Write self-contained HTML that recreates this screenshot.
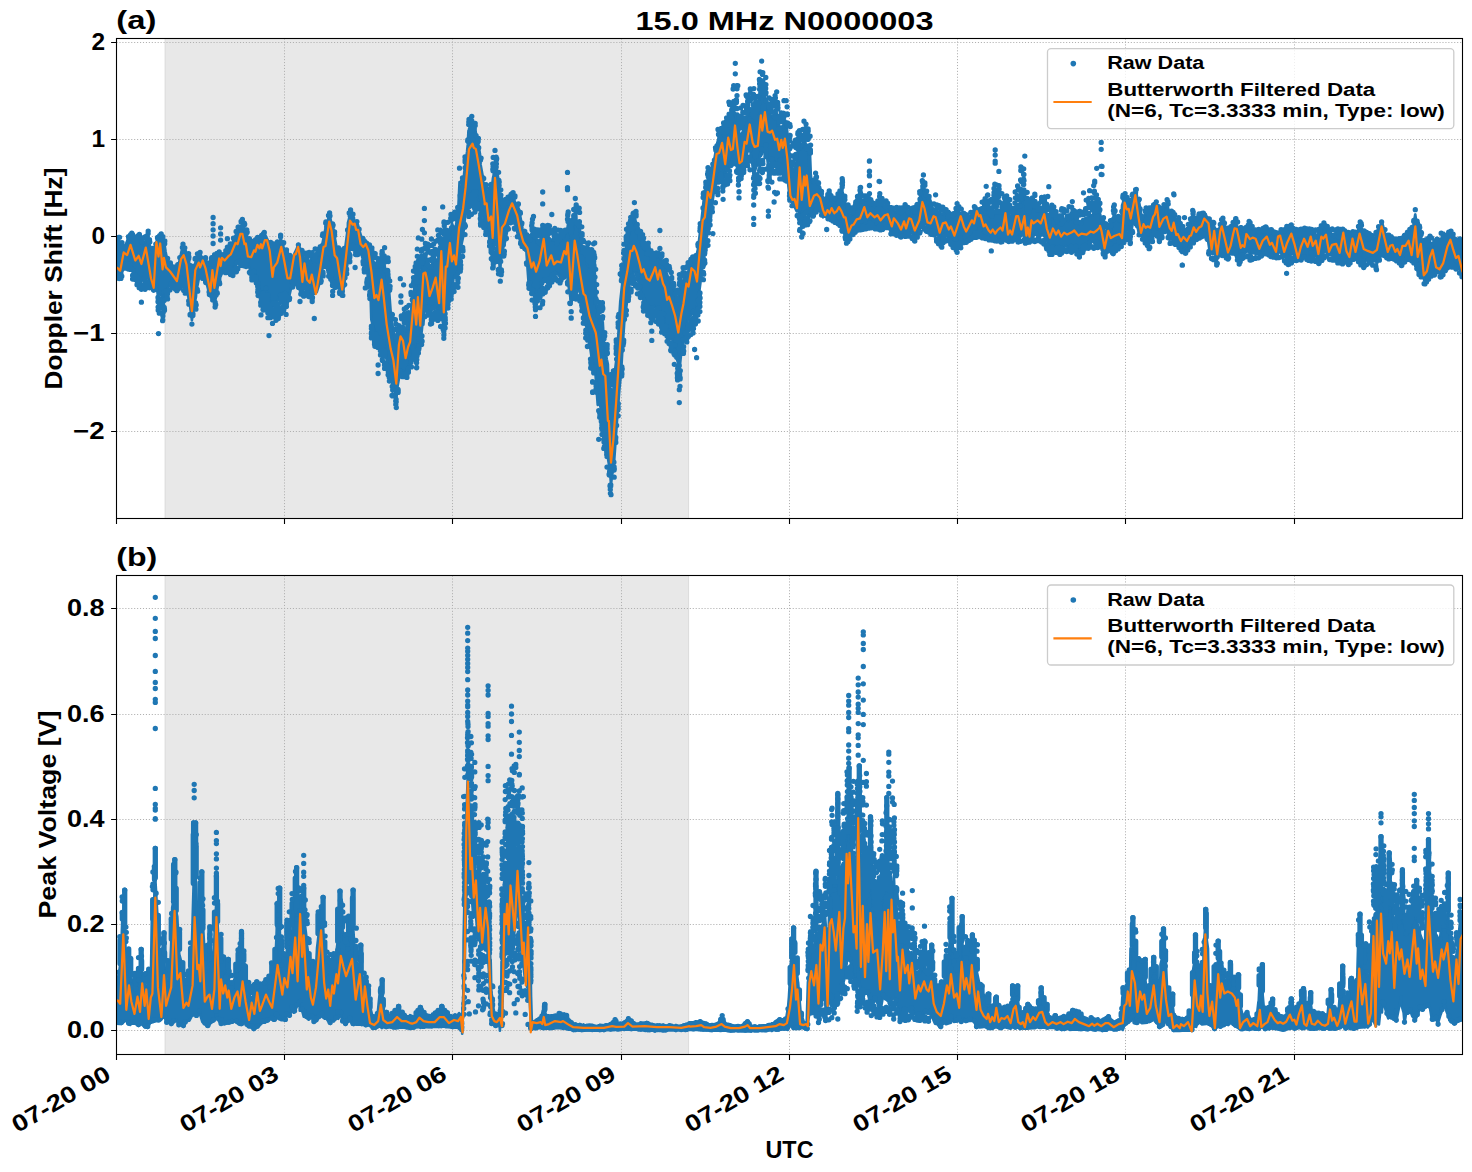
<!DOCTYPE html>
<html><head><meta charset="utf-8"><title>chart</title><style>html,body{margin:0;padding:0;background:#fff}svg{display:block}</style></head><body>
<svg width="1472" height="1172" viewBox="0 0 1472 1172" font-family="Liberation Sans, sans-serif" font-weight="bold" fill="#000">
<rect width="1472" height="1172" fill="#fff"/>
<defs>
<clipPath id="c1"><rect x="116.5" y="38.5" width="1346.0" height="480.0"/></clipPath>
<clipPath id="c2"><rect x="116.5" y="575.5" width="1346.0" height="479.0"/></clipPath>
</defs>
<rect x="164.8" y="38.5" width="524.2" height="480.0" fill="#e8e8e8"/>
<path d="M165.20000000000002 38.5V518.5M688.6 38.5V518.5" stroke="#dcdcdc" stroke-width="1" fill="none"/>
<path d="M284.5 38.5V518.5M452.5 38.5V518.5M621.5 38.5V518.5M789.5 38.5V518.5M957.5 38.5V518.5M1125.5 38.5V518.5M1294.5 38.5V518.5M116.5 42.5H1462.5M116.5 139.5H1462.5M116.5 236.5H1462.5M116.5 333.5H1462.5M116.5 431.5H1462.5" stroke="#b0b0b0" stroke-width="1" stroke-dasharray="1.1 1.84" fill="none"/>
<g clip-path="url(#c1)"><path d="M113.5 246.1 115.5 246.3 116.8 245.3 118.3 246.4 119.6 245.9 121.0 248.9 123.1 247.6 123.7 247.3 125.5 245.2 127.7 239.4 127.8 241.0 130.4 236.4 131.8 236.3 133.2 242.7 135.1 241.9 135.9 242.7 136.9 242.9 139.4 240.1 139.7 242.2 142.0 243.9 143.4 243.5 144.7 242.7 146.5 238.6 148.2 239.1 148.9 242.3 151.0 248.7 151.5 250.8 153.6 260.2 153.7 256.8 156.6 241.0 157.8 239.6 159.4 241.7 161.2 238.6 161.3 238.6 163.1 246.6 164.6 244.6 165.6 251.5 167.3 260.3 168.5 264.1 170.7 266.1 172.8 268.1 172.8 270.3 175.1 270.4 176.9 268.8 178.3 266.0 179.0 263.1 181.3 252.2 183.0 245.8 183.7 247.4 185.8 251.0 187.8 256.9 187.9 260.6 189.9 269.3 191.9 278.2 192.3 278.5 194.4 265.4 196.3 260.0 197.4 255.8 199.1 254.9 200.1 254.6 201.5 256.4 204.1 259.2 205.6 259.5 206.1 260.8 209.1 265.2 209.7 265.6 212.0 260.9 213.9 263.2 216.1 259.8 217.8 255.3 218.8 256.1 221.4 253.6 224.4 253.4 226.0 251.7 226.7 251.5 229.5 249.8 232.1 245.0 232.9 241.4 234.2 237.9 236.7 233.5 238.3 228.5 239.6 226.8 242.4 225.5 242.4 222.7 244.8 232.6 246.5 233.2 247.3 236.4 249.2 242.3 250.6 245.5 251.2 245.2 254.0 245.2 256.3 240.5 257.4 239.2 258.3 242.9 260.8 237.6 263.4 235.0 264.3 233.4 266.0 236.5 268.3 241.3 269.7 242.3 270.6 247.7 273.0 253.6 275.2 250.2 275.7 252.0 278.2 244.0 280.4 240.6 280.6 237.9 282.8 244.8 284.7 250.3 286.1 252.5 286.5 254.9 289.2 260.2 291.6 261.2 292.1 259.0 294.6 253.0 296.9 248.4 298.4 244.1 298.9 245.4 300.0 247.9 301.3 252.9 304.3 258.1 306.1 258.2 307.0 259.3 309.5 262.1 312.3 256.8 314.3 257.7 314.4 258.1 316.8 259.2 319.7 252.9 320.4 250.6 322.2 244.4 324.6 232.8 326.5 223.0 326.7 225.3 329.2 215.0 329.6 214.5 332.1 226.6 333.6 231.0 333.9 232.5 336.7 247.9 337.7 249.7 339.5 255.0 342.3 261.1 343.8 259.9 345.0 249.4 347.8 227.8 347.9 222.9 350.2 214.4 350.6 211.8 352.7 217.0 355.0 222.0 356.9 224.0 357.1 221.7 359.7 231.3 362.2 239.6 363.2 239.8 364.2 239.5 366.6 241.7 369.0 245.9 371.2 251.6 372.4 255.5 373.5 262.3 375.9 264.4 378.4 267.4 379.5 266.6 381.0 263.5 383.3 262.4 384.6 265.1 385.2 268.9 387.2 278.4 388.7 284.3 389.3 292.5 391.8 327.2 391.8 321.2 394.6 337.3 397.3 347.1 397.9 337.0 400.1 325.7 402.9 326.3 404.0 326.3 405.0 331.6 407.8 325.7 410.1 316.0 410.4 317.9 412.3 298.3 414.1 291.7 414.2 285.0 415.9 287.4 418.3 276.6 418.6 279.8 420.7 280.4 422.4 258.3 422.7 256.5 425.2 253.6 427.4 263.4 427.5 261.6 429.3 265.2 431.3 265.9 433.8 258.2 434.6 256.6 435.8 260.1 437.9 260.1 440.5 245.9 440.7 244.0 442.7 243.2 442.9 252.0 445.1 249.1 446.8 243.2 447.4 242.7 449.3 236.0 451.5 226.5 451.9 223.1 453.8 228.2 455.9 225.7 457.0 219.3 457.4 216.4 457.8 218.9 459.5 182.1 460.2 198.8 460.7 194.6 463.1 184.4 464.3 171.9 465.1 166.3 467.0 151.9 467.7 144.9 468.4 131.0 470.4 127.8 471.8 123.6 472.3 129.2 474.1 126.7 475.2 127.8 476.1 134.4 477.2 136.7 478.7 146.3 480.0 154.0 480.7 164.9 482.7 175.9 483.4 183.1 486.0 189.0 487.5 193.3 488.4 198.0 490.2 200.0 490.5 201.6 492.9 178.4 493.5 175.8 495.0 160.6 496.2 165.6 498.4 179.1 498.6 184.9 500.4 202.8 500.7 205.7 502.5 210.5 503.3 208.6 505.6 209.5 508.0 200.3 508.1 201.4 510.2 197.7 512.8 197.5 513.1 194.7 514.7 201.3 516.8 205.5 519.2 209.6 519.8 213.4 522.6 229.1 523.3 231.5 524.8 234.0 527.6 238.9 528.4 239.6 529.8 238.5 532.5 231.4 532.7 233.1 533.5 238.2 535.4 239.3 537.7 240.2 539.8 242.2 541.6 233.3 542.7 229.5 544.5 233.4 546.3 238.7 547.8 235.8 549.1 238.2 552.1 240.3 554.6 237.8 556.6 242.4 558.0 238.1 559.4 238.5 562.4 238.7 564.1 237.0 565.0 233.3 565.1 232.4 567.4 228.5 568.2 222.6 569.7 234.4 570.2 234.8 571.9 235.7 573.3 227.4 573.9 221.0 575.3 211.3 576.3 214.8 576.6 222.0 578.9 224.4 579.4 222.8 580.9 240.5 582.4 250.0 582.8 250.9 585.4 257.3 587.6 266.0 588.5 263.7 590.0 269.3 592.2 269.7 594.7 270.9 595.0 275.8 596.7 304.2 596.7 304.2 597.9 314.1 599.7 320.7 601.8 321.0 602.8 322.2 602.8 322.2 603.8 339.4 603.8 339.4 604.0 342.8 606.9 359.7 607.9 364.2 608.9 392.7 609.7 400.7 611.9 400.4 612.6 397.7 613.9 383.3 615.1 369.3 616.6 357.7 618.1 338.8 619.4 314.7 620.2 302.0 620.2 302.0 622.3 282.9 624.2 250.4 624.5 255.6 627.4 240.2 630.0 230.6 630.4 228.5 632.4 227.1 634.4 215.0 635.3 219.4 637.4 230.6 638.5 234.6 640.1 239.3 642.0 247.0 642.6 245.6 644.0 248.9 646.9 252.2 648.7 254.1 648.9 255.0 651.7 256.9 653.8 257.5 654.2 257.6 657.0 257.7 659.2 255.4 659.9 254.4 661.4 260.9 663.6 262.0 666.0 267.3 666.4 272.5 669.0 279.6 671.9 284.2 672.2 284.2 674.8 292.5 676.7 299.0 677.3 301.3 679.2 291.4 680.3 284.5 681.1 286.2 683.0 281.5 684.8 274.0 685.4 271.7 687.7 273.7 690.4 262.6 690.5 262.6 693.2 259.6 695.4 259.3 695.6 259.3 698.0 248.8 700.7 226.3 700.7 227.1 703.0 206.5 703.8 198.7 705.4 192.9 707.5 180.8 707.8 179.2 709.4 181.6 711.5 176.9 711.9 175.2 714.4 158.8 716.0 149.3 716.9 144.4 718.0 140.0 719.8 136.7 721.4 131.8 722.1 132.7 723.1 133.8 724.3 138.7 725.5 136.5 727.0 130.1 728.9 119.2 729.8 123.4 731.0 125.7 731.6 126.9 733.7 109.6 734.2 111.8 736.1 113.8 737.8 113.6 738.1 122.1 739.1 132.7 740.9 135.1 742.6 132.1 742.8 131.3 743.9 116.9 744.9 117.5 747.9 115.7 748.7 107.6 750.2 108.6 752.1 113.3 754.1 115.2 754.8 115.5 756.2 116.4 758.3 111.4 758.9 101.6 759.6 93.8 760.8 91.3 761.7 89.8 763.7 94.1 764.4 94.2 766.0 99.7 767.1 102.0 768.9 113.5 769.2 112.5 771.8 116.6 773.3 117.1 774.0 115.0 774.6 113.4 776.1 116.6 776.7 113.0 778.4 127.5 778.7 124.3 780.4 127.7 782.8 125.8 782.9 128.9 784.2 118.6 784.8 119.7 786.2 122.1 786.6 124.8 788.3 141.2 789.6 154.2 790.4 161.9 791.0 164.4 791.7 166.7 793.5 171.1 793.8 171.4 794.3 169.4 796.6 161.7 797.2 154.5 797.6 153.0 798.8 143.8 799.2 141.0 800.6 143.6 800.6 149.5 803.5 141.1 804.0 138.9 804.7 139.6 806.5 147.1 807.7 144.8 807.8 144.8 809.5 170.4 809.8 169.0 810.1 155.5 810.8 173.8 811.4 179.7 812.2 182.5 812.9 183.2 813.5 182.4 815.6 178.1 815.9 178.9 816.0 178.9 819.0 185.0 819.7 186.7 820.0 186.9 821.4 192.3 824.1 201.3 824.1 201.3 826.7 199.5 828.8 197.3 829.2 196.8 831.2 200.0 833.4 202.0 834.3 201.3 835.5 199.9 837.4 197.0 839.4 194.1 839.5 194.6 842.4 188.8 842.5 191.9 844.8 200.3 845.5 203.6 847.4 209.2 850.0 215.9 851.6 214.0 852.9 211.1 855.2 206.9 857.4 204.7 859.5 200.1 860.0 196.9 861.2 199.5 861.7 199.9 864.5 199.4 867.4 200.9 868.4 200.8 869.6 202.2 871.8 205.0 874.2 206.6 874.5 206.9 876.7 204.3 879.2 202.0 879.6 201.7 881.3 202.9 883.2 206.0 885.3 205.2 886.7 203.9 887.1 205.0 889.6 209.5 891.5 211.0 892.8 211.4 893.4 211.6 895.9 212.4 896.9 209.8 898.1 210.2 900.8 211.2 903.2 209.2 905.1 209.2 906.1 212.1 908.0 211.4 910.5 209.3 911.2 209.9 913.2 212.9 915.1 210.6 917.3 208.5 918.0 206.2 920.0 197.8 920.4 192.5 922.8 184.7 923.4 182.8 925.8 194.8 927.5 198.6 928.5 204.3 930.7 205.9 931.6 206.8 932.7 208.2 935.1 209.7 938.0 211.5 940.1 213.0 943.0 214.2 943.8 210.7 945.0 213.1 947.9 215.7 949.7 216.2 951.9 217.9 952.0 217.8 954.8 215.6 957.1 209.4 957.5 211.3 960.4 213.5 962.2 212.4 963.2 214.1 965.9 218.1 968.3 218.6 968.5 218.6 970.6 217.4 972.9 211.6 974.4 209.2 974.9 209.8 977.5 208.5 980.1 211.9 980.5 212.1 982.2 212.2 983.6 212.0 984.1 211.8 986.2 206.8 987.1 210.4 989.8 216.5 990.7 216.3 992.3 214.7 994.7 210.6 994.8 210.6 997.6 210.6 999.9 210.0 1000.9 209.4 1002.2 210.1 1004.4 204.7 1006.5 208.2 1007.0 209.6 1008.3 214.5 1010.9 216.1 1013.1 214.5 1013.2 215.0 1015.7 206.4 1017.6 204.3 1019.3 203.3 1019.8 204.7 1021.3 197.8 1021.8 200.3 1023.7 192.8 1024.8 191.3 1025.8 201.7 1027.4 211.5 1028.6 211.4 1030.9 209.4 1031.5 206.4 1033.2 207.7 1035.7 208.1 1037.8 208.8 1039.6 210.3 1039.7 210.5 1042.0 208.9 1044.4 207.0 1047.0 215.0 1047.8 215.1 1049.3 220.4 1052.0 216.3 1053.9 216.4 1054.6 218.2 1056.7 223.2 1058.0 219.8 1059.1 219.6 1061.5 222.5 1063.6 219.3 1064.1 218.7 1065.9 219.0 1068.3 221.0 1071.2 218.6 1072.3 217.4 1074.1 218.0 1076.3 220.7 1076.4 220.5 1078.8 221.0 1080.7 222.1 1082.5 219.2 1082.6 220.1 1085.0 218.3 1087.8 217.8 1089.6 214.4 1089.8 215.1 1092.5 215.6 1094.7 208.8 1095.4 210.6 1097.6 210.7 1098.8 210.4 1100.0 213.6 1100.2 214.3 1103.0 227.8 1103.1 227.1 1105.3 233.3 1106.1 232.2 1107.9 228.4 1110.2 230.5 1110.6 231.6 1112.3 219.5 1113.1 218.4 1114.3 212.9 1115.9 216.7 1117.4 218.4 1118.8 222.1 1121.0 222.5 1121.8 210.1 1122.0 205.5 1124.3 198.7 1125.1 195.5 1126.3 198.6 1128.4 205.8 1128.7 202.9 1130.4 202.0 1132.8 196.4 1132.9 196.6 1135.6 190.9 1136.3 191.1 1137.5 199.5 1139.4 203.6 1140.1 207.5 1142.0 219.4 1142.8 219.5 1145.0 214.1 1146.1 212.3 1147.4 214.6 1149.4 214.0 1151.2 211.3 1152.1 212.7 1153.9 209.2 1156.3 201.6 1156.9 206.1 1159.7 212.7 1160.4 213.0 1162.2 210.4 1163.5 208.3 1164.3 208.2 1167.1 203.7 1167.2 204.6 1170.2 215.7 1170.6 214.7 1172.2 215.0 1173.7 213.7 1174.9 218.1 1177.7 220.2 1177.8 220.2 1180.3 225.1 1181.9 227.4 1182.9 228.3 1185.3 231.5 1186.0 232.0 1188.2 227.7 1190.1 222.3 1191.1 220.6 1192.7 214.8 1193.4 216.4 1196.2 222.4 1196.2 220.8 1198.3 216.9 1198.5 216.8 1200.5 216.1 1202.7 214.4 1203.4 213.2 1204.6 213.4 1207.5 217.8 1208.5 217.9 1210.5 227.3 1212.4 226.4 1213.7 224.7 1214.9 228.1 1217.2 232.9 1217.7 232.9 1219.2 228.5 1221.3 222.9 1222.9 220.0 1223.4 222.1 1226.1 229.1 1227.0 231.8 1227.9 232.7 1229.9 231.6 1231.1 230.3 1232.3 227.2 1234.1 224.4 1235.7 219.8 1236.6 224.7 1239.2 230.7 1240.3 230.6 1242.0 231.5 1244.0 233.7 1245.4 229.5 1246.2 228.5 1248.6 228.3 1250.0 225.4 1250.7 226.8 1253.2 231.2 1255.3 231.9 1255.6 231.2 1258.0 235.0 1260.7 235.0 1263.5 229.9 1265.8 228.5 1266.5 229.8 1268.9 231.4 1271.3 232.4 1274.1 235.1 1276.0 235.9 1276.9 236.0 1279.3 231.7 1281.6 233.9 1283.7 232.9 1284.2 232.6 1285.7 231.4 1288.4 228.5 1290.4 226.7 1291.3 226.3 1293.1 228.7 1295.5 233.5 1298.4 236.6 1298.5 237.1 1301.2 232.9 1304.2 231.7 1304.6 230.1 1306.1 234.3 1308.5 232.6 1311.0 230.6 1313.2 234.0 1314.7 232.3 1315.6 234.9 1317.8 235.0 1320.3 229.5 1322.1 228.7 1323.9 225.7 1324.4 229.2 1326.7 228.8 1328.9 233.1 1331.1 232.5 1331.2 233.9 1333.9 234.2 1336.5 232.9 1338.9 235.9 1339.2 234.3 1341.5 233.0 1343.8 231.0 1345.8 234.3 1347.6 236.2 1349.4 236.9 1349.7 239.4 1352.3 233.6 1355.1 238.2 1355.5 236.1 1357.9 230.8 1360.2 224.5 1360.3 225.3 1363.3 231.7 1365.7 234.8 1365.7 234.8 1368.5 237.7 1370.8 236.7 1373.4 238.7 1373.9 237.5 1376.4 237.2 1378.6 229.7 1380.6 227.7 1381.6 221.3 1383.1 226.0 1385.6 235.8 1386.1 234.9 1387.8 237.7 1389.6 239.0 1391.9 239.6 1394.2 241.4 1394.3 240.6 1396.5 241.0 1399.3 242.2 1401.8 242.0 1402.4 239.1 1404.5 237.3 1407.4 234.8 1408.6 233.0 1410.1 234.4 1412.5 231.6 1412.6 229.9 1415.2 214.5 1415.3 214.4 1417.7 231.8 1418.7 232.3 1420.3 233.4 1422.8 244.2 1422.9 244.6 1425.2 249.1 1427.7 245.3 1430.0 241.2 1430.3 244.2 1433.2 242.5 1435.1 246.3 1435.9 247.8 1438.7 246.3 1441.2 242.1 1441.5 242.0 1444.2 240.6 1446.3 238.6 1446.8 238.5 1449.0 236.2 1451.0 232.6 1451.1 236.3 1453.8 240.4 1456.5 246.3 1456.6 246.3 1459.1 245.0 1461.0 248.1 1462.6 245.0 1463.8 245.5 L1463.8 279.1 1462.6 278.2 1461.0 271.1 1459.1 269.4 1456.6 266.9 1454.4 264.2 1453.8 263.5 1451.1 261.2 1449.0 260.0 1447.3 263.6 1446.8 264.1 1444.2 267.4 1441.5 272.4 1441.2 275.4 1438.7 272.3 1435.9 273.8 1435.1 272.4 1433.2 270.0 1430.3 269.1 1430.0 272.3 1427.7 277.6 1425.2 280.7 1424.9 282.7 1422.9 275.8 1420.3 265.1 1419.8 269.5 1417.7 266.6 1415.7 256.4 1415.2 255.1 1412.5 257.2 1410.1 257.0 1408.6 255.0 1407.4 255.3 1404.5 258.9 1401.8 259.2 1401.4 262.3 1399.3 259.7 1396.5 258.2 1396.3 259.1 1394.2 257.0 1391.9 256.7 1389.6 255.4 1388.2 257.9 1387.8 256.8 1385.6 253.8 1383.1 249.8 1382.0 247.8 1380.6 249.4 1378.6 258.6 1376.5 265.4 1376.4 261.3 1373.4 261.1 1370.8 260.3 1369.8 260.8 1368.5 261.3 1365.7 259.7 1363.7 263.3 1363.3 262.0 1360.3 255.4 1357.9 254.7 1355.5 257.3 1355.1 257.3 1352.3 253.7 1349.7 261.4 1348.4 263.4 1347.6 261.8 1345.8 259.9 1343.8 254.9 1341.5 258.7 1339.2 261.4 1338.9 260.9 1336.5 257.7 1333.9 255.9 1331.2 255.4 1328.9 254.9 1327.0 254.4 1326.7 251.0 1324.4 251.7 1322.1 254.2 1320.3 258.1 1318.8 261.2 1317.8 260.3 1315.6 254.3 1313.2 257.1 1311.0 254.0 1308.5 256.3 1306.6 256.4 1306.1 256.0 1304.2 255.2 1301.2 256.1 1298.5 260.9 1296.4 259.9 1295.5 258.7 1293.1 253.4 1290.4 255.0 1288.4 256.6 1288.2 258.7 1285.7 256.7 1283.7 256.5 1282.1 255.3 1281.6 254.2 1279.3 251.1 1276.9 254.9 1274.1 256.3 1274.0 256.1 1271.3 254.0 1268.9 250.7 1266.5 250.6 1263.8 251.4 1263.5 250.1 1260.7 254.6 1258.0 253.6 1255.6 254.8 1255.3 253.6 1253.2 252.9 1250.7 253.9 1250.0 254.9 1248.6 250.8 1246.2 252.1 1244.0 254.0 1243.3 255.9 1242.0 256.2 1239.2 258.6 1239.2 258.6 1236.6 250.1 1234.1 248.0 1233.1 248.0 1232.3 249.6 1229.9 252.1 1228.0 258.3 1227.9 255.3 1226.1 252.7 1223.4 248.2 1221.3 247.3 1220.8 248.5 1219.2 253.8 1217.2 258.5 1216.7 262.1 1214.9 253.1 1212.4 254.2 1210.5 252.0 1209.6 251.4 1207.5 237.3 1206.5 232.0 1204.6 232.4 1202.7 232.0 1202.4 234.0 1200.5 233.7 1198.5 237.1 1196.2 238.6 1196.2 238.5 1193.4 239.5 1191.1 244.1 1190.1 245.9 1188.2 248.2 1185.5 250.8 1185.3 248.1 1182.9 249.4 1181.9 249.7 1180.3 248.3 1177.7 244.8 1175.8 243.0 1174.9 240.3 1172.2 238.4 1170.2 239.5 1169.6 240.0 1167.2 231.3 1164.5 229.9 1164.3 230.2 1162.2 233.7 1159.7 237.5 1159.4 237.9 1156.9 231.1 1154.3 231.8 1153.9 232.3 1152.1 236.3 1149.4 240.2 1149.1 243.7 1147.4 241.5 1145.0 239.2 1143.0 237.1 1142.8 236.4 1140.1 232.9 1138.9 233.3 1137.5 227.2 1135.6 219.6 1134.8 218.0 1132.9 223.2 1130.4 235.6 1130.2 236.6 1128.4 229.0 1126.6 231.0 1126.3 229.3 1124.3 232.4 1123.5 237.7 1121.8 244.2 1118.8 243.1 1118.4 245.9 1115.9 247.5 1113.3 250.3 1113.1 250.0 1110.6 245.2 1110.2 247.1 1107.9 248.4 1105.3 254.7 1105.1 255.1 1103.0 250.8 1100.2 243.2 1100.0 244.3 1097.6 244.1 1096.7 244.3 1095.4 243.3 1092.5 241.0 1089.8 243.7 1087.8 244.4 1086.6 245.6 1085.0 246.8 1082.6 247.8 1080.7 248.9 1079.4 251.3 1078.8 251.0 1076.3 247.8 1074.1 248.2 1071.2 247.9 1070.2 247.9 1068.3 248.1 1065.9 245.9 1063.6 247.8 1061.5 249.8 1060.0 249.7 1059.1 248.9 1056.7 249.3 1054.6 245.9 1052.0 248.7 1049.8 250.3 1049.3 248.9 1047.0 240.1 1045.8 240.2 1044.4 236.0 1042.0 234.2 1039.6 237.4 1037.8 234.9 1037.6 236.3 1035.7 234.1 1033.2 235.9 1030.9 238.1 1028.6 241.1 1025.8 240.3 1025.4 239.8 1023.7 235.1 1021.8 235.0 1019.8 237.7 1017.6 232.6 1015.7 235.8 1013.2 238.4 1013.1 239.2 1010.9 238.3 1008.3 239.3 1006.5 233.5 1004.4 233.5 1002.2 237.5 1000.9 239.6 999.9 237.0 997.6 238.0 994.7 236.8 992.7 238.8 992.3 236.7 989.8 238.8 987.1 237.0 984.1 235.8 982.6 234.9 982.2 234.3 980.1 230.9 978.5 230.9 977.5 230.6 974.9 234.3 972.9 234.5 972.4 235.9 970.6 236.5 968.5 238.5 965.9 239.9 964.2 240.5 963.2 239.9 960.4 239.0 957.5 245.3 957.1 246.3 954.8 245.3 951.9 239.6 949.7 237.5 947.9 237.8 947.9 235.3 945.0 236.5 943.0 239.9 941.8 242.5 940.1 240.0 938.0 235.5 935.6 235.0 935.1 231.7 932.7 232.3 930.7 229.0 929.5 230.9 928.5 230.6 925.8 223.0 922.8 223.3 921.4 224.9 920.0 228.4 918.0 233.1 915.1 238.9 914.8 239.2 913.2 233.6 910.5 232.8 909.1 232.4 908.0 231.2 906.1 232.9 903.2 234.4 901.0 236.1 900.8 236.0 898.1 233.4 895.9 232.5 893.4 232.1 891.5 232.8 890.8 232.5 889.6 229.3 887.7 225.5 887.1 225.4 885.3 225.1 883.2 226.7 881.3 225.7 880.6 228.4 879.2 227.7 876.7 226.4 874.2 226.7 871.8 225.6 870.4 225.2 869.6 224.0 867.4 225.4 864.5 223.6 861.7 224.6 860.0 227.8 859.5 226.6 858.2 228.1 857.4 228.9 855.2 229.4 852.9 233.2 851.6 234.8 850.0 236.5 847.4 237.4 846.5 238.5 844.8 233.6 844.5 234.6 842.5 229.6 839.5 219.0 839.4 222.1 837.4 220.9 835.5 218.5 833.4 220.1 831.2 218.3 831.2 217.5 828.8 216.8 826.7 217.0 824.1 216.4 823.1 217.3 821.4 212.4 819.0 205.5 819.0 204.4 816.0 207.2 813.5 211.4 812.9 213.5 811.4 213.5 809.5 217.0 807.8 215.9 806.5 212.9 803.5 215.9 801.7 224.8 800.6 219.3 799.6 213.9 798.8 210.7 796.6 210.6 796.6 211.3 794.3 206.1 791.7 202.0 789.6 194.4 789.4 196.4 786.6 168.9 786.4 168.2 784.8 163.0 782.9 165.4 782.3 165.3 780.4 161.1 778.4 165.9 776.1 163.0 774.1 161.7 774.0 161.6 771.8 160.4 768.9 161.3 768.0 165.1 766.0 147.6 766.0 146.3 763.7 150.3 760.9 156.2 760.8 150.3 758.9 162.0 756.2 166.9 754.1 174.3 753.7 176.9 752.1 162.2 750.2 150.8 749.7 148.4 747.9 151.0 744.9 159.8 744.6 160.8 742.8 167.5 740.9 173.3 738.4 174.3 738.1 170.1 736.1 160.8 734.2 155.8 732.3 158.6 731.6 160.0 729.8 165.1 729.3 167.1 727.0 170.8 724.3 176.2 723.1 180.1 722.1 171.8 721.1 170.0 719.8 173.8 716.9 179.6 715.0 188.3 714.4 188.6 711.5 209.0 709.9 214.6 709.4 215.4 707.5 226.8 706.8 236.4 705.4 244.2 703.0 256.8 702.7 258.2 700.7 280.0 700.7 280.9 698.0 301.5 695.4 313.4 694.6 316.2 693.2 312.7 690.4 316.4 687.7 319.2 687.5 322.6 684.8 334.1 683.4 343.4 683.0 341.0 681.1 354.4 679.3 371.7 679.2 367.0 676.7 358.5 674.8 346.5 674.2 350.1 671.9 337.3 670.1 332.9 669.0 329.5 666.4 328.0 664.0 321.8 663.6 315.1 661.4 314.7 659.2 309.3 657.9 310.7 657.0 310.0 654.2 306.2 651.7 308.9 649.7 310.4 648.9 308.7 646.9 306.1 644.0 296.8 643.6 300.3 642.0 296.7 640.1 288.0 639.5 288.3 637.4 276.5 635.3 270.5 633.4 273.5 632.4 277.0 630.0 277.3 629.3 286.9 627.4 299.4 624.5 320.6 624.2 323.8 622.3 351.4 621.2 371.5 619.4 389.9 617.1 419.4 616.6 426.8 614.0 463.6 613.9 463.5 611.9 477.3 611.0 484.4 609.7 469.2 607.9 458.4 606.9 447.2 604.0 425.1 603.8 424.2 601.8 412.0 599.7 404.4 597.9 404.3 597.7 405.0 597.7 405.0 595.0 368.0 592.2 359.7 591.6 357.9 590.0 346.3 589.6 343.3 587.6 330.9 585.4 323.9 584.5 324.5 584.5 324.5 582.8 309.4 580.9 292.4 580.4 294.9 578.9 287.1 576.6 281.1 576.3 284.8 575.3 280.3 573.9 283.8 571.9 300.1 571.2 304.6 571.2 304.6 569.7 292.8 569.2 291.0 567.4 276.5 566.1 272.9 565.1 273.7 565.0 271.9 562.4 273.2 560.0 278.1 559.4 276.2 556.6 272.9 554.9 275.7 554.6 274.9 552.1 276.3 549.1 280.3 547.8 284.0 546.3 281.7 544.5 281.2 541.6 284.9 540.6 292.2 539.8 292.5 537.7 296.4 535.5 298.5 535.4 297.5 532.7 291.4 529.8 283.9 528.4 280.8 527.6 270.0 526.4 251.9 524.8 249.9 522.6 246.2 519.8 239.8 518.2 236.1 516.8 230.1 514.7 222.4 512.8 218.7 512.1 217.9 510.2 220.8 508.1 223.4 508.0 226.4 505.6 239.4 503.9 246.4 503.3 246.2 500.7 262.9 500.3 272.0 498.6 257.7 496.2 240.4 495.8 241.5 493.5 248.1 492.7 256.8 490.5 242.0 489.7 240.8 488.4 234.8 486.0 227.9 483.5 221.5 483.4 215.3 480.7 210.9 478.7 202.3 476.1 193.2 475.4 193.2 474.1 193.2 472.3 193.2 470.4 193.4 467.7 200.2 467.2 203.2 465.1 216.9 463.1 236.0 463.1 236.9 460.7 248.6 459.1 269.7 457.8 274.4 455.9 277.7 453.8 276.3 452.9 283.5 451.5 286.8 449.3 289.3 447.8 298.6 447.4 298.0 445.1 315.1 443.8 328.1 442.9 322.9 440.5 303.3 438.7 314.0 437.9 313.8 435.8 303.3 433.8 308.7 431.3 309.9 430.5 316.0 429.3 313.9 427.4 308.1 425.4 301.5 425.2 301.0 423.4 324.6 422.7 322.2 420.7 341.0 420.3 343.1 418.6 340.1 416.6 352.0 415.9 352.6 414.1 346.0 412.3 348.0 411.1 356.1 410.4 359.8 407.8 368.6 406.0 374.0 405.0 371.8 402.9 370.8 400.9 369.8 400.1 372.1 397.3 387.9 396.3 400.3 394.6 391.0 391.8 382.2 389.7 374.7 389.3 371.9 387.2 362.5 385.6 354.8 385.2 347.8 383.3 343.3 381.0 336.6 378.4 339.2 377.5 339.2 375.9 335.5 373.5 327.7 371.4 320.1 371.2 317.9 370.4 288.0 369.0 282.9 366.6 269.4 364.2 264.2 362.2 257.2 361.2 253.1 359.7 250.8 356.9 248.1 355.0 246.7 353.0 246.4 352.7 246.8 350.2 247.6 347.9 260.4 347.8 261.9 345.0 279.1 342.8 294.1 342.3 292.6 339.5 286.9 337.7 283.7 336.7 281.4 333.9 280.9 332.6 279.4 332.1 275.3 329.2 262.6 326.7 259.5 326.5 259.1 324.6 265.2 322.2 268.4 319.7 279.2 319.4 283.8 316.8 292.1 314.4 293.6 312.3 292.1 312.2 295.9 309.5 292.8 307.0 291.0 306.1 288.4 304.3 288.6 301.3 291.8 300.0 290.3 298.9 280.5 298.4 276.4 296.9 276.4 294.6 278.6 292.1 283.1 291.6 285.9 289.2 296.4 287.5 304.0 286.5 297.6 284.7 294.8 282.8 296.5 280.6 296.4 280.4 296.6 278.2 299.8 275.7 304.1 273.0 304.8 272.5 308.6 270.6 302.9 268.3 296.2 266.0 289.5 263.4 294.3 260.8 291.2 260.2 294.0 258.3 284.9 256.3 276.4 256.1 275.8 254.0 272.6 251.2 270.7 250.6 272.2 249.2 267.4 247.3 261.9 246.5 262.7 244.8 262.1 242.4 256.1 241.1 261.2 239.6 262.6 236.7 263.7 234.2 264.1 232.9 269.1 232.1 268.3 229.5 269.6 226.7 270.0 224.4 269.8 223.3 269.2 221.4 274.5 219.2 280.1 218.8 280.6 216.1 296.5 215.1 301.6 213.9 296.0 212.0 295.3 211.0 296.8 209.1 293.4 206.1 281.2 205.6 278.8 204.1 276.1 201.5 273.8 200.1 275.1 199.1 277.4 196.3 291.4 196.0 296.8 194.4 304.3 192.3 317.1 191.9 320.3 189.9 305.0 187.9 295.0 187.8 293.7 185.8 285.2 183.7 278.6 182.4 277.7 181.3 276.7 179.0 284.0 176.9 288.6 176.9 288.8 175.1 287.5 172.8 285.3 171.4 283.9 170.7 285.2 168.5 286.3 167.3 291.9 165.6 292.6 163.1 302.7 162.6 304.3 161.3 295.2 159.4 293.8 157.8 295.9 156.6 280.8 156.4 281.2 153.6 291.4 151.5 288.4 151.0 287.4 148.9 280.4 146.5 274.8 144.7 278.5 142.0 280.0 141.4 282.3 139.7 280.3 136.9 278.0 135.1 276.2 133.2 275.3 133.2 271.6 130.5 266.0 130.4 265.8 127.8 265.4 125.5 265.0 125.0 264.5 123.1 269.3 121.0 276.1 120.9 276.5 118.3 277.2 116.8 276.8 115.5 273.7 113.5 276.7Z" fill="#1f77b4" stroke="#1f77b4" stroke-width="2.6" stroke-linejoin="round"/><path d="M113.5 247.5h0M118.3 247.8h0M121.0 250.2h0M125.5 246.6h0M130.4 237.8h0M133.2 244.0h0M136.9 244.3h0M153.6 261.5h0M163.1 248.0h0M168.5 265.5h0M170.7 267.4h0M172.8 271.7h0M176.9 270.1h0M179.0 264.4h0M187.9 262.0h0M189.9 270.7h0M192.3 279.9h0M194.4 266.8h0M199.1 256.2h0M212.0 262.3h0M213.9 264.5h0M216.1 261.2h0M218.8 257.4h0M221.4 255.0h0M224.4 254.7h0M229.5 251.1h0M234.2 239.2h0M242.4 226.8h0M244.8 233.9h0M249.2 243.7h0M251.2 246.5h0M256.3 241.8h0M258.3 244.2h0M260.8 238.9h0M263.4 236.3h0M270.6 249.1h0M275.7 253.4h0M280.4 241.9h0M284.7 251.6h0M286.5 256.2h0M307.0 260.6h0M309.5 263.4h0M314.4 259.4h0M316.8 260.6h0M322.2 245.7h0M324.6 234.2h0M326.7 226.6h0M329.2 216.3h0M332.1 227.9h0M339.5 256.3h0M345.0 250.8h0M350.2 215.7h0M352.7 218.3h0M362.2 241.0h0M364.2 240.9h0M366.6 243.1h0M373.5 263.7h0M375.9 265.8h0M381.0 264.9h0M385.2 270.2h0M400.1 327.1h0M407.8 327.1h0M412.3 299.7h0M414.1 293.1h0M415.9 288.8h0M420.7 281.8h0M425.2 254.9h0M427.4 264.7h0M429.3 266.5h0M431.3 267.2h0M433.8 259.5h0M440.5 247.3h0M449.3 237.3h0M451.5 227.9h0M457.8 220.3h0M463.1 185.7h0M465.1 167.7h0M470.4 129.2h0M472.3 130.5h0M474.1 128.0h0M476.1 135.7h0M478.7 147.7h0M483.4 184.5h0M488.4 199.4h0M496.2 166.9h0M508.1 202.8h0M516.8 206.8h0M524.8 235.4h0M527.6 240.2h0M529.8 239.9h0M532.7 234.4h0M537.7 241.6h0M539.8 243.5h0M544.5 234.8h0M546.3 240.0h0M549.1 239.6h0M554.6 239.1h0M556.6 243.7h0M559.4 239.9h0M567.4 229.8h0M571.9 237.0h0M576.6 223.4h0M578.9 225.8h0M580.9 241.9h0M582.8 252.3h0M590.0 270.6h0M595.0 277.1h0M597.9 315.5h0M599.7 322.1h0M604.0 344.1h0M609.7 402.0h0M613.9 384.6h0M616.6 359.1h0M619.4 316.0h0M627.4 241.6h0M632.4 228.4h0M637.4 231.9h0M646.9 253.6h0M651.7 258.3h0M654.2 259.0h0M661.4 262.3h0M663.6 263.3h0M671.9 285.5h0M674.8 293.8h0M676.7 300.3h0M679.2 292.8h0M683.0 282.9h0M687.7 275.1h0M690.4 263.9h0M695.4 260.7h0M703.0 207.9h0M705.4 194.2h0M709.4 182.9h0M714.4 160.2h0M716.9 145.8h0M719.8 138.0h0M724.3 140.0h0M727.0 131.4h0M729.8 124.7h0M731.6 128.3h0M738.1 123.4h0M744.9 118.9h0M750.2 109.9h0M752.1 114.6h0M754.1 116.6h0M756.2 117.7h0M758.9 103.0h0M760.8 92.6h0M763.7 95.5h0M766.0 101.0h0M774.0 116.4h0M776.1 118.0h0M778.4 128.8h0M780.4 129.0h0M789.6 155.5h0M806.5 148.5h0M816.0 180.2h0M821.4 193.6h0M824.1 202.7h0M826.7 200.9h0M839.5 196.0h0M852.9 212.5h0M855.2 208.3h0M857.4 206.0h0M861.7 201.3h0M869.6 203.5h0M881.3 204.2h0M885.3 206.6h0M887.1 206.3h0M891.5 212.4h0M898.1 211.6h0M900.8 212.6h0M903.2 210.6h0M908.0 212.8h0M915.1 212.0h0M920.0 199.2h0M922.8 186.1h0M930.7 207.3h0M935.1 211.0h0M938.0 212.8h0M947.9 217.0h0M957.5 212.6h0M960.4 214.8h0M965.9 219.5h0M972.9 213.0h0M974.9 211.2h0M977.5 209.8h0M980.1 213.3h0M984.1 213.2h0M992.3 216.1h0M994.7 212.0h0M997.6 211.9h0M999.9 211.3h0M1002.2 211.5h0M1006.5 209.6h0M1013.2 216.4h0M1015.7 207.8h0M1017.6 205.6h0M1019.8 206.0h0M1023.7 194.2h0M1025.8 203.0h0M1028.6 212.8h0M1037.8 210.2h0M1042.0 210.3h0M1049.3 221.8h0M1061.5 223.8h0M1063.6 220.6h0M1076.3 222.1h0M1078.8 222.3h0M1080.7 223.4h0M1095.4 211.9h0M1103.0 229.1h0M1110.6 233.0h0M1113.1 219.7h0M1115.9 218.0h0M1121.8 211.5h0M1124.3 200.1h0M1135.6 192.3h0M1137.5 200.9h0M1140.1 208.8h0M1149.4 215.4h0M1152.1 214.0h0M1156.9 207.4h0M1162.2 211.7h0M1182.9 229.7h0M1188.2 229.0h0M1193.4 217.8h0M1196.2 223.8h0M1198.5 218.1h0M1202.7 215.7h0M1204.6 214.8h0M1212.4 227.8h0M1221.3 224.3h0M1226.1 230.5h0M1229.9 232.9h0M1232.3 228.5h0M1234.1 225.8h0M1239.2 232.0h0M1244.0 235.0h0M1246.2 229.8h0M1248.6 229.7h0M1253.2 232.6h0M1258.0 236.4h0M1260.7 236.4h0M1263.5 231.2h0M1266.5 231.1h0M1268.9 232.8h0M1276.9 237.3h0M1279.3 233.1h0M1281.6 235.3h0M1290.4 228.0h0M1293.1 230.1h0M1295.5 234.9h0M1301.2 234.3h0M1304.2 233.0h0M1306.1 235.7h0M1308.5 233.9h0M1311.0 232.0h0M1315.6 236.2h0M1317.8 236.3h0M1320.3 230.8h0M1328.9 234.4h0M1333.9 235.6h0M1338.9 237.2h0M1343.8 232.3h0M1347.6 237.5h0M1349.7 240.8h0M1357.9 232.2h0M1368.5 239.0h0M1370.8 238.0h0M1376.4 238.6h0M1378.6 231.1h0M1389.6 240.3h0M1391.9 241.0h0M1394.2 242.8h0M1396.5 242.3h0M1399.3 243.6h0M1401.8 243.3h0M1410.1 235.7h0M1412.5 233.0h0M1422.9 246.0h0M1425.2 250.4h0M1430.3 245.5h0M1435.9 249.2h0M1438.7 247.7h0M1441.5 243.4h0M1444.2 241.9h0M1451.1 237.6h0M1453.8 241.7h0M1456.6 247.7h0M1459.1 246.3h0M1463.8 246.9h0M115.5 272.4h0M118.3 275.8h0M121.0 274.7h0M123.1 267.9h0M125.5 263.7h0M127.8 264.0h0M130.4 264.5h0M133.2 270.3h0M135.1 274.9h0M136.9 276.6h0M139.7 279.0h0M144.7 277.2h0M146.5 273.4h0M153.6 290.0h0M156.6 279.4h0M159.4 292.4h0M163.1 301.3h0M165.6 291.2h0M170.7 283.8h0M172.8 283.9h0M175.1 286.1h0M176.9 287.3h0M179.0 282.6h0M185.8 283.9h0M192.3 315.7h0M196.3 290.1h0M201.5 272.4h0M204.1 274.7h0M206.1 279.9h0M209.1 292.0h0M216.1 295.1h0M218.8 279.3h0M229.5 268.3h0M236.7 262.3h0M239.6 261.2h0M244.8 260.8h0M247.3 260.6h0M254.0 271.3h0M258.3 283.6h0M263.4 293.0h0M266.0 288.1h0M268.3 294.9h0M273.0 303.4h0M275.7 302.7h0M280.4 295.2h0M282.8 295.2h0M284.7 293.4h0M286.5 296.3h0M292.1 281.8h0M294.6 277.2h0M296.9 275.0h0M301.3 290.5h0M304.3 287.2h0M307.0 289.6h0M312.3 290.7h0M314.4 292.2h0M322.2 267.0h0M324.6 263.8h0M326.7 258.2h0M332.1 273.9h0M342.3 291.3h0M345.0 277.7h0M350.2 246.3h0M352.7 245.4h0M356.9 246.8h0M364.2 262.9h0M366.6 268.0h0M375.9 334.2h0M378.4 337.8h0M383.3 342.0h0M391.8 380.8h0M400.1 370.8h0M412.3 346.6h0M415.9 351.2h0M418.6 338.7h0M420.7 339.6h0M427.4 306.8h0M429.3 312.6h0M431.3 308.6h0M433.8 307.4h0M437.9 312.4h0M440.5 302.0h0M445.1 313.7h0M447.4 296.7h0M455.9 276.3h0M457.8 273.1h0M460.7 247.3h0M474.1 191.8h0M476.1 191.9h0M480.7 209.5h0M483.4 214.0h0M488.4 233.5h0M490.5 240.7h0M496.2 239.0h0M498.6 256.3h0M500.7 261.6h0M503.3 244.8h0M505.6 238.0h0M508.1 222.0h0M510.2 219.5h0M512.8 217.3h0M516.8 228.7h0M522.6 244.9h0M524.8 248.6h0M529.8 282.6h0M532.7 290.0h0M535.4 296.1h0M537.7 295.0h0M539.8 291.1h0M541.6 283.6h0M544.5 279.8h0M546.3 280.4h0M549.1 278.9h0M552.1 275.0h0M554.6 273.5h0M562.4 271.8h0M565.0 270.5h0M567.4 275.2h0M569.7 291.4h0M571.9 298.8h0M573.9 282.4h0M578.9 285.8h0M580.9 291.0h0M585.4 322.5h0M590.0 345.0h0M595.0 366.7h0M604.0 423.7h0M606.9 445.9h0M609.7 467.8h0M613.9 462.2h0M616.6 425.4h0M622.3 350.0h0M624.5 319.3h0M632.4 275.6h0M635.3 269.2h0M637.4 275.1h0M640.1 286.6h0M642.0 295.3h0M646.9 304.7h0M648.9 307.3h0M651.7 307.6h0M657.0 308.6h0M659.2 307.9h0M661.4 313.4h0M663.6 313.8h0M666.4 326.6h0M671.9 335.9h0M674.8 345.2h0M676.7 357.2h0M679.2 365.7h0M683.0 339.7h0M684.8 332.8h0M693.2 311.3h0M695.4 312.0h0M698.0 300.2h0M700.7 278.7h0M703.0 255.4h0M705.4 242.9h0M707.5 225.5h0M714.4 187.3h0M727.0 169.4h0M738.1 168.7h0M740.9 171.9h0M742.8 166.1h0M744.9 158.5h0M750.2 149.5h0M752.1 160.9h0M758.9 160.7h0M760.8 149.0h0M766.0 145.0h0M771.8 159.1h0M778.4 164.5h0M780.4 159.7h0M786.6 167.5h0M789.6 193.1h0M791.7 200.6h0M798.8 209.3h0M800.6 217.9h0M803.5 214.6h0M806.5 211.6h0M816.0 205.8h0M819.0 203.1h0M821.4 211.1h0M826.7 215.6h0M831.2 216.1h0M839.5 217.7h0M847.4 236.1h0M850.0 235.2h0M869.6 222.7h0M871.8 224.2h0M879.2 226.3h0M881.3 224.4h0M885.3 223.8h0M895.9 231.1h0M906.1 231.5h0M908.0 229.8h0M920.0 227.1h0M925.8 221.7h0M932.7 230.9h0M943.0 238.6h0M945.0 235.1h0M947.9 233.9h0M954.8 244.0h0M957.5 244.0h0M960.4 237.7h0M974.9 232.9h0M980.1 229.5h0M994.7 235.4h0M999.9 235.6h0M1002.2 236.1h0M1004.4 232.2h0M1006.5 232.1h0M1008.3 237.9h0M1015.7 234.4h0M1017.6 231.2h0M1021.8 233.6h0M1023.7 233.7h0M1025.8 239.0h0M1028.6 239.8h0M1030.9 236.8h0M1035.7 232.8h0M1044.4 234.6h0M1049.3 247.6h0M1052.0 247.3h0M1056.7 247.9h0M1059.1 247.5h0M1061.5 248.5h0M1071.2 246.5h0M1076.3 246.5h0M1082.6 246.4h0M1085.0 245.4h0M1089.8 242.3h0M1092.5 239.6h0M1095.4 242.0h0M1097.6 242.7h0M1103.0 249.5h0M1105.3 253.3h0M1110.6 243.8h0M1113.1 248.6h0M1115.9 246.2h0M1118.8 241.7h0M1126.3 227.9h0M1128.4 227.6h0M1130.4 234.3h0M1135.6 218.2h0M1137.5 225.8h0M1140.1 231.6h0M1142.8 235.0h0M1145.0 237.9h0M1147.4 240.1h0M1149.4 238.8h0M1152.1 235.0h0M1153.9 231.0h0M1159.7 236.2h0M1162.2 232.3h0M1164.3 228.9h0M1172.2 237.0h0M1174.9 238.9h0M1177.7 243.4h0M1180.3 247.0h0M1191.1 242.8h0M1193.4 238.1h0M1196.2 237.2h0M1200.5 232.4h0M1207.5 235.9h0M1217.2 257.1h0M1219.2 252.5h0M1221.3 245.9h0M1226.1 251.3h0M1227.9 253.9h0M1239.2 257.3h0M1242.0 254.8h0M1248.6 249.4h0M1253.2 251.5h0M1258.0 252.2h0M1266.5 249.2h0M1268.9 249.3h0M1271.3 252.7h0M1276.9 253.5h0M1279.3 249.7h0M1283.7 255.1h0M1285.7 255.4h0M1293.1 252.0h0M1295.5 257.3h0M1298.5 259.6h0M1311.0 252.7h0M1313.2 255.7h0M1315.6 253.0h0M1317.8 258.9h0M1320.3 256.7h0M1322.1 252.8h0M1324.4 250.4h0M1328.9 253.5h0M1333.9 254.6h0M1336.5 256.4h0M1343.8 253.5h0M1347.6 260.5h0M1349.7 260.0h0M1355.1 255.9h0M1360.3 254.1h0M1363.3 260.6h0M1368.5 260.0h0M1370.8 258.9h0M1373.4 259.8h0M1378.6 257.3h0M1380.6 248.1h0M1383.1 248.4h0M1385.6 252.5h0M1389.6 254.1h0M1391.9 255.3h0M1394.2 255.7h0M1396.5 256.9h0M1401.8 257.8h0M1407.4 253.9h0M1412.5 255.9h0M1415.2 253.7h0M1420.3 263.8h0M1430.3 267.8h0M1441.5 271.1h0M1444.2 266.0h0M1446.8 262.7h0M1449.0 258.6h0M1451.1 259.8h0M116.8 242.3h0M116.4 240.1h0M116.6 238.3h0M116.8 278.2h0M118.4 241.8h0M118.5 243.5h0M118.2 243.3h0M118.7 243.4h0M118.6 237.3h0M119.2 278.6h0M122.0 245.6h0M121.9 245.2h0M122.0 242.7h0M121.8 276.2h0M124.9 267.1h0M124.9 268.2h0M128.7 237.4h0M128.5 236.6h0M128.3 269.0h0M128.1 268.0h0M130.6 234.6h0M130.5 234.9h0M130.9 268.6h0M130.5 269.4h0M130.8 268.2h0M132.6 235.5h0M132.5 234.3h0M132.9 275.0h0M132.6 275.5h0M133.2 279.1h0M132.6 279.0h0M134.7 237.2h0M134.8 239.7h0M135.1 279.6h0M134.6 278.7h0M134.8 278.8h0M138.1 239.5h0M137.4 239.4h0M137.8 236.5h0M137.8 236.0h0M137.0 284.7h0M137.5 282.6h0M137.4 280.0h0M140.3 238.2h0M140.4 237.9h0M139.9 239.0h0M139.0 282.4h0M139.4 283.8h0M139.5 284.8h0M139.2 287.7h0M141.8 242.0h0M142.0 239.4h0M142.0 240.8h0M141.9 237.7h0M141.1 285.1h0M141.6 286.7h0M141.2 286.4h0M145.1 237.7h0M145.2 237.8h0M145.4 236.6h0M145.3 281.4h0M145.3 281.4h0M144.9 285.4h0M144.9 280.5h0M145.1 281.0h0M145.1 289.3h0M147.3 236.4h0M148.1 233.5h0M147.2 282.0h0M147.6 283.0h0M147.7 284.7h0M147.9 286.0h0M149.5 239.7h0M149.8 241.9h0M149.3 242.2h0M149.1 239.8h0M149.9 287.4h0M149.6 287.8h0M152.7 253.3h0M152.6 253.7h0M152.3 252.4h0M152.7 248.4h0M152.6 253.7h0M155.8 244.1h0M154.9 287.3h0M155.5 289.1h0M155.4 289.5h0M155.0 289.0h0M157.7 238.3h0M157.5 238.0h0M157.6 237.3h0M158.1 307.1h0M158.5 300.1h0M158.2 298.6h0M158.5 306.7h0M158.2 310.2h0M158.0 297.4h0M158.0 301.7h0M159.6 235.7h0M160.0 235.3h0M159.7 300.5h0M159.3 313.2h0M159.4 303.9h0M159.9 299.4h0M159.8 299.5h0M159.9 307.9h0M159.4 306.4h0M159.6 312.9h0M163.2 240.5h0M162.8 242.4h0M162.9 241.1h0M162.9 236.6h0M162.7 306.7h0M163.0 307.9h0M163.1 312.7h0M162.7 305.2h0M162.9 315.9h0M162.5 307.7h0M162.6 306.8h0M162.8 319.9h0M164.7 243.7h0M164.5 242.8h0M164.8 241.0h0M164.4 308.6h0M164.5 310.0h0M164.4 310.6h0M164.2 307.3h0M164.1 300.4h0M164.6 299.8h0M167.2 258.8h0M167.6 258.5h0M167.5 293.4h0M167.6 298.9h0M167.2 296.0h0M166.9 297.7h0M170.4 262.9h0M170.1 289.7h0M169.9 290.1h0M173.0 266.8h0M173.0 267.2h0M172.4 287.3h0M172.8 287.1h0M175.6 266.9h0M175.5 289.2h0M177.7 265.0h0M177.8 264.7h0M177.9 289.2h0M177.8 288.2h0M179.8 257.6h0M180.1 285.2h0M180.2 284.7h0M180.2 287.8h0M182.4 247.4h0M182.5 280.0h0M182.4 279.4h0M182.4 280.4h0M182.8 285.3h0M184.8 247.8h0M185.1 286.1h0M185.3 285.8h0M185.2 289.9h0M185.5 286.9h0M185.2 293.2h0M188.9 256.9h0M188.5 255.1h0M188.3 258.7h0M188.7 258.8h0M188.6 253.6h0M189.1 302.4h0M188.7 301.0h0M189.2 301.6h0M188.9 304.2h0M190.3 269.2h0M190.6 265.6h0M190.5 270.5h0M190.9 270.6h0M190.6 269.5h0M190.1 314.9h0M190.1 314.4h0M193.9 266.3h0M193.5 270.0h0M193.7 268.6h0M193.8 268.3h0M193.0 314.0h0M192.9 315.5h0M195.1 259.1h0M195.3 258.8h0M195.2 258.3h0M195.9 304.9h0M196.2 305.0h0M195.6 302.8h0M196.1 305.1h0M195.8 304.1h0M195.9 309.2h0M197.4 253.8h0M197.3 289.4h0M197.7 291.2h0M197.6 291.0h0M199.7 253.2h0M200.9 276.6h0M200.6 277.1h0M202.7 278.4h0M203.0 278.2h0M205.4 258.8h0M205.5 257.7h0M205.6 282.0h0M205.8 282.6h0M209.4 263.6h0M209.2 263.2h0M208.9 263.2h0M209.4 294.6h0M211.7 257.6h0M211.4 258.4h0M212.7 299.9h0M212.3 296.9h0M212.1 296.8h0M214.6 254.6h0M215.1 257.7h0M214.5 258.9h0M215.7 304.7h0M215.2 302.4h0M215.3 304.0h0M217.0 254.9h0M216.9 253.4h0M217.3 293.3h0M217.1 292.7h0M219.2 252.0h0M219.4 282.2h0M219.1 283.2h0M219.7 283.7h0M223.0 271.9h0M225.8 250.7h0M226.0 271.5h0M225.3 272.3h0M225.7 272.7h0M227.4 247.1h0M228.2 272.3h0M228.4 272.1h0M230.3 243.8h0M230.9 273.7h0M230.8 274.5h0M230.5 274.6h0M233.5 238.2h0M233.3 272.6h0M233.4 269.8h0M233.3 271.9h0M236.1 231.4h0M235.8 267.5h0M236.4 271.8h0M236.4 268.3h0M236.5 268.6h0M238.1 227.2h0M238.2 227.1h0M237.8 269.0h0M237.3 269.0h0M237.4 269.1h0M241.2 222.2h0M241.2 221.8h0M241.1 221.4h0M241.4 264.6h0M241.1 263.9h0M240.9 264.7h0M240.7 265.4h0M241.5 265.2h0M244.7 224.2h0M244.3 225.1h0M244.3 223.2h0M243.9 265.0h0M243.9 264.3h0M243.9 265.8h0M246.6 231.3h0M247.2 232.1h0M247.1 232.4h0M246.8 229.8h0M246.1 266.5h0M245.9 265.4h0M249.4 238.9h0M249.4 238.7h0M249.1 239.8h0M249.4 272.3h0M249.9 273.0h0M251.9 242.6h0M252.4 242.7h0M251.8 275.2h0M252.0 276.1h0M251.8 277.6h0M251.9 279.9h0M254.2 240.9h0M254.5 240.7h0M254.8 277.2h0M254.7 278.4h0M254.2 276.8h0M255.5 239.8h0M255.6 239.6h0M256.2 282.9h0M256.0 280.5h0M256.3 277.4h0M256.2 277.2h0M257.6 237.5h0M257.9 287.0h0M257.8 286.8h0M258.1 295.6h0M258.1 291.3h0M257.9 289.8h0M257.7 292.1h0M257.7 286.3h0M261.6 235.3h0M261.2 301.9h0M261.0 296.5h0M261.3 297.3h0M261.4 301.1h0M260.8 305.2h0M261.3 298.6h0M260.7 302.4h0M260.8 302.2h0M261.0 314.9h0M263.4 233.6h0M263.5 308.5h0M263.5 305.6h0M263.4 299.4h0M263.5 299.8h0M263.5 310.1h0M263.6 301.7h0M263.0 309.6h0M263.2 300.0h0M263.2 296.1h0M265.8 296.3h0M266.3 296.7h0M266.2 305.3h0M265.6 297.0h0M265.9 296.1h0M266.2 305.3h0M265.6 309.2h0M265.6 296.2h0M266.0 300.4h0M266.2 303.8h0M267.6 306.0h0M267.5 303.1h0M267.9 306.1h0M267.9 309.6h0M267.9 299.7h0M267.6 303.6h0M267.9 317.7h0M268.0 308.7h0M267.8 312.8h0M270.7 242.3h0M270.7 243.9h0M270.3 309.0h0M270.7 308.3h0M270.2 314.4h0M270.3 306.2h0M270.6 317.2h0M270.5 312.9h0M270.4 317.7h0M270.3 306.8h0M274.0 246.1h0M273.4 248.6h0M274.0 246.8h0M273.8 244.0h0M274.1 315.3h0M274.5 317.0h0M274.1 312.2h0M274.4 311.2h0M274.3 311.8h0M274.1 310.6h0M273.9 314.8h0M276.6 246.6h0M276.6 244.8h0M276.8 246.2h0M276.1 308.5h0M276.0 305.7h0M276.2 311.5h0M276.1 308.1h0M276.2 316.4h0M276.1 310.7h0M275.6 316.1h0M276.0 320.3h0M277.4 241.9h0M277.7 242.7h0M278.7 303.6h0M278.2 308.0h0M278.6 307.9h0M278.0 306.9h0M278.5 316.9h0M278.5 312.2h0M278.1 305.8h0M278.3 318.6h0M280.6 236.7h0M281.1 299.7h0M280.9 312.5h0M281.3 297.6h0M280.9 313.5h0M281.0 310.3h0M281.5 301.2h0M281.2 302.2h0M280.9 298.3h0M283.7 242.7h0M283.3 243.3h0M283.4 303.0h0M283.4 310.6h0M283.8 305.8h0M283.9 303.9h0M283.8 309.6h0M283.9 300.0h0M283.2 306.9h0M286.4 251.9h0M286.1 251.9h0M286.5 249.8h0M286.4 306.4h0M286.3 306.6h0M285.8 305.7h0M286.3 305.3h0M286.1 305.2h0M286.1 314.4h0M289.9 255.4h0M289.9 258.3h0M290.3 258.5h0M289.4 299.5h0M289.4 297.8h0M289.6 298.1h0M292.6 286.0h0M293.1 285.1h0M292.7 287.0h0M295.4 280.2h0M295.3 280.9h0M295.5 283.8h0M295.6 281.5h0M298.8 280.6h0M299.2 280.7h0M298.9 280.0h0M298.6 287.4h0M298.6 285.4h0M301.9 252.4h0M302.1 252.0h0M302.0 250.5h0M300.8 294.1h0M301.1 294.2h0M300.9 293.9h0M303.7 253.5h0M304.1 252.8h0M303.5 292.6h0M303.4 293.7h0M303.7 293.9h0M303.7 296.2h0M306.6 257.9h0M306.8 255.2h0M306.4 253.7h0M306.6 253.1h0M306.9 292.4h0M307.2 292.4h0M306.9 294.6h0M309.4 255.9h0M309.6 255.7h0M309.1 252.4h0M309.1 253.0h0M308.7 296.4h0M308.7 296.5h0M311.9 254.5h0M312.2 252.6h0M312.1 254.2h0M311.8 297.3h0M312.2 299.9h0M312.5 297.5h0M315.0 256.5h0M315.2 256.0h0M315.2 248.9h0M315.5 256.3h0M315.5 255.9h0M317.9 251.2h0M317.4 253.6h0M317.6 249.4h0M317.8 253.3h0M320.4 248.9h0M320.3 246.7h0M320.5 248.5h0M321.0 280.6h0M321.2 280.9h0M320.8 282.3h0M323.1 235.7h0M322.5 235.5h0M322.8 233.9h0M323.0 274.8h0M323.0 272.2h0M323.1 273.6h0M323.2 275.9h0M325.9 222.0h0M325.7 222.9h0M325.7 262.6h0M325.8 262.4h0M325.5 266.4h0M325.9 266.6h0M328.5 215.4h0M328.9 268.2h0M328.8 270.2h0M328.9 271.8h0M328.5 269.5h0M328.3 263.3h0M328.5 263.7h0M328.7 276.2h0M329.9 216.0h0M330.0 215.8h0M330.6 272.7h0M330.8 279.2h0M330.7 278.8h0M331.1 277.9h0M330.6 272.3h0M330.9 269.8h0M331.0 271.1h0M332.8 226.1h0M332.6 224.0h0M333.1 225.1h0M332.7 291.4h0M332.8 281.9h0M332.5 285.5h0M333.0 284.3h0M332.5 282.2h0M333.1 284.5h0M334.6 234.7h0M334.4 235.7h0M334.6 232.0h0M334.7 284.3h0M334.7 285.9h0M335.2 286.2h0M335.0 287.4h0M338.4 248.6h0M338.5 248.0h0M337.9 286.1h0M337.8 286.9h0M337.7 285.8h0M340.0 252.7h0M340.4 253.2h0M340.4 249.9h0M340.6 253.1h0M339.7 291.8h0M339.5 292.3h0M339.7 293.4h0M342.0 254.7h0M342.6 255.5h0M341.9 255.2h0M342.3 259.4h0M342.1 295.2h0M344.6 251.3h0M344.6 251.7h0M344.3 248.3h0M344.7 284.6h0M344.1 285.1h0M347.7 230.2h0M347.6 229.9h0M346.6 270.1h0M346.6 269.2h0M346.3 270.4h0M346.7 273.7h0M349.2 212.9h0M349.5 212.8h0M349.8 257.2h0M349.8 261.1h0M350.0 255.3h0M349.4 254.1h0M349.8 261.8h0M353.0 214.2h0M353.0 214.2h0M352.5 247.9h0M352.8 248.4h0M352.4 248.4h0M352.6 248.5h0M355.7 249.5h0M355.7 252.4h0M356.0 249.2h0M355.5 249.1h0M355.6 254.6h0M356.9 221.6h0M357.8 252.1h0M357.5 250.0h0M357.8 254.6h0M359.1 229.2h0M359.7 253.3h0M359.9 253.2h0M362.9 238.4h0M363.1 261.5h0M363.1 261.9h0M363.3 264.0h0M364.2 269.5h0M364.4 271.9h0M364.6 267.9h0M364.9 267.9h0M367.4 278.8h0M366.9 283.4h0M367.1 280.5h0M367.4 279.5h0M366.8 282.3h0M367.2 287.0h0M369.5 245.8h0M369.5 245.0h0M369.6 294.9h0M369.9 292.0h0M369.6 294.7h0M369.6 295.6h0M369.9 298.5h0M371.8 252.6h0M371.7 250.4h0M371.9 247.8h0M371.9 250.2h0M371.5 336.8h0M371.4 326.2h0M372.0 329.8h0M371.5 332.3h0M371.4 337.9h0M371.7 326.4h0M371.3 333.5h0M371.4 328.6h0M375.0 255.6h0M375.1 253.6h0M375.0 256.6h0M375.2 253.7h0M375.0 257.4h0M374.5 341.7h0M374.6 339.3h0M374.7 339.4h0M374.9 346.3h0M374.8 340.2h0M374.5 344.3h0M374.4 337.9h0M378.5 263.4h0M378.5 259.8h0M378.1 263.7h0M378.0 258.7h0M378.3 261.2h0M377.4 341.9h0M378.0 342.2h0M377.8 345.0h0M378.0 342.7h0M377.9 344.0h0M377.5 342.1h0M377.9 347.4h0M377.6 344.3h0M380.1 260.0h0M379.9 263.5h0M380.1 260.6h0M379.8 260.0h0M379.6 262.2h0M380.1 343.3h0M380.4 341.8h0M380.8 349.0h0M380.5 354.9h0M380.4 341.4h0M380.4 350.7h0M380.3 344.6h0M380.8 341.5h0M380.5 343.2h0M382.1 256.2h0M382.3 252.4h0M382.3 258.5h0M381.9 254.0h0M382.1 251.5h0M382.6 351.3h0M382.4 360.4h0M382.2 350.7h0M382.6 346.3h0M382.2 342.9h0M382.3 348.6h0M382.3 359.7h0M382.6 345.2h0M382.3 354.4h0M384.4 260.1h0M384.2 256.0h0M384.5 262.3h0M384.1 261.3h0M384.1 260.3h0M384.0 258.6h0M384.5 365.1h0M384.3 351.2h0M384.6 350.9h0M384.6 363.0h0M384.2 351.8h0M384.8 355.3h0M384.4 356.1h0M384.6 353.9h0M384.6 368.4h0M388.0 277.3h0M388.3 261.5h0M387.6 274.4h0M388.1 260.8h0M387.6 270.4h0M388.0 274.5h0M388.0 276.3h0M387.8 271.5h0M388.3 278.1h0M387.9 257.8h0M388.3 371.8h0M388.2 367.9h0M387.9 366.3h0M388.1 366.7h0M388.4 370.4h0M388.1 374.8h0M389.7 287.8h0M389.6 290.3h0M389.7 286.9h0M389.6 287.7h0M389.5 287.7h0M389.9 288.7h0M389.7 280.9h0M390.1 286.3h0M389.9 379.3h0M390.0 375.2h0M389.2 377.3h0M389.4 381.0h0M389.5 377.4h0M392.2 314.5h0M392.4 314.6h0M392.1 317.6h0M391.7 317.4h0M392.2 318.5h0M392.0 319.1h0M392.5 395.5h0M392.2 386.5h0M392.0 395.4h0M392.7 390.0h0M392.4 395.9h0M395.7 336.8h0M395.6 329.5h0M395.9 323.9h0M395.4 335.8h0M395.4 319.6h0M395.5 329.1h0M395.9 337.3h0M396.0 323.8h0M396.1 399.4h0M396.2 401.8h0M395.7 401.1h0M395.8 404.5h0M398.9 325.6h0M398.3 332.1h0M398.7 332.1h0M398.8 328.4h0M398.3 331.5h0M398.1 389.7h0M398.1 392.4h0M398.0 389.4h0M398.2 392.0h0M398.2 390.2h0M401.3 315.9h0M401.6 318.8h0M401.6 317.3h0M402.0 373.8h0M401.4 373.5h0M401.9 373.6h0M402.0 376.5h0M402.0 375.8h0M404.6 315.9h0M404.5 313.6h0M404.3 322.7h0M403.9 317.0h0M404.2 319.0h0M404.1 319.9h0M404.3 308.9h0M404.0 376.7h0M403.8 373.9h0M403.8 374.8h0M403.7 375.3h0M406.4 317.0h0M406.5 307.4h0M406.4 322.9h0M405.9 321.1h0M405.9 316.2h0M406.2 318.8h0M406.6 317.1h0M406.7 376.7h0M406.8 375.8h0M406.9 377.4h0M408.9 305.3h0M408.9 318.6h0M409.0 316.8h0M408.7 317.0h0M408.4 312.7h0M409.1 316.3h0M409.1 318.5h0M408.4 368.3h0M408.4 372.2h0M408.4 370.6h0M411.0 292.3h0M411.6 295.0h0M411.0 292.9h0M411.7 294.8h0M411.2 294.7h0M411.4 285.6h0M411.7 358.5h0M411.2 360.0h0M411.0 362.3h0M411.3 358.9h0M411.3 360.7h0M411.4 366.9h0M413.2 284.4h0M413.5 282.8h0M413.9 279.3h0M413.8 281.1h0M413.5 277.6h0M413.5 271.0h0M414.5 359.0h0M414.1 354.9h0M414.5 357.5h0M414.1 350.6h0M413.8 355.5h0M413.9 356.3h0M414.0 354.6h0M414.3 351.5h0M416.4 272.2h0M416.8 264.8h0M416.8 282.1h0M416.1 267.7h0M416.8 274.8h0M416.6 277.1h0M416.1 263.0h0M416.5 281.7h0M416.4 358.4h0M416.5 359.9h0M416.6 362.8h0M417.0 355.9h0M416.9 355.1h0M416.8 359.6h0M416.7 367.4h0M418.5 275.5h0M418.8 260.2h0M419.1 271.6h0M418.5 261.0h0M418.5 274.8h0M418.7 266.0h0M419.0 258.3h0M418.8 267.6h0M419.2 264.2h0M418.4 353.0h0M418.7 349.4h0M418.3 348.8h0M418.8 345.6h0M419.0 348.2h0M421.3 259.1h0M421.7 258.4h0M421.4 256.5h0M421.8 239.2h0M422.0 249.5h0M421.8 262.9h0M421.5 262.2h0M421.6 250.8h0M421.3 251.2h0M421.6 340.4h0M422.0 335.9h0M421.6 344.6h0M422.0 341.2h0M422.1 341.2h0M425.6 247.7h0M425.4 243.4h0M425.1 247.6h0M425.1 247.9h0M425.0 248.9h0M425.3 309.6h0M425.3 309.8h0M425.5 309.3h0M425.3 307.7h0M424.8 316.7h0M427.8 244.1h0M428.2 252.2h0M427.8 249.1h0M428.0 260.2h0M427.9 260.3h0M427.7 248.6h0M428.1 314.0h0M428.1 313.8h0M428.0 315.2h0M431.3 253.4h0M431.5 260.6h0M431.1 252.0h0M431.2 260.5h0M431.7 258.8h0M431.3 252.8h0M431.6 245.4h0M431.4 239.0h0M431.8 320.6h0M431.3 319.6h0M431.4 320.8h0M431.4 316.0h0M431.6 323.5h0M433.5 252.2h0M433.7 251.9h0M433.1 252.6h0M433.6 244.1h0M433.3 251.1h0M433.6 255.8h0M433.5 251.2h0M433.9 314.5h0M433.9 315.9h0M433.9 313.4h0M433.7 319.3h0M435.7 251.0h0M435.6 252.6h0M435.3 251.9h0M435.5 249.7h0M435.9 250.3h0M435.9 241.2h0M435.2 249.5h0M436.1 312.3h0M435.8 312.5h0M435.7 311.8h0M435.6 313.5h0M437.9 249.9h0M438.1 252.8h0M438.0 252.2h0M438.1 240.2h0M437.8 253.3h0M438.2 254.5h0M437.8 229.9h0M438.4 250.3h0M438.4 235.5h0M438.2 316.1h0M437.7 319.6h0M437.5 318.8h0M437.8 320.4h0M440.9 240.8h0M440.4 238.3h0M440.9 243.1h0M440.3 238.4h0M440.6 243.2h0M440.9 232.5h0M440.4 230.2h0M440.7 315.5h0M440.6 315.1h0M440.6 313.4h0M440.6 313.2h0M440.5 315.0h0M440.9 318.7h0M441.0 312.8h0M440.6 326.5h0M444.1 250.5h0M444.1 245.8h0M444.2 244.2h0M443.8 241.9h0M443.9 231.1h0M444.0 221.9h0M444.0 231.5h0M443.8 246.6h0M443.8 250.0h0M444.3 225.7h0M443.8 234.1h0M443.9 222.6h0M443.8 331.6h0M443.8 331.3h0M443.9 335.0h0M443.2 329.4h0M445.4 241.5h0M445.7 241.3h0M445.7 243.5h0M445.3 238.5h0M445.4 229.6h0M445.7 240.9h0M445.2 231.7h0M445.7 239.3h0M445.2 317.6h0M445.1 321.1h0M445.2 318.7h0M445.5 323.3h0M445.3 320.1h0M444.9 319.5h0M445.1 327.9h0M447.5 236.3h0M447.5 231.7h0M447.8 222.3h0M447.6 233.5h0M447.7 230.7h0M448.3 300.6h0M447.7 302.1h0M448.0 308.1h0M447.9 308.1h0M447.7 299.7h0M448.0 304.6h0M448.4 301.2h0M451.2 217.2h0M450.7 218.3h0M451.1 220.6h0M451.0 214.5h0M451.3 215.1h0M451.3 293.1h0M451.2 299.1h0M451.4 290.0h0M451.6 293.0h0M451.1 295.9h0M451.2 293.4h0M454.7 212.2h0M454.4 214.4h0M453.9 217.4h0M454.1 216.8h0M454.6 216.5h0M454.5 218.7h0M454.4 286.1h0M454.0 284.6h0M454.4 287.3h0M454.0 287.0h0M454.1 291.6h0M457.7 207.5h0M458.3 212.2h0M457.8 211.2h0M457.6 211.8h0M457.9 211.7h0M457.8 214.6h0M458.0 277.9h0M457.8 279.7h0M458.3 278.2h0M458.1 277.8h0M457.9 282.5h0M458.0 287.3h0M460.4 197.0h0M460.5 196.2h0M460.7 196.9h0M460.2 195.4h0M460.7 189.6h0M460.6 268.0h0M460.6 268.9h0M460.3 271.2h0M460.5 261.5h0M460.0 266.8h0M460.8 265.1h0M462.4 181.9h0M462.2 182.1h0M462.5 177.9h0M462.6 181.0h0M463.0 251.0h0M462.9 249.7h0M462.7 249.8h0M462.7 249.7h0M462.7 247.4h0M462.6 256.5h0M465.1 161.9h0M465.0 157.0h0M465.1 160.2h0M465.5 161.8h0M464.8 227.0h0M464.7 227.2h0M465.4 226.0h0M464.6 226.0h0M464.7 224.3h0M465.0 234.6h0M467.7 140.9h0M467.8 139.9h0M468.0 140.1h0M466.9 212.7h0M466.7 207.4h0M467.1 205.9h0M466.9 210.1h0M466.7 206.5h0M467.0 208.4h0M468.8 122.0h0M469.2 122.8h0M469.0 123.5h0M468.7 124.6h0M469.0 119.3h0M469.1 199.3h0M468.6 203.3h0M468.6 212.0h0M469.0 200.0h0M468.9 204.3h0M469.0 206.8h0M469.1 198.9h0M468.7 202.9h0M468.8 216.4h0M471.7 121.7h0M471.8 121.0h0M472.0 122.2h0M471.1 205.5h0M471.5 201.3h0M471.4 195.4h0M471.6 199.7h0M471.6 201.2h0M471.6 205.7h0M471.5 198.5h0M471.7 199.1h0M471.4 214.4h0M475.2 125.5h0M475.2 123.3h0M475.2 125.4h0M474.5 207.9h0M475.1 201.5h0M474.9 200.0h0M475.3 208.6h0M474.7 204.3h0M474.7 195.1h0M475.1 194.9h0M475.0 203.2h0M474.9 212.1h0M478.2 141.4h0M478.4 138.3h0M478.2 140.0h0M478.0 206.8h0M477.6 208.2h0M478.2 208.9h0M477.7 205.3h0M478.0 206.0h0M477.8 203.8h0M478.0 206.8h0M480.5 159.6h0M481.1 158.1h0M480.5 160.1h0M480.3 218.6h0M480.7 214.1h0M480.5 223.7h0M480.7 220.5h0M480.7 215.7h0M480.6 225.2h0M483.7 178.4h0M483.2 177.9h0M483.2 178.1h0M484.5 225.7h0M483.8 227.6h0M484.4 225.4h0M484.0 224.3h0M486.1 186.6h0M486.0 184.6h0M485.7 185.4h0M486.2 230.9h0M486.1 231.5h0M485.7 234.4h0M486.0 232.0h0M489.2 196.3h0M489.3 193.9h0M489.4 196.6h0M489.3 190.8h0M489.6 242.3h0M489.6 246.0h0M489.7 241.3h0M490.9 190.6h0M491.6 186.4h0M491.1 184.5h0M491.6 184.7h0M490.9 188.6h0M491.4 250.3h0M491.4 252.4h0M491.1 252.1h0M491.1 249.9h0M491.3 258.7h0M493.1 168.8h0M493.5 166.8h0M493.1 166.7h0M493.3 168.3h0M492.8 163.8h0M493.0 170.7h0M492.8 169.4h0M493.2 157.4h0M493.1 256.6h0M492.8 260.7h0M492.9 256.5h0M493.2 258.0h0M492.8 254.3h0M493.3 264.2h0M493.2 267.1h0M496.4 163.8h0M496.2 164.0h0M496.2 157.2h0M496.4 160.0h0M496.7 158.7h0M496.4 252.5h0M496.6 256.9h0M496.3 259.7h0M496.6 248.9h0M496.7 251.7h0M496.5 252.8h0M497.0 250.1h0M496.5 261.5h0M499.2 181.9h0M498.7 180.7h0M499.1 185.5h0M498.8 184.2h0M498.7 185.1h0M498.6 172.3h0M498.9 180.5h0M498.7 184.5h0M498.8 270.2h0M498.3 270.1h0M498.3 269.6h0M498.9 269.2h0M498.5 273.8h0M500.9 195.1h0M500.9 199.0h0M500.8 201.7h0M501.2 201.2h0M500.8 201.1h0M500.8 189.8h0M501.1 273.6h0M501.2 274.7h0M501.4 269.9h0M501.6 271.8h0M500.9 270.9h0M503.6 204.2h0M503.6 205.3h0M503.5 206.3h0M504.4 251.3h0M504.3 251.2h0M504.2 254.2h0M503.8 256.0h0M505.7 202.3h0M505.6 202.5h0M506.0 202.4h0M505.6 199.3h0M506.0 238.7h0M506.4 238.5h0M508.4 197.7h0M508.0 197.1h0M508.1 228.4h0M508.4 229.1h0M511.2 195.0h0M511.0 194.5h0M510.6 222.1h0M510.6 222.8h0M512.8 193.2h0M512.7 192.9h0M512.6 222.2h0M512.6 221.0h0M514.6 197.2h0M514.9 196.9h0M515.0 195.9h0M514.7 229.0h0M514.4 228.2h0M518.4 203.9h0M518.1 204.6h0M518.1 236.6h0M517.4 236.7h0M520.3 212.3h0M520.4 213.2h0M520.7 242.5h0M520.6 243.4h0M521.7 223.9h0M521.6 224.1h0M521.9 223.1h0M522.1 246.4h0M524.6 231.5h0M524.8 231.3h0M526.6 234.6h0M526.9 234.8h0M526.5 263.0h0M526.9 263.5h0M526.7 264.2h0M528.7 237.2h0M529.0 236.5h0M529.0 237.1h0M528.7 285.0h0M528.9 283.2h0M529.2 285.3h0M529.0 288.3h0M532.3 228.1h0M532.1 229.0h0M532.1 229.9h0M531.7 225.7h0M532.1 223.0h0M531.7 293.6h0M532.1 300.1h0M532.1 292.5h0M531.8 292.5h0M532.1 293.7h0M535.6 235.5h0M535.0 229.4h0M535.5 236.9h0M535.0 233.9h0M535.6 235.7h0M535.3 307.0h0M535.4 304.6h0M535.0 303.6h0M535.1 301.4h0M538.0 235.8h0M538.1 235.5h0M537.8 230.0h0M537.9 232.2h0M538.2 232.3h0M537.3 299.8h0M536.8 299.1h0M537.4 301.0h0M537.1 298.8h0M537.3 298.5h0M541.1 230.6h0M540.8 231.5h0M540.8 230.6h0M540.7 229.8h0M539.8 295.6h0M540.1 296.4h0M539.7 297.4h0M539.8 294.2h0M540.4 295.1h0M539.9 295.7h0M540.0 307.7h0M542.8 229.0h0M542.9 227.4h0M542.4 289.6h0M542.7 293.3h0M542.7 293.9h0M542.9 289.2h0M542.7 301.4h0M542.8 288.5h0M542.2 291.2h0M542.5 304.0h0M545.1 226.1h0M545.0 229.9h0M545.1 228.4h0M545.1 289.4h0M545.1 292.0h0M545.7 289.7h0M545.2 289.5h0M545.2 292.3h0M547.9 232.1h0M547.7 226.1h0M547.5 230.9h0M547.8 234.5h0M547.8 287.8h0M547.3 286.6h0M547.8 286.7h0M549.7 232.4h0M549.1 227.8h0M549.8 230.3h0M549.3 232.9h0M549.4 226.0h0M549.5 285.8h0M549.2 283.7h0M549.3 282.1h0M552.1 232.9h0M552.1 232.5h0M552.1 230.9h0M552.2 281.0h0M551.9 282.1h0M551.9 280.7h0M554.4 236.2h0M554.8 231.5h0M554.5 236.3h0M554.7 230.4h0M554.8 228.3h0M554.8 277.7h0M555.4 278.0h0M555.1 279.4h0M558.3 230.1h0M557.8 235.6h0M557.8 235.9h0M557.8 236.5h0M557.8 280.5h0M557.8 280.9h0M560.8 236.1h0M561.2 231.9h0M560.5 237.2h0M561.0 235.3h0M560.8 230.3h0M560.5 281.0h0M561.2 279.8h0M560.7 280.3h0M562.5 234.9h0M562.9 234.3h0M562.9 233.0h0M562.5 277.1h0M562.7 277.8h0M562.5 277.1h0M565.1 231.0h0M564.9 231.8h0M565.2 230.1h0M564.4 275.3h0M564.2 275.5h0M564.2 277.1h0M567.7 215.2h0M568.0 221.5h0M567.5 219.2h0M568.2 219.7h0M567.9 213.8h0M567.8 282.9h0M568.1 281.7h0M567.9 282.5h0M567.6 284.1h0M567.5 282.4h0M567.8 291.8h0M570.6 226.1h0M571.3 224.5h0M571.2 221.3h0M570.8 231.9h0M570.7 227.0h0M570.8 229.9h0M571.0 221.3h0M570.6 223.8h0M570.2 303.3h0M570.0 303.6h0M569.8 303.1h0M573.9 219.6h0M573.9 215.4h0M574.0 215.7h0M573.7 215.8h0M573.8 217.8h0M573.7 209.5h0M573.7 294.7h0M573.2 291.7h0M573.5 292.2h0M573.6 289.2h0M573.7 289.9h0M576.0 207.1h0M575.8 211.0h0M576.2 205.0h0M576.2 209.1h0M576.4 211.8h0M575.7 286.3h0M575.9 287.9h0M576.2 287.4h0M576.0 289.9h0M575.6 291.7h0M575.7 294.9h0M576.0 299.0h0M579.6 212.4h0M579.0 222.3h0M579.4 221.7h0M578.9 223.8h0M579.4 224.6h0M578.8 224.6h0M579.4 224.7h0M579.2 208.1h0M580.0 296.5h0M579.6 297.5h0M580.2 296.7h0M579.9 301.0h0M581.9 241.8h0M581.7 235.1h0M582.1 239.6h0M581.9 241.8h0M582.1 235.1h0M582.1 233.7h0M581.5 235.1h0M581.8 226.8h0M582.1 305.9h0M582.1 307.0h0M581.7 305.1h0M581.8 310.8h0M583.4 251.1h0M583.9 241.6h0M583.6 247.6h0M583.5 249.6h0M583.6 249.3h0M583.1 240.1h0M583.1 249.3h0M583.3 323.2h0M583.4 317.7h0M583.4 318.2h0M586.2 251.5h0M586.0 248.3h0M586.3 252.1h0M585.5 252.4h0M585.5 250.4h0M586.2 248.4h0M585.8 248.9h0M586.2 330.2h0M586.4 330.8h0M585.8 330.2h0M585.7 337.9h0M585.7 333.2h0M587.9 255.2h0M587.8 249.6h0M587.8 256.7h0M588.1 248.8h0M588.2 260.6h0M588.1 256.6h0M587.8 244.0h0M588.6 255.9h0M587.5 338.9h0M587.6 339.2h0M587.7 340.2h0M587.4 346.5h0M587.8 339.7h0M591.5 265.6h0M591.3 261.2h0M591.4 262.6h0M591.6 249.6h0M591.9 250.1h0M591.8 265.9h0M591.5 253.0h0M591.9 257.7h0M591.4 263.4h0M590.7 368.0h0M590.5 359.1h0M591.1 363.2h0M591.2 366.1h0M591.1 364.1h0M590.8 362.4h0M593.5 262.4h0M593.6 263.5h0M593.7 261.3h0M593.7 252.5h0M593.4 263.9h0M594.2 255.0h0M593.4 260.7h0M594.0 265.5h0M593.4 263.5h0M593.4 268.9h0M593.8 371.7h0M593.5 370.0h0M594.2 369.9h0M593.8 372.9h0M593.7 372.8h0M593.9 370.8h0M596.0 298.8h0M596.1 302.4h0M596.2 300.7h0M596.4 300.6h0M596.4 292.1h0M596.3 299.8h0M595.9 302.4h0M596.6 389.4h0M596.1 386.2h0M596.4 388.8h0M596.4 388.3h0M596.0 384.0h0M596.0 389.4h0M596.4 392.3h0M599.9 310.3h0M599.8 310.3h0M599.3 308.8h0M599.4 308.9h0M599.7 307.0h0M599.4 302.5h0M599.9 311.6h0M599.3 311.1h0M600.2 414.9h0M600.1 412.3h0M599.8 412.0h0M599.6 412.5h0M600.0 415.9h0M599.7 417.3h0M599.9 415.1h0M600.1 416.1h0M602.6 317.1h0M602.7 316.6h0M602.0 310.6h0M602.5 309.1h0M602.0 307.3h0M602.4 318.6h0M602.3 306.0h0M601.8 428.6h0M601.9 425.2h0M601.7 428.1h0M601.9 420.2h0M602.0 429.6h0M602.0 434.4h0M601.4 421.8h0M601.3 420.9h0M601.3 421.3h0M604.8 332.6h0M604.2 334.2h0M604.0 338.7h0M604.7 335.9h0M604.3 336.4h0M604.5 434.9h0M604.6 437.3h0M604.4 446.7h0M604.0 441.9h0M604.1 430.1h0M604.7 431.0h0M604.5 431.9h0M604.5 428.2h0M604.2 428.5h0M607.1 345.9h0M607.4 353.2h0M607.1 353.5h0M607.1 348.7h0M607.0 353.7h0M607.2 352.2h0M607.2 344.6h0M607.0 347.6h0M606.9 449.0h0M607.3 450.2h0M607.0 456.4h0M607.2 451.9h0M607.0 451.9h0M606.7 451.8h0M606.7 454.5h0M607.4 449.3h0M607.0 467.1h0M608.9 385.1h0M608.7 381.9h0M608.7 376.6h0M608.4 389.1h0M608.2 387.1h0M608.5 390.6h0M609.0 387.3h0M608.3 377.9h0M609.4 473.7h0M609.6 471.5h0M609.1 474.5h0M609.7 472.7h0M609.6 468.3h0M609.3 475.1h0M609.6 472.2h0M610.1 381.9h0M610.2 390.1h0M610.3 393.0h0M610.4 393.0h0M610.7 384.8h0M610.5 396.0h0M610.2 391.7h0M610.2 396.6h0M610.6 377.3h0M610.5 394.6h0M610.4 374.6h0M610.3 489.4h0M610.0 486.1h0M610.7 486.1h0M610.8 484.8h0M610.2 485.1h0M610.4 493.3h0M614.0 370.7h0M613.3 382.5h0M614.0 375.5h0M613.7 377.9h0M613.4 371.0h0M613.9 377.8h0M613.4 379.5h0M613.3 377.0h0M613.9 469.5h0M614.1 469.8h0M614.3 469.0h0M614.1 466.9h0M614.1 470.0h0M614.2 477.2h0M616.2 346.2h0M616.1 348.5h0M616.6 350.7h0M616.4 349.2h0M616.3 346.9h0M616.2 353.7h0M616.4 351.3h0M616.3 341.9h0M616.2 340.0h0M615.2 439.4h0M615.4 440.8h0M615.8 442.4h0M615.6 439.7h0M615.8 437.4h0M618.1 322.6h0M618.2 317.0h0M618.8 314.5h0M618.5 317.1h0M618.2 324.2h0M618.5 323.8h0M618.2 327.2h0M618.2 415.8h0M618.2 408.6h0M617.7 406.5h0M617.9 410.1h0M618.3 403.7h0M618.1 407.0h0M621.4 280.5h0M622.0 269.1h0M621.7 272.4h0M621.4 280.7h0M621.6 275.4h0M622.0 276.6h0M621.5 279.9h0M621.7 265.5h0M621.9 374.0h0M621.9 367.0h0M621.6 372.1h0M621.7 376.1h0M621.8 373.2h0M621.7 370.2h0M622.2 369.0h0M624.1 253.4h0M624.0 251.8h0M624.0 250.3h0M624.0 252.8h0M623.9 258.6h0M623.8 253.1h0M623.6 253.0h0M623.9 244.2h0M623.4 342.5h0M623.7 340.2h0M623.4 343.4h0M623.6 341.8h0M623.6 342.4h0M623.1 345.2h0M626.2 239.1h0M626.8 236.0h0M626.4 239.5h0M626.4 240.6h0M626.1 237.0h0M626.5 229.2h0M625.7 309.8h0M626.4 310.4h0M626.2 314.9h0M625.9 311.1h0M625.7 310.0h0M626.2 310.5h0M628.7 229.4h0M628.1 232.7h0M628.5 229.2h0M628.5 227.7h0M628.5 223.8h0M628.2 296.7h0M628.4 299.1h0M628.6 294.5h0M628.3 300.4h0M628.7 296.6h0M630.5 220.6h0M630.8 225.4h0M630.5 221.3h0M630.9 220.4h0M630.7 217.3h0M631.0 289.5h0M631.1 291.9h0M631.4 282.7h0M631.2 290.5h0M631.1 289.2h0M633.4 213.1h0M632.9 215.6h0M633.0 215.1h0M633.1 213.6h0M633.2 215.5h0M632.7 278.2h0M632.4 278.5h0M632.9 283.4h0M632.7 278.5h0M636.1 215.9h0M636.0 211.4h0M636.1 214.5h0M635.5 212.3h0M636.0 214.6h0M635.2 283.9h0M635.6 286.1h0M635.4 284.6h0M635.6 279.1h0M637.2 224.3h0M637.6 228.8h0M637.0 226.0h0M637.2 224.8h0M637.8 288.1h0M637.7 286.3h0M637.5 285.5h0M637.6 286.5h0M637.7 285.7h0M637.4 293.8h0M640.4 235.4h0M640.7 233.7h0M640.2 237.9h0M640.6 231.5h0M640.5 293.4h0M640.4 294.3h0M640.3 292.8h0M640.4 297.5h0M642.9 241.9h0M643.7 242.4h0M643.6 238.1h0M643.1 244.6h0M643.2 307.0h0M643.8 306.6h0M643.9 303.4h0M643.8 302.6h0M643.7 304.9h0M643.5 311.0h0M645.1 247.9h0M645.7 247.6h0M645.2 245.0h0M644.9 246.3h0M645.4 305.4h0M645.0 309.2h0M645.2 304.9h0M645.2 306.6h0M645.7 310.4h0M648.0 245.7h0M648.3 248.9h0M648.1 246.9h0M648.5 248.8h0M648.3 243.1h0M647.6 311.7h0M647.8 313.5h0M648.0 309.7h0M647.7 315.3h0M648.0 314.2h0M651.2 252.8h0M651.3 252.0h0M650.9 250.6h0M650.5 254.1h0M650.5 311.9h0M650.8 312.1h0M650.8 312.2h0M650.5 315.6h0M651.0 317.8h0M650.8 322.7h0M652.9 253.5h0M652.9 254.9h0M652.6 310.4h0M652.2 316.5h0M652.7 311.4h0M652.8 319.6h0M652.3 317.2h0M652.7 311.7h0M656.3 253.0h0M655.8 253.2h0M656.0 254.5h0M656.6 314.4h0M656.7 311.6h0M656.1 321.6h0M656.0 316.1h0M656.1 310.5h0M656.1 314.3h0M656.6 321.6h0M658.4 253.3h0M658.2 255.0h0M658.7 254.8h0M658.1 314.2h0M658.2 317.4h0M658.3 313.0h0M657.9 313.8h0M658.4 319.7h0M658.6 324.1h0M661.5 256.5h0M662.0 253.8h0M661.9 255.7h0M661.8 327.7h0M661.5 317.9h0M661.6 318.8h0M661.5 326.4h0M661.4 325.2h0M661.8 321.3h0M661.6 332.2h0M664.8 261.8h0M664.0 261.9h0M664.0 261.4h0M664.5 328.4h0M664.4 328.4h0M664.3 327.6h0M664.2 325.9h0M664.7 333.7h0M664.2 325.6h0M664.0 326.6h0M666.4 264.1h0M666.3 260.4h0M666.4 265.5h0M666.5 265.5h0M667.4 333.6h0M667.3 333.8h0M667.0 335.9h0M667.4 333.7h0M667.3 332.0h0M667.2 332.8h0M667.1 341.3h0M669.4 267.9h0M669.3 268.3h0M669.6 268.7h0M668.9 269.9h0M669.2 266.5h0M668.9 336.3h0M669.0 343.5h0M668.5 338.5h0M668.6 335.0h0M669.2 333.8h0M668.9 336.5h0M671.7 277.5h0M671.0 279.0h0M671.2 278.6h0M671.7 278.8h0M671.3 272.5h0M671.3 343.1h0M671.0 343.2h0M671.2 346.3h0M671.1 345.8h0M670.7 350.2h0M671.0 345.1h0M671.0 350.8h0M673.6 283.3h0M673.9 285.4h0M673.4 286.5h0M673.6 286.1h0M674.5 351.2h0M674.0 353.7h0M674.5 352.1h0M674.1 351.0h0M674.7 352.0h0M674.7 355.1h0M674.3 364.3h0M677.2 299.1h0M677.1 298.0h0M677.5 299.6h0M677.6 299.0h0M677.5 290.2h0M677.4 377.7h0M677.9 374.0h0M677.5 375.0h0M677.7 368.3h0M677.7 372.0h0M677.2 373.3h0M677.6 379.9h0M679.4 274.6h0M679.8 282.8h0M679.7 278.7h0M679.6 282.6h0M679.5 284.6h0M679.5 283.9h0M679.9 371.6h0M679.6 374.5h0M679.7 376.5h0M679.6 376.5h0M680.3 370.6h0M680.1 378.9h0M680.2 377.9h0M680.0 386.3h0M683.0 274.7h0M683.3 274.1h0M683.0 275.5h0M683.0 272.4h0M683.0 274.3h0M683.1 267.7h0M683.4 353.4h0M683.2 350.2h0M683.1 350.0h0M683.7 351.1h0M683.6 346.7h0M683.4 352.5h0M683.4 350.2h0M686.6 267.0h0M686.1 267.6h0M686.7 333.0h0M687.1 338.1h0M686.9 332.0h0M686.5 332.5h0M686.8 341.9h0M686.7 337.8h0M687.0 335.5h0M688.2 265.0h0M688.2 263.5h0M688.1 262.6h0M688.4 336.5h0M688.3 325.1h0M688.8 329.6h0M688.6 328.6h0M688.4 328.0h0M688.6 328.0h0M688.1 327.2h0M690.8 259.7h0M691.1 259.1h0M691.2 329.0h0M691.4 319.9h0M691.3 325.2h0M691.1 326.0h0M690.8 325.3h0M691.0 322.5h0M690.9 334.6h0M690.8 320.9h0M692.7 256.9h0M693.3 322.7h0M693.1 332.9h0M693.1 327.8h0M693.7 325.1h0M693.3 318.5h0M693.5 328.6h0M693.2 325.8h0M693.2 327.0h0M695.4 256.3h0M695.5 257.4h0M695.8 255.7h0M695.7 320.2h0M695.4 324.1h0M695.5 319.3h0M695.8 320.0h0M695.4 317.7h0M695.9 316.9h0M695.4 316.6h0M698.1 245.9h0M698.3 243.4h0M697.9 244.3h0M698.2 244.8h0M697.9 313.1h0M697.9 308.8h0M698.2 311.7h0M697.9 310.6h0M697.9 314.9h0M697.9 313.7h0M698.2 321.0h0M700.1 228.5h0M700.6 231.0h0M699.9 230.8h0M700.2 227.1h0M700.2 223.7h0M700.1 298.0h0M699.9 306.4h0M700.0 292.9h0M699.8 302.8h0M699.9 311.6h0M699.9 302.3h0M699.7 303.0h0M699.4 301.7h0M699.5 294.6h0M703.5 192.9h0M703.1 197.4h0M703.3 193.8h0M703.6 193.8h0M703.4 279.7h0M702.9 266.8h0M703.3 262.3h0M703.4 272.3h0M703.7 264.8h0M703.2 257.3h0M703.7 274.2h0M703.1 265.4h0M705.8 192.0h0M706.0 184.4h0M705.7 187.4h0M705.8 182.1h0M706.0 183.7h0M704.9 262.9h0M705.2 250.1h0M705.2 247.8h0M704.8 252.8h0M704.6 260.2h0M704.8 250.4h0M704.6 254.1h0M708.0 171.8h0M707.6 173.9h0M708.3 176.7h0M707.7 174.4h0M708.0 167.7h0M708.2 232.9h0M708.1 228.7h0M708.3 232.7h0M708.3 228.4h0M708.2 226.4h0M707.9 240.7h0M708.0 245.3h0M709.8 171.5h0M710.4 172.7h0M710.2 175.3h0M709.8 177.5h0M709.8 216.8h0M709.9 215.5h0M709.7 220.4h0M709.9 219.9h0M710.1 224.9h0M712.8 164.1h0M712.2 169.4h0M712.8 168.5h0M712.0 208.9h0M712.4 211.8h0M712.1 207.6h0M715.7 149.3h0M715.9 150.2h0M715.5 147.6h0M715.5 191.4h0M715.8 189.8h0M715.1 189.6h0M715.8 191.0h0M715.4 189.0h0M715.4 202.7h0M719.1 133.5h0M718.5 134.4h0M719.2 134.5h0M718.8 130.7h0M717.5 181.8h0M717.5 188.9h0M718.2 182.2h0M717.5 191.9h0M717.5 188.2h0M717.9 194.7h0M721.3 128.5h0M721.6 131.8h0M721.4 131.5h0M720.2 178.0h0M720.8 174.3h0M720.8 177.7h0M720.3 178.3h0M720.3 181.5h0M723.6 130.4h0M723.6 123.0h0M723.4 127.2h0M722.9 130.7h0M722.6 181.7h0M722.8 186.8h0M722.8 191.0h0M722.7 182.5h0M723.3 180.7h0M722.8 187.7h0M725.2 125.4h0M725.0 127.0h0M725.0 132.1h0M725.3 132.5h0M725.3 132.3h0M724.9 127.9h0M724.8 184.9h0M724.8 182.2h0M725.0 182.4h0M724.8 182.7h0M724.3 182.2h0M727.0 119.9h0M726.6 117.8h0M726.7 120.6h0M726.9 120.8h0M727.0 124.6h0M727.0 121.9h0M727.2 177.7h0M727.6 180.1h0M727.3 184.1h0M727.5 183.9h0M727.3 175.7h0M729.4 116.6h0M729.1 114.2h0M729.2 114.3h0M729.8 115.3h0M729.5 104.5h0M729.4 176.9h0M729.1 175.8h0M729.9 175.1h0M729.9 180.7h0M729.5 171.0h0M731.7 120.0h0M731.4 119.6h0M731.6 117.6h0M731.4 112.9h0M731.7 109.9h0M731.6 105.3h0M731.4 103.8h0M731.2 163.7h0M730.9 165.6h0M733.0 102.3h0M733.8 105.3h0M733.4 108.8h0M733.1 89.0h0M733.8 101.5h0M733.2 106.6h0M733.3 102.4h0M733.2 161.8h0M733.1 163.8h0M733.1 161.3h0M733.6 161.3h0M737.0 95.6h0M736.8 108.4h0M737.0 88.8h0M736.8 108.7h0M736.4 102.5h0M736.5 101.5h0M736.4 99.8h0M736.8 85.7h0M737.3 172.6h0M736.7 172.0h0M737.0 164.5h0M736.6 171.1h0M738.9 121.4h0M738.8 119.0h0M738.7 127.0h0M739.3 128.3h0M738.9 127.6h0M739.1 117.1h0M738.7 124.8h0M739.2 116.1h0M738.6 178.1h0M738.9 179.6h0M738.6 180.6h0M740.5 121.4h0M740.8 120.4h0M740.5 122.3h0M740.6 127.5h0M740.8 127.4h0M741.1 120.4h0M740.7 119.7h0M741.0 126.8h0M740.8 107.9h0M740.8 175.2h0M741.3 175.7h0M741.1 178.5h0M742.9 118.7h0M742.8 120.5h0M742.9 122.7h0M742.9 113.1h0M742.8 112.3h0M742.6 118.1h0M743.0 105.4h0M743.7 172.5h0M743.8 170.5h0M743.6 167.9h0M745.8 105.7h0M746.5 108.4h0M746.4 110.3h0M746.5 111.7h0M746.1 113.2h0M746.1 94.9h0M746.5 96.0h0M745.3 161.5h0M745.5 163.0h0M745.6 162.0h0M748.1 101.8h0M747.6 101.5h0M747.5 97.0h0M747.9 104.9h0M747.7 97.5h0M748.1 108.4h0M747.8 157.8h0M748.0 157.2h0M748.0 159.4h0M747.6 165.6h0M750.2 100.8h0M749.9 99.0h0M750.1 99.0h0M750.4 92.8h0M750.3 98.2h0M750.7 99.8h0M750.3 88.9h0M750.3 156.8h0M750.1 157.3h0M750.1 160.6h0M749.9 161.1h0M750.2 160.8h0M750.0 169.8h0M753.5 94.3h0M754.3 96.3h0M754.2 104.3h0M753.7 107.4h0M753.7 106.4h0M753.9 113.0h0M753.5 104.8h0M754.2 110.1h0M753.9 88.6h0M753.6 184.7h0M753.9 178.0h0M754.0 176.6h0M753.8 190.2h0M753.5 178.3h0M754.2 183.0h0M753.8 195.3h0M755.4 104.7h0M755.3 96.4h0M755.7 105.6h0M755.4 98.4h0M755.1 111.8h0M755.7 102.1h0M755.1 109.1h0M755.4 113.2h0M755.2 112.9h0M755.6 181.1h0M755.1 180.0h0M755.7 176.7h0M755.1 177.1h0M755.6 183.4h0M755.0 188.4h0M755.4 193.2h0M757.8 106.0h0M757.1 102.4h0M757.2 105.0h0M757.2 102.8h0M757.1 109.9h0M757.2 108.5h0M757.7 109.2h0M757.6 96.5h0M757.5 177.4h0M757.2 176.0h0M757.1 181.2h0M757.1 183.7h0M757.1 174.7h0M759.6 79.7h0M760.1 71.8h0M760.1 89.1h0M760.0 87.0h0M759.6 80.8h0M759.6 89.3h0M759.6 83.7h0M759.4 79.5h0M759.7 164.6h0M759.3 177.4h0M760.0 169.1h0M759.3 161.4h0M760.0 163.0h0M760.0 178.4h0M759.6 170.6h0M759.6 183.5h0M762.8 85.9h0M762.8 81.3h0M762.7 86.0h0M762.8 91.2h0M762.8 72.6h0M762.8 80.9h0M762.5 74.4h0M762.5 89.2h0M762.7 161.3h0M762.9 163.7h0M762.6 169.4h0M762.3 161.0h0M762.4 172.6h0M762.6 160.4h0M765.7 88.5h0M766.0 92.7h0M765.6 93.7h0M765.9 84.6h0M765.7 93.8h0M765.5 93.4h0M765.8 77.5h0M766.3 150.4h0M765.9 151.8h0M766.1 152.5h0M765.8 150.8h0M765.6 149.0h0M765.9 156.7h0M765.9 154.0h0M765.9 169.2h0M769.1 107.7h0M769.3 104.7h0M768.7 104.3h0M769.0 107.1h0M769.2 97.9h0M769.4 105.5h0M769.2 177.2h0M769.4 179.4h0M768.8 165.6h0M769.4 172.6h0M769.2 175.4h0M769.4 168.8h0M771.4 103.7h0M771.5 111.2h0M771.8 106.5h0M771.3 104.0h0M771.8 111.5h0M771.4 99.5h0M772.1 163.5h0M771.6 168.0h0M772.1 163.6h0M771.8 168.9h0M772.0 172.2h0M772.3 172.8h0M772.2 166.2h0M771.9 182.1h0M775.6 101.4h0M775.3 106.3h0M775.3 111.3h0M775.1 95.6h0M775.4 97.8h0M775.2 104.0h0M775.2 164.3h0M774.5 173.2h0M774.8 164.4h0M774.7 165.5h0M775.1 171.3h0M778.0 107.8h0M777.6 109.1h0M777.8 108.9h0M777.6 102.5h0M777.5 108.3h0M777.8 105.0h0M777.8 170.7h0M777.6 172.3h0M777.9 173.2h0M777.6 169.6h0M777.2 165.8h0M778.8 118.9h0M778.7 119.9h0M779.2 116.4h0M779.4 117.1h0M779.0 122.0h0M779.1 118.4h0M780.1 173.2h0M780.1 171.0h0M780.2 168.3h0M779.5 170.9h0M779.8 178.9h0M781.2 118.9h0M781.5 119.7h0M781.3 121.7h0M781.2 113.0h0M781.2 115.1h0M781.3 170.4h0M781.7 168.3h0M781.3 167.4h0M781.2 166.5h0M781.4 178.9h0M783.8 114.2h0M783.9 116.7h0M783.7 113.5h0M783.8 113.3h0M783.9 115.9h0M784.0 100.7h0M784.6 175.7h0M785.1 167.1h0M784.7 171.8h0M784.8 174.2h0M784.6 174.0h0M784.8 180.0h0M787.4 125.5h0M787.4 114.7h0M787.3 123.0h0M787.1 123.7h0M787.3 123.6h0M787.3 113.8h0M786.7 123.5h0M787.1 106.8h0M786.7 176.9h0M786.4 181.0h0M786.4 177.7h0M786.8 179.4h0M789.7 148.7h0M790.1 135.4h0M790.2 126.5h0M789.5 140.9h0M790.1 147.8h0M789.6 137.8h0M789.8 148.1h0M789.7 137.6h0M789.8 124.3h0M789.5 196.0h0M789.7 199.4h0M789.8 200.2h0M792.7 161.9h0M792.0 155.8h0M792.4 163.8h0M792.6 163.4h0M792.3 165.0h0M792.6 156.1h0M792.3 145.9h0M792.2 162.8h0M792.1 205.7h0M795.5 157.3h0M795.8 147.4h0M795.0 144.5h0M795.6 155.0h0M795.2 159.2h0M795.4 156.4h0M795.7 154.4h0M795.2 140.7h0M795.4 140.2h0M798.0 146.4h0M797.8 133.9h0M797.6 139.3h0M797.9 148.9h0M797.6 147.9h0M797.6 143.8h0M798.2 134.4h0M798.0 148.4h0M798.0 132.5h0M797.6 215.9h0M797.7 214.9h0M797.2 215.7h0M799.4 130.6h0M799.9 139.4h0M799.2 136.7h0M799.8 138.1h0M799.3 132.0h0M799.9 136.1h0M799.4 218.1h0M799.7 222.7h0M799.8 217.7h0M799.5 219.0h0M799.9 222.7h0M799.5 217.9h0M799.9 229.5h0M799.6 230.4h0M802.3 136.0h0M803.1 139.6h0M802.4 135.3h0M802.7 129.5h0M802.7 139.9h0M802.6 138.0h0M803.0 138.3h0M802.6 136.7h0M802.4 232.8h0M803.0 226.3h0M803.1 233.4h0M802.4 224.7h0M802.7 225.8h0M805.7 128.4h0M805.7 135.3h0M805.7 132.5h0M806.2 138.6h0M805.7 138.0h0M805.6 136.5h0M806.0 124.1h0M805.9 217.8h0M805.8 218.4h0M805.5 221.0h0M805.8 220.7h0M806.2 219.7h0M805.6 224.9h0M808.2 130.9h0M808.4 135.6h0M808.2 138.6h0M807.8 139.4h0M808.2 139.0h0M808.3 138.8h0M808.0 137.7h0M808.1 128.9h0M807.9 219.1h0M807.7 218.5h0M807.7 222.1h0M808.1 222.6h0M807.6 224.7h0M810.3 145.3h0M810.4 149.9h0M810.4 153.0h0M810.1 151.4h0M810.6 145.1h0M810.4 151.8h0M810.0 220.8h0M809.4 221.7h0M813.8 181.4h0M813.5 180.1h0M813.0 216.2h0M813.5 215.5h0M815.9 177.7h0M816.5 177.0h0M816.1 210.7h0M816.4 210.0h0M816.2 212.0h0M818.6 183.1h0M818.4 182.7h0M818.2 207.4h0M821.5 191.3h0M821.5 215.1h0M821.6 215.0h0M824.9 199.2h0M827.8 195.8h0M827.9 195.1h0M827.8 194.4h0M828.0 218.8h0M831.0 195.6h0M830.7 195.3h0M831.0 219.7h0M831.1 219.6h0M833.4 197.8h0M832.7 220.7h0M832.9 220.9h0M835.0 198.8h0M835.5 222.4h0M835.1 222.4h0M838.0 195.3h0M838.0 194.0h0M838.0 223.8h0M840.2 191.6h0M839.9 191.0h0M840.2 225.0h0M839.9 225.6h0M842.5 182.2h0M842.2 187.1h0M842.4 185.0h0M842.0 183.7h0M841.9 230.4h0M842.2 231.2h0M844.8 197.0h0M844.8 196.1h0M844.9 199.6h0M845.2 237.2h0M845.5 239.0h0M845.5 238.8h0M848.1 204.8h0M847.9 207.3h0M847.7 206.9h0M848.1 241.1h0M848.1 240.3h0M847.9 241.8h0M849.5 211.0h0M849.8 207.6h0M849.9 238.9h0M852.8 209.3h0M853.1 207.7h0M853.0 234.5h0M855.4 204.9h0M855.7 202.6h0M855.8 201.9h0M855.2 232.3h0M857.6 199.8h0M857.5 200.5h0M857.5 196.4h0M857.5 230.2h0M860.2 194.8h0M860.7 196.0h0M860.7 194.7h0M860.5 192.9h0M861.3 228.8h0M861.2 229.7h0M863.1 195.7h0M863.4 226.3h0M862.9 228.8h0M863.3 226.7h0M863.2 229.3h0M865.5 196.5h0M865.9 195.9h0M865.9 228.2h0M866.5 226.7h0M866.1 228.8h0M868.5 199.5h0M869.0 198.4h0M868.7 227.6h0M868.5 227.5h0M868.6 228.2h0M871.1 201.0h0M870.4 201.0h0M870.8 199.7h0M870.7 227.8h0M870.5 226.7h0M870.4 227.9h0M872.4 203.5h0M872.8 202.9h0M872.9 227.6h0M876.3 203.7h0M875.0 228.3h0M875.6 228.9h0M875.3 228.9h0M878.2 201.1h0M877.8 200.9h0M878.3 229.0h0M878.0 229.1h0M880.6 199.6h0M880.9 199.7h0M880.2 199.8h0M880.7 229.8h0M880.3 229.9h0M881.8 201.1h0M882.3 201.0h0M882.0 198.5h0M882.3 228.9h0M882.5 229.4h0M886.3 202.2h0M886.1 200.9h0M886.1 227.7h0M886.0 227.7h0M887.6 203.2h0M887.6 227.7h0M887.2 227.0h0M891.3 207.7h0M890.8 207.7h0M890.9 233.8h0M891.3 233.8h0M893.8 208.4h0M893.3 208.6h0M893.5 208.1h0M894.1 233.5h0M894.6 233.8h0M896.6 207.4h0M896.6 234.8h0M896.5 235.3h0M899.8 208.2h0M899.8 208.0h0M900.5 236.7h0M902.8 207.6h0M902.7 207.9h0M903.1 235.9h0M906.0 208.4h0M906.2 207.4h0M905.4 236.4h0M908.0 207.3h0M908.8 234.5h0M908.5 236.1h0M912.5 208.2h0M912.4 236.6h0M912.1 238.1h0M912.2 238.6h0M914.2 207.7h0M914.1 208.9h0M914.7 209.3h0M914.5 240.6h0M914.7 240.9h0M917.2 204.5h0M917.1 205.8h0M916.9 204.9h0M917.0 236.8h0M917.3 237.2h0M919.8 193.3h0M919.7 191.6h0M920.0 193.0h0M920.1 232.1h0M919.9 232.0h0M919.7 233.1h0M922.7 182.3h0M922.3 180.7h0M922.4 180.6h0M922.4 225.8h0M923.1 225.0h0M922.9 226.0h0M924.9 182.9h0M924.9 185.2h0M924.4 182.6h0M924.4 183.9h0M924.5 229.3h0M924.6 228.0h0M926.7 191.1h0M926.3 194.9h0M926.2 195.0h0M926.3 231.0h0M926.5 231.3h0M928.8 198.0h0M928.7 200.8h0M929.2 201.6h0M929.3 201.2h0M929.1 196.4h0M928.7 232.0h0M929.0 231.9h0M931.1 204.2h0M931.1 204.7h0M931.5 204.0h0M930.8 234.3h0M931.4 234.3h0M934.0 204.0h0M934.2 234.4h0M933.9 234.8h0M936.9 206.9h0M936.9 207.0h0M936.9 204.8h0M936.6 241.3h0M936.6 239.4h0M936.5 239.2h0M939.0 207.8h0M938.7 207.5h0M939.0 205.6h0M938.2 242.2h0M938.5 243.7h0M941.2 210.1h0M941.5 208.5h0M941.3 209.3h0M941.2 244.4h0M940.9 245.0h0M941.0 246.0h0M943.0 209.5h0M942.8 207.2h0M943.1 242.8h0M943.1 242.2h0M946.0 210.3h0M946.0 210.4h0M946.1 209.6h0M945.7 241.0h0M946.2 240.2h0M948.1 212.1h0M948.7 212.9h0M948.6 239.6h0M947.9 240.1h0M948.2 240.6h0M951.2 214.9h0M950.6 242.4h0M951.1 242.7h0M950.8 244.3h0M953.4 213.6h0M953.7 214.3h0M953.4 214.4h0M952.9 246.3h0M953.1 247.6h0M956.0 208.5h0M956.5 209.9h0M956.5 210.4h0M956.3 250.4h0M956.6 248.6h0M958.9 206.7h0M958.7 208.0h0M958.7 206.7h0M959.2 245.1h0M959.6 244.9h0M959.7 245.4h0M959.1 246.1h0M961.0 209.0h0M961.3 209.1h0M960.5 241.8h0M961.0 243.8h0M961.1 241.4h0M960.8 247.8h0M964.0 213.5h0M964.2 213.7h0M964.1 241.9h0M964.1 242.6h0M967.0 216.6h0M966.8 214.8h0M966.3 242.3h0M968.3 217.1h0M968.0 240.7h0M968.8 240.6h0M970.8 212.3h0M971.0 239.3h0M971.7 238.0h0M974.8 207.4h0M975.1 207.5h0M974.1 237.0h0M974.2 237.4h0M976.5 235.6h0M976.7 235.5h0M976.6 233.1h0M976.6 237.3h0M979.9 209.5h0M979.7 210.2h0M979.9 235.0h0M980.2 234.8h0M980.0 236.7h0M982.1 209.6h0M982.4 208.7h0M982.3 208.5h0M982.1 202.1h0M982.6 237.0h0M982.4 237.9h0M985.0 200.2h0M984.6 202.7h0M984.6 204.5h0M985.1 198.7h0M984.6 205.3h0M985.1 237.6h0M985.6 237.7h0M985.2 238.5h0M987.8 203.8h0M987.8 195.0h0M987.8 206.4h0M987.4 195.3h0M987.4 201.1h0M987.5 203.8h0M987.2 238.4h0M989.1 201.0h0M989.0 208.0h0M989.0 200.8h0M989.6 202.3h0M989.5 212.1h0M989.1 212.3h0M989.0 239.9h0M991.4 211.2h0M991.7 200.1h0M991.6 199.5h0M991.6 208.0h0M991.2 208.3h0M992.0 240.1h0M994.3 205.5h0M993.9 195.3h0M993.8 198.6h0M994.0 188.4h0M994.0 199.8h0M994.0 192.6h0M994.0 203.5h0M994.8 240.8h0M994.7 240.5h0M996.5 192.0h0M996.5 205.5h0M996.8 199.2h0M996.9 201.9h0M996.2 200.1h0M996.1 205.2h0M996.3 207.2h0M996.5 184.9h0M996.9 241.1h0M999.3 202.7h0M999.1 189.2h0M999.1 201.6h0M998.8 196.4h0M998.7 193.8h0M998.6 202.5h0M999.0 185.7h0M999.4 241.1h0M1000.0 241.0h0M1002.1 203.8h0M1002.3 207.8h0M1001.9 206.9h0M1002.1 205.9h0M1002.3 207.4h0M1001.9 193.6h0M1002.0 241.7h0M1001.8 241.1h0M1005.1 199.6h0M1004.9 197.8h0M1005.1 201.7h0M1004.5 197.9h0M1005.0 237.5h0M1004.5 238.1h0M1006.6 205.0h0M1006.4 205.6h0M1006.6 207.8h0M1007.0 201.8h0M1006.7 196.0h0M1007.1 240.5h0M1007.4 240.4h0M1009.5 211.9h0M1009.3 207.7h0M1009.1 199.5h0M1009.7 205.2h0M1009.7 206.5h0M1009.8 199.7h0M1008.7 241.6h0M1013.2 212.7h0M1013.1 211.8h0M1013.0 212.8h0M1013.2 208.4h0M1012.7 213.4h0M1011.8 241.2h0M1012.2 241.2h0M1014.9 202.8h0M1015.2 192.0h0M1015.1 203.0h0M1015.4 197.8h0M1015.5 238.1h0M1015.8 239.7h0M1015.4 239.0h0M1018.3 199.4h0M1017.6 186.0h0M1017.6 196.5h0M1017.6 195.8h0M1018.2 189.7h0M1017.6 197.2h0M1018.1 238.0h0M1018.0 240.0h0M1018.1 238.0h0M1018.1 242.0h0M1020.7 189.1h0M1021.3 181.4h0M1021.0 169.8h0M1021.2 189.8h0M1020.8 191.8h0M1021.0 196.3h0M1020.8 170.5h0M1020.9 166.8h0M1021.1 191.9h0M1020.6 179.9h0M1020.8 241.1h0M1020.6 241.3h0M1023.9 190.0h0M1023.8 180.3h0M1023.7 168.8h0M1023.3 184.3h0M1023.6 174.5h0M1023.3 184.3h0M1023.6 179.2h0M1024.0 180.6h0M1023.9 174.4h0M1023.7 184.4h0M1024.5 239.5h0M1024.8 238.9h0M1027.6 200.4h0M1027.2 192.3h0M1026.8 207.6h0M1027.3 198.5h0M1027.4 210.2h0M1027.0 205.0h0M1027.5 199.9h0M1027.2 242.4h0M1029.4 201.0h0M1029.6 208.1h0M1029.9 203.1h0M1029.8 207.8h0M1029.5 205.1h0M1029.7 203.8h0M1029.5 209.2h0M1029.3 242.2h0M1032.4 197.9h0M1032.6 202.2h0M1032.5 200.2h0M1032.4 204.8h0M1032.1 203.5h0M1032.2 239.0h0M1031.9 240.9h0M1031.7 240.5h0M1034.9 195.4h0M1034.8 206.0h0M1035.0 201.4h0M1034.8 194.1h0M1034.9 240.1h0M1034.8 240.9h0M1034.8 241.5h0M1038.4 203.9h0M1038.2 204.1h0M1037.7 206.0h0M1038.3 238.4h0M1037.9 240.5h0M1041.6 199.8h0M1042.0 208.1h0M1041.2 201.6h0M1041.6 197.3h0M1041.5 242.0h0M1041.4 240.9h0M1044.5 201.4h0M1044.4 199.2h0M1044.3 205.1h0M1044.7 196.9h0M1043.9 240.3h0M1044.1 242.5h0M1043.9 244.0h0M1046.7 208.1h0M1046.5 210.0h0M1046.6 204.1h0M1047.0 206.8h0M1046.9 208.2h0M1046.8 246.6h0M1046.9 245.5h0M1046.4 247.2h0M1046.7 248.7h0M1049.2 215.7h0M1048.7 215.5h0M1048.8 216.2h0M1049.4 216.6h0M1048.8 209.4h0M1048.9 250.7h0M1049.3 251.5h0M1051.5 210.9h0M1051.5 213.0h0M1051.5 215.2h0M1051.8 207.6h0M1051.9 205.2h0M1051.7 250.9h0M1051.9 250.4h0M1051.7 252.4h0M1052.0 254.4h0M1053.4 210.8h0M1053.1 214.5h0M1053.3 211.0h0M1053.8 206.9h0M1053.3 213.7h0M1053.3 251.0h0M1053.6 252.1h0M1053.5 250.4h0M1055.9 217.3h0M1056.1 211.6h0M1055.9 213.9h0M1056.0 216.1h0M1056.1 215.5h0M1056.4 252.4h0M1056.0 252.0h0M1056.5 251.1h0M1059.3 216.9h0M1059.5 217.4h0M1059.7 215.8h0M1059.2 218.1h0M1059.1 250.9h0M1058.5 253.0h0M1062.0 219.0h0M1061.8 208.6h0M1061.8 217.3h0M1061.7 215.6h0M1061.5 210.2h0M1061.9 251.6h0M1061.5 253.2h0M1063.6 210.3h0M1063.7 209.4h0M1064.0 209.4h0M1064.0 212.4h0M1064.1 251.1h0M1064.4 250.2h0M1067.4 216.3h0M1066.9 210.8h0M1067.5 217.9h0M1067.4 217.3h0M1066.7 251.6h0M1066.7 250.3h0M1069.4 215.6h0M1069.0 206.7h0M1069.4 216.5h0M1068.9 216.0h0M1069.3 216.0h0M1069.8 250.3h0M1069.5 251.1h0M1071.4 216.2h0M1071.9 213.6h0M1072.0 214.5h0M1071.7 207.2h0M1071.4 250.9h0M1071.5 252.3h0M1070.8 249.6h0M1073.1 214.3h0M1073.7 210.3h0M1073.0 210.5h0M1073.6 214.9h0M1073.8 250.1h0M1073.8 250.3h0M1073.9 249.7h0M1076.6 214.0h0M1076.6 217.7h0M1076.4 212.6h0M1076.5 211.8h0M1076.7 251.5h0M1076.8 254.1h0M1076.6 251.3h0M1079.5 211.5h0M1079.5 214.1h0M1080.0 215.0h0M1079.9 211.5h0M1079.4 254.4h0M1079.7 253.7h0M1079.4 252.8h0M1079.3 256.3h0M1083.3 214.7h0M1083.0 212.2h0M1082.7 214.5h0M1083.2 213.4h0M1082.8 250.6h0M1083.2 250.7h0M1082.8 252.6h0M1085.7 208.6h0M1085.6 208.6h0M1086.1 211.6h0M1086.2 213.7h0M1086.1 214.2h0M1086.2 200.1h0M1085.6 248.1h0M1088.7 203.0h0M1088.6 207.4h0M1088.7 198.3h0M1088.5 213.5h0M1089.1 204.9h0M1089.0 206.1h0M1087.9 246.7h0M1088.3 248.3h0M1091.6 198.0h0M1092.1 202.9h0M1092.2 210.0h0M1092.4 203.3h0M1091.6 206.2h0M1092.2 208.9h0M1091.6 207.3h0M1091.6 246.6h0M1091.8 247.1h0M1094.3 197.5h0M1093.8 203.4h0M1093.7 185.6h0M1094.1 192.3h0M1094.4 206.1h0M1094.4 191.1h0M1094.2 192.6h0M1093.8 247.0h0M1094.2 247.8h0M1093.8 248.3h0M1096.9 200.4h0M1096.9 202.8h0M1096.7 202.9h0M1096.6 199.2h0M1096.5 195.0h0M1096.5 207.8h0M1096.8 207.0h0M1096.3 246.2h0M1096.1 245.8h0M1098.6 209.0h0M1098.6 207.4h0M1098.8 209.4h0M1098.4 204.4h0M1098.8 208.7h0M1098.3 199.5h0M1097.6 246.6h0M1097.7 247.5h0M1099.9 203.1h0M1099.9 203.4h0M1099.3 210.9h0M1099.9 209.7h0M1099.4 210.8h0M1100.3 246.6h0M1099.9 245.9h0M1100.4 246.9h0M1103.8 226.5h0M1103.5 217.7h0M1103.4 222.4h0M1103.1 225.8h0M1103.2 253.3h0M1103.4 254.3h0M1105.6 226.9h0M1105.7 223.7h0M1105.5 226.5h0M1105.1 255.9h0M1108.1 225.8h0M1108.5 225.6h0M1107.9 251.1h0M1107.8 251.0h0M1110.2 226.4h0M1110.8 225.7h0M1110.5 220.7h0M1110.7 249.7h0M1113.9 209.3h0M1113.9 212.8h0M1113.9 213.0h0M1113.4 210.6h0M1113.6 207.0h0M1112.6 253.1h0M1112.9 252.2h0M1113.0 253.6h0M1115.1 210.8h0M1114.8 211.6h0M1114.7 210.3h0M1115.3 250.0h0M1115.7 250.8h0M1118.4 216.3h0M1118.0 216.9h0M1118.2 248.3h0M1118.2 248.9h0M1120.2 218.7h0M1120.6 220.3h0M1120.5 219.0h0M1121.3 246.6h0M1123.4 197.0h0M1122.9 196.2h0M1122.8 197.4h0M1123.1 195.2h0M1123.9 242.5h0M1123.3 240.1h0M1123.2 240.6h0M1127.1 197.5h0M1125.9 237.8h0M1126.0 234.4h0M1126.3 233.9h0M1126.4 234.1h0M1126.3 239.6h0M1129.2 200.7h0M1129.2 200.1h0M1129.9 239.8h0M1130.1 238.8h0M1129.9 238.8h0M1132.6 195.4h0M1132.2 195.1h0M1132.6 194.1h0M1132.3 231.1h0M1132.4 232.2h0M1132.6 232.5h0M1135.6 189.6h0M1136.3 222.3h0M1136.2 223.9h0M1135.9 223.3h0M1138.7 200.3h0M1139.3 199.3h0M1139.1 199.4h0M1139.1 234.8h0M1141.5 217.7h0M1141.6 217.7h0M1141.6 216.1h0M1142.5 239.2h0M1145.1 210.8h0M1145.6 211.7h0M1145.6 241.7h0M1145.1 241.7h0M1145.2 242.9h0M1147.1 209.8h0M1147.7 210.5h0M1147.4 245.4h0M1147.4 244.6h0M1147.4 243.0h0M1149.4 210.1h0M1149.3 210.2h0M1149.2 207.9h0M1149.5 246.8h0M1149.8 247.4h0M1151.9 208.0h0M1152.0 207.3h0M1152.0 238.9h0M1152.5 241.4h0M1152.0 241.5h0M1153.7 204.9h0M1153.6 204.8h0M1154.0 233.8h0M1153.6 233.7h0M1153.6 234.3h0M1157.4 233.5h0M1157.0 234.6h0M1157.0 235.9h0M1157.2 233.7h0M1158.5 207.4h0M1158.5 206.7h0M1159.0 238.1h0M1159.5 238.6h0M1159.3 241.0h0M1162.3 208.9h0M1162.0 208.2h0M1161.9 236.7h0M1162.1 237.4h0M1161.9 237.8h0M1164.0 204.6h0M1164.5 205.2h0M1164.8 231.6h0M1168.2 204.1h0M1167.8 204.3h0M1168.0 201.7h0M1168.2 237.8h0M1168.1 237.4h0M1171.3 213.2h0M1171.5 211.2h0M1170.2 243.1h0M1170.1 243.4h0M1173.1 212.4h0M1173.3 241.9h0M1173.2 242.9h0M1174.5 214.4h0M1174.7 214.6h0M1175.4 244.4h0M1174.9 243.9h0M1178.6 219.4h0M1178.7 217.7h0M1179.0 247.4h0M1180.3 223.4h0M1180.0 224.1h0M1181.1 250.2h0M1182.8 226.3h0M1182.4 251.7h0M1186.1 230.1h0M1185.7 252.1h0M1185.8 252.1h0M1185.7 253.0h0M1188.8 224.4h0M1188.3 224.3h0M1187.8 249.8h0M1187.8 250.0h0M1190.9 218.9h0M1190.5 219.0h0M1190.3 246.9h0M1193.0 213.6h0M1193.1 214.1h0M1193.2 211.8h0M1193.4 242.9h0M1196.9 218.4h0M1196.8 218.2h0M1196.5 239.6h0M1198.9 215.0h0M1199.4 215.1h0M1199.1 213.9h0M1199.5 238.0h0M1201.5 213.8h0M1201.8 213.4h0M1201.9 236.5h0M1201.7 236.7h0M1204.4 234.1h0M1204.1 235.9h0M1207.1 238.7h0M1207.6 239.6h0M1207.5 238.5h0M1209.3 218.8h0M1208.6 253.4h0M1208.9 251.5h0M1208.9 253.9h0M1212.4 222.4h0M1212.0 225.1h0M1211.9 225.2h0M1211.5 258.4h0M1211.9 258.7h0M1213.8 222.9h0M1213.5 222.4h0M1213.5 258.2h0M1213.5 259.7h0M1213.9 259.1h0M1216.9 230.6h0M1217.0 230.4h0M1216.7 263.5h0M1217.3 263.4h0M1220.3 224.3h0M1219.6 253.8h0M1219.8 254.7h0M1221.6 219.6h0M1221.6 219.7h0M1222.3 250.7h0M1222.2 251.1h0M1222.0 253.1h0M1222.2 255.5h0M1224.5 223.1h0M1224.1 222.7h0M1224.5 253.8h0M1224.4 255.3h0M1227.1 228.1h0M1227.5 229.4h0M1226.3 257.9h0M1228.6 228.4h0M1229.3 228.4h0M1228.6 257.9h0M1230.8 226.6h0M1231.2 226.5h0M1231.6 252.8h0M1232.1 253.2h0M1233.1 222.4h0M1233.6 222.4h0M1233.1 249.3h0M1233.1 250.4h0M1235.9 218.6h0M1235.9 253.9h0M1236.0 253.5h0M1235.8 251.7h0M1237.6 222.0h0M1237.4 260.0h0M1237.4 256.6h0M1237.8 258.3h0M1237.9 258.6h0M1240.8 227.6h0M1241.2 227.7h0M1240.4 259.9h0M1240.1 260.0h0M1240.2 261.8h0M1242.2 229.1h0M1242.4 228.9h0M1242.7 258.3h0M1242.4 258.4h0M1246.1 227.5h0M1245.5 256.8h0M1246.1 256.6h0M1248.2 225.1h0M1247.6 256.7h0M1247.4 255.8h0M1250.1 223.6h0M1250.1 223.5h0M1250.1 222.6h0M1250.6 257.5h0M1250.6 256.3h0M1250.8 260.0h0M1252.2 226.5h0M1252.1 259.6h0M1252.0 259.4h0M1255.6 229.9h0M1254.9 258.2h0M1255.3 258.4h0M1258.7 231.5h0M1259.0 231.4h0M1258.6 229.3h0M1258.3 257.6h0M1258.6 257.8h0M1260.3 230.7h0M1260.3 230.5h0M1261.4 256.1h0M1263.0 228.4h0M1263.2 228.3h0M1263.2 253.9h0M1266.2 227.3h0M1266.9 254.1h0M1266.6 252.8h0M1269.6 229.8h0M1269.3 255.3h0M1271.4 230.4h0M1271.4 229.6h0M1271.0 255.8h0M1270.9 255.8h0M1270.8 256.5h0M1274.2 232.4h0M1274.0 231.8h0M1273.5 257.2h0M1273.6 257.0h0M1276.8 233.0h0M1276.9 232.9h0M1276.2 257.5h0M1276.3 257.8h0M1279.1 257.5h0M1278.5 257.5h0M1281.1 229.6h0M1281.8 256.9h0M1281.9 256.6h0M1284.3 229.6h0M1283.8 230.7h0M1284.3 230.7h0M1284.5 260.9h0M1284.6 261.1h0M1286.5 228.2h0M1287.1 226.7h0M1286.8 226.3h0M1286.2 260.9h0M1286.5 260.4h0M1286.2 263.1h0M1289.1 226.5h0M1289.2 260.3h0M1289.4 259.4h0M1289.2 262.9h0M1289.0 264.2h0M1291.0 225.2h0M1291.1 258.8h0M1291.7 261.3h0M1291.4 257.8h0M1291.4 262.9h0M1293.0 228.1h0M1293.7 258.5h0M1293.5 260.3h0M1295.9 232.1h0M1296.1 229.5h0M1296.0 232.1h0M1296.2 260.6h0M1296.4 260.6h0M1298.6 231.1h0M1298.1 234.8h0M1298.2 235.2h0M1298.4 230.0h0M1301.1 231.1h0M1300.8 231.4h0M1301.0 229.2h0M1301.3 259.5h0M1300.8 258.9h0M1301.1 260.0h0M1303.4 229.0h0M1304.1 256.9h0M1303.8 257.2h0M1307.1 228.8h0M1306.7 229.8h0M1306.8 259.5h0M1309.7 229.1h0M1309.3 229.0h0M1309.2 258.4h0M1308.9 258.8h0M1308.8 260.4h0M1311.6 229.5h0M1311.6 229.4h0M1310.9 258.0h0M1311.4 260.0h0M1311.1 258.7h0M1311.3 261.0h0M1313.0 230.4h0M1313.0 229.9h0M1313.3 259.9h0M1313.0 260.0h0M1315.8 230.0h0M1316.2 260.9h0M1315.6 261.4h0M1318.7 229.4h0M1318.8 230.6h0M1318.8 231.5h0M1318.5 263.1h0M1319.2 262.8h0M1321.3 225.7h0M1321.8 259.1h0M1321.6 260.2h0M1321.9 260.4h0M1324.3 224.5h0M1324.3 257.8h0M1324.2 256.6h0M1327.3 226.4h0M1326.5 255.8h0M1326.2 255.9h0M1329.5 231.1h0M1329.3 230.6h0M1328.9 229.7h0M1329.8 259.5h0M1329.6 259.4h0M1332.2 228.8h0M1331.7 229.4h0M1332.9 260.2h0M1332.7 259.0h0M1335.6 229.9h0M1335.1 230.3h0M1334.3 259.6h0M1334.3 260.0h0M1337.7 231.2h0M1338.1 231.4h0M1337.9 228.9h0M1337.7 261.4h0M1337.8 262.9h0M1340.7 232.0h0M1340.2 232.2h0M1340.5 229.3h0M1340.0 262.8h0M1340.0 261.9h0M1342.8 229.2h0M1342.8 229.7h0M1342.9 263.0h0M1342.5 259.4h0M1342.3 260.5h0M1342.5 263.9h0M1344.6 230.7h0M1344.6 231.0h0M1345.8 261.4h0M1345.7 262.2h0M1346.0 261.9h0M1348.0 232.3h0M1347.6 233.8h0M1347.9 233.0h0M1348.7 264.5h0M1350.7 233.9h0M1350.0 233.2h0M1350.1 263.1h0M1352.9 231.7h0M1353.2 259.4h0M1353.2 257.8h0M1355.2 234.2h0M1355.2 232.1h0M1355.5 258.7h0M1358.5 226.5h0M1358.4 258.2h0M1358.7 257.9h0M1358.7 259.5h0M1358.5 261.8h0M1361.5 225.3h0M1361.0 225.2h0M1361.2 223.5h0M1361.1 262.3h0M1360.8 262.6h0M1360.8 261.6h0M1360.8 264.9h0M1364.4 231.5h0M1364.1 231.0h0M1364.7 265.8h0M1364.5 264.4h0M1365.9 233.4h0M1366.6 232.5h0M1366.6 233.0h0M1366.7 264.6h0M1369.1 234.6h0M1369.3 233.6h0M1369.8 262.6h0M1369.6 262.8h0M1371.6 235.5h0M1372.0 235.7h0M1372.7 265.2h0M1376.0 232.5h0M1376.0 233.7h0M1376.0 267.4h0M1375.8 266.2h0M1376.1 268.8h0M1378.6 226.7h0M1379.4 260.2h0M1379.1 258.4h0M1379.4 260.0h0M1381.9 253.6h0M1381.4 254.5h0M1381.5 249.8h0M1385.0 229.6h0M1384.1 255.6h0M1384.5 254.5h0M1387.2 235.3h0M1386.8 235.3h0M1386.7 257.8h0M1389.0 236.4h0M1388.6 236.1h0M1388.9 235.1h0M1388.8 258.9h0M1391.2 236.6h0M1391.3 237.0h0M1390.8 257.9h0M1391.0 258.4h0M1394.2 238.8h0M1394.2 259.3h0M1396.5 239.2h0M1396.5 260.7h0M1396.6 260.9h0M1398.9 240.0h0M1399.1 238.7h0M1399.3 263.0h0M1401.8 238.4h0M1401.3 238.4h0M1401.9 265.1h0M1401.7 265.5h0M1404.7 235.4h0M1404.5 235.3h0M1404.6 260.4h0M1404.8 260.9h0M1404.7 262.0h0M1407.5 232.1h0M1407.8 232.1h0M1407.6 258.1h0M1407.2 257.6h0M1407.4 259.3h0M1409.6 231.3h0M1409.8 230.8h0M1409.8 229.3h0M1409.2 259.1h0M1409.5 259.5h0M1412.1 228.4h0M1412.0 227.4h0M1412.0 229.5h0M1412.0 261.1h0M1413.7 221.3h0M1413.8 220.3h0M1414.1 258.3h0M1413.4 260.9h0M1413.7 261.5h0M1413.8 262.9h0M1417.4 222.8h0M1417.2 223.6h0M1417.2 222.5h0M1417.1 221.1h0M1416.8 265.3h0M1416.5 265.4h0M1416.8 268.5h0M1419.7 227.5h0M1419.2 229.1h0M1419.4 226.0h0M1419.0 272.6h0M1418.7 270.5h0M1419.4 271.5h0M1419.0 274.5h0M1421.5 233.0h0M1421.1 234.4h0M1421.1 232.5h0M1421.1 276.9h0M1421.5 275.2h0M1421.3 273.1h0M1424.0 245.4h0M1423.8 240.7h0M1423.7 240.9h0M1424.1 245.1h0M1424.4 243.4h0M1424.1 283.7h0M1426.3 243.0h0M1426.6 244.7h0M1426.6 240.4h0M1426.1 239.7h0M1426.5 282.0h0M1428.1 239.4h0M1428.2 238.5h0M1428.0 240.2h0M1428.3 277.9h0M1428.6 279.2h0M1431.5 237.9h0M1431.5 273.2h0M1431.4 272.0h0M1430.7 274.5h0M1431.1 276.2h0M1434.8 243.5h0M1434.6 243.6h0M1434.9 240.8h0M1434.5 273.5h0M1434.5 274.7h0M1434.4 275.0h0M1437.0 244.3h0M1437.4 244.8h0M1436.7 241.6h0M1437.3 243.6h0M1437.0 239.1h0M1439.8 242.0h0M1439.7 242.1h0M1440.1 242.1h0M1439.7 240.2h0M1440.4 277.0h0M1440.1 276.4h0M1443.4 240.0h0M1443.4 238.1h0M1442.9 238.5h0M1443.3 235.8h0M1443.1 233.8h0M1442.7 274.4h0M1443.0 274.7h0M1442.7 274.7h0M1444.7 237.1h0M1444.4 236.2h0M1445.1 270.7h0M1445.4 270.5h0M1448.0 234.7h0M1447.2 268.1h0M1447.4 267.5h0M1448.7 232.2h0M1449.8 263.4h0M1449.2 266.9h0M1449.4 263.2h0M1452.3 234.3h0M1453.1 234.2h0M1452.4 265.0h0M1452.0 264.0h0M1452.3 267.2h0M1454.9 240.0h0M1454.7 239.0h0M1454.5 266.0h0M1454.8 266.7h0M1456.5 244.8h0M1456.4 244.2h0M1456.0 269.1h0M1456.2 268.9h0M1459.3 239.6h0M1459.7 242.9h0M1459.7 241.4h0M1459.7 239.0h0M1459.5 273.1h0M1461.1 241.5h0M1460.9 239.9h0M1460.9 243.0h0M1461.5 240.3h0M1462.0 276.7h0M119.6 237.3h0M131.8 233.2h0M139.4 234.5h0M148.2 231.1h0M161.2 233.8h0M183.0 244.1h0M200.1 252.3h0M242.4 219.5h0M264.3 232.5h0M280.6 235.2h0M298.4 244.8h0M329.6 213.0h0M350.6 210.0h0M384.6 247.7h0M422.4 229.4h0M442.7 206.9h0M459.5 168.2h0M471.8 116.3h0M495.0 150.4h0M513.1 192.7h0M532.5 219.2h0M542.7 225.3h0M547.8 225.3h0M568.2 212.0h0M575.3 198.5h0M620.2 273.9h0M634.4 202.6h0M659.9 248.5h0M728.9 102.1h0M733.7 85.7h0M737.8 85.7h0M761.7 61.1h0M776.7 91.8h0M784.2 100.7h0M786.2 100.7h0M804.0 121.2h0M810.1 136.2h0M815.6 173.1h0M829.2 192.4h0M842.4 180.1h0M860.0 190.3h0M879.6 196.5h0M905.1 204.6h0M923.4 175.0h0M957.1 203.6h0M974.4 206.7h0M986.2 186.3h0M994.8 184.2h0M1024.8 156.1h0M1047.8 196.5h0M1072.3 201.6h0M1094.7 181.2h0M1114.3 204.9h0M1125.1 193.6h0M1136.3 189.5h0M1146.1 207.9h0M1156.3 201.8h0M1167.1 199.7h0M1192.7 210.5h0M1203.4 213.1h0M1222.9 218.2h0M1235.7 218.7h0M1250.0 222.3h0M1265.8 227.0h0M1291.3 225.0h0M1304.6 228.1h0M1323.9 223.0h0M1360.2 221.9h0M1381.6 221.9h0M1415.3 209.7h0M1430.0 236.2h0M1441.2 233.2h0M1451.0 231.1h0M120.9 278.4h0M141.4 289.3h0M162.6 320.7h0M176.9 290.7h0M191.9 324.1h0M215.1 307.0h0M232.9 275.6h0M272.5 323.4h0M300.0 301.5h0M312.2 301.5h0M332.6 295.4h0M342.8 295.4h0M396.3 407.6h0M416.6 367.8h0M430.5 324.0h0M443.8 338.3h0M492.7 267.9h0M500.3 281.2h0M535.5 309.7h0M560.0 282.9h0M571.2 311.7h0M611.0 494.7h0M679.3 389.7h0M723.1 199.3h0M738.4 185.0h0M753.7 197.3h0M768.0 187.1h0M801.7 237.0h0M846.5 243.2h0M860.0 229.9h0M880.6 229.9h0M901.0 237.0h0M914.8 241.1h0M941.8 247.2h0M957.1 252.3h0M1000.9 242.1h0M1025.4 243.2h0M1049.8 254.4h0M1060.0 254.4h0M1079.4 256.4h0M1105.1 256.9h0M1113.3 253.8h0M1130.2 243.6h0M1149.1 248.7h0M1159.4 241.5h0M1185.5 253.3h0M1216.7 265.1h0M1228.0 259.0h0M1239.2 264.1h0M1250.0 260.0h0M1288.2 264.6h0M1318.8 263.5h0M1348.4 264.6h0M1363.7 267.6h0M1376.5 269.7h0M1401.4 265.6h0M1424.9 283.9h0M1441.2 276.8h0M141.4 302.2h0M158.5 333.6h0M183.7 290.6h0M269.0 335.6h0M213.1 217.5h0M213.1 223.7h0M213.1 229.8h0M213.1 236.0h0M213.1 243.5h0M220.6 227.8h0M220.6 233.9h0M220.6 240.1h0M227.4 238.7h0M424.4 208.4h0M424.4 220.6h0M424.4 232.8h0M418.3 237.9h0M417.3 249.1h0M417.3 256.3h0M415.2 266.5h0M551.8 214.5h0M542.7 203.9h0M542.7 192.0h0M533.5 216.5h0M594.7 243.0h0M588.6 243.0h0M594.7 257.3h0M594.7 268.5h0M314.3 318.5h0M365.3 287.9h0M355.1 267.5h0M378.1 365.0h0M378.1 373.5h0M400.3 278.7h0M403.6 284.8h0M400.9 296.0h0M400.9 302.2h0M571.2 318.1h0M535.5 316.4h0M592.6 381.7h0M592.6 391.9h0M735.3 63.3h0M735.3 73.8h0M718.0 129.5h0M869.5 160.9h0M869.5 171.1h0M869.5 175.9h0M869.5 185.4h0M869.5 193.6h0M879.1 181.3h0M879.8 193.6h0M860.6 187.5h0M739.1 191.6h0M767.8 180.7h0M768.5 188.2h0M774.6 192.3h0M777.4 192.9h0M842.2 178.6h0M829.2 190.9h0M567.5 172.4h0M567.5 187.7h0M567.5 189.7h0M659.9 230.5h0M642.6 234.6h0M593.6 243.8h0M594.7 258.0h0M595.7 269.3h0M596.7 284.6h0M602.4 302.9h0M602.8 308.0h0M712.9 233.6h0M739.0 191.8h0M739.0 197.9h0M753.7 205.0h0M753.7 218.3h0M753.7 224.4h0M768.4 211.1h0M768.4 216.2h0M774.1 202.0h0M776.2 193.8h0M768.0 181.6h0M826.7 229.5h0M793.5 143.2h0M571.2 318.2h0M571.2 317.9h0M592.6 382.2h0M592.6 392.4h0M598.7 410.7h0M598.7 439.3h0M603.8 439.3h0M603.8 448.4h0M651.8 331.2h0M651.8 340.4h0M679.3 402.6h0M694.6 349.5h0M696.6 357.7h0M602.4 302.6h0M602.8 308.7h0M869.4 161.2h0M869.4 171.4h0M869.4 175.5h0M869.4 185.6h0M879.6 181.6h0M860.2 187.7h0M935.6 194.8h0M995.2 150.0h0M995.2 155.1h0M995.2 161.2h0M995.2 163.2h0M998.9 171.4h0M1048.8 186.7h0M1083.5 192.8h0M1096.7 168.3h0M1101.2 142.4h0M1101.2 149.3h0M1101.2 166.3h0M1101.2 174.4h0M991.3 250.9h0M1079.4 257.0h0M1130.4 236.6h0M1130.4 242.7h0M1094.7 182.6h0M1089.6 190.7h0M1102.0 166.4h0M1102.0 174.6h0M1182.4 265.2h0M1173.7 194.0h0M1184.5 217.6h0M1130.2 230.9h0M1130.2 236.0h0M1130.2 242.2h0M1286.6 273.3h0M1249.1 221.3h0M1182.2 265.2h0M1174.0 194.8h0" stroke="#1f77b4" stroke-width="5.3" stroke-linecap="round" fill="none"/><path d="M116.8 267.4 120.2 270.8 123.7 252.4 127.1 255.1 130.5 244.8 135.3 260.5 138.7 255.8 141.4 264.0 145.8 247.6 151.0 278.3 153.7 287.8 156.4 242.1 158.5 256.5 160.2 243.5 162.6 269.4 163.9 257.8 166.0 267.4 170.1 271.5 176.9 281.0 181.0 259.2 183.7 255.1 186.5 264.6 191.9 311.1 195.3 270.1 198.7 262.6 200.1 267.4 202.8 260.5 205.6 268.7 210.3 291.3 212.4 270.1 214.4 287.8 219.2 258.5 220.6 266.0 221.9 257.8 224.7 260.5 228.8 255.8 230.8 254.4 235.6 242.8 237.6 244.2 240.4 233.9 242.4 233.9 244.5 244.2 245.8 243.5 247.9 256.5 251.3 257.1 254.0 250.3 255.4 251.7 257.4 244.8 259.5 248.3 260.9 244.2 262.2 248.3 264.9 240.1 267.0 240.1 269.7 251.0 272.5 276.9 273.8 267.4 277.2 262.6 281.3 246.9 283.4 256.5 287.5 278.3 290.2 278.3 294.3 254.4 295.7 254.4 298.1 246.9 300.0 257.3 302.4 281.8 304.5 263.4 307.1 279.7 309.8 282.8 311.8 274.6 315.9 294.0 320.4 267.5 323.5 247.1 325.5 246.1 329.2 221.6 331.6 230.8 334.7 255.3 337.1 258.3 339.8 275.6 342.2 289.5 345.9 257.3 350.0 220.6 352.6 224.7 354.7 223.6 356.1 229.8 358.1 229.8 360.6 244.0 363.2 247.1 365.7 244.0 368.3 250.2 371.4 271.6 374.4 298.1 376.5 295.0 378.5 300.1 381.6 279.7 383.6 296.0 386.7 324.6 390.7 349.1 393.4 360.3 396.3 383.7 398.9 345.0 400.5 336.4 403.0 340.9 405.6 358.2 408.1 347.0 410.1 341.9 413.8 300.1 416.2 324.6 417.9 297.1 420.3 325.6 423.4 273.6 425.4 272.6 427.5 281.8 429.5 296.0 432.6 287.9 435.6 277.7 439.1 303.2 441.3 251.2 443.8 312.4 445.8 266.5 447.2 266.5 449.9 243.0 451.9 261.4 454.0 255.3 456.0 264.4 459.1 227.7 463.1 208.4 465.6 187.4 469.0 149.1 472.5 143.7 473.8 147.8 475.9 149.1 478.6 164.2 482.0 184.6 484.7 202.4 484.6 204.3 486.6 203.3 488.6 220.6 491.1 216.5 492.7 237.9 495.0 177.8 497.8 216.5 499.8 253.2 501.9 227.7 504.9 223.6 509.0 210.4 512.1 203.3 515.1 210.4 517.2 215.5 520.2 230.8 523.3 242.0 527.4 248.1 531.5 267.5 533.5 262.4 536.1 271.6 539.6 261.4 543.7 238.9 546.7 265.5 551.2 255.3 553.9 264.4 556.9 261.4 561.0 262.4 564.1 251.2 566.1 254.2 567.7 242.7 571.2 289.7 574.7 240.7 577.3 255.0 580.4 275.4 583.5 293.7 585.5 295.8 589.6 316.2 592.6 324.3 595.7 332.5 596.7 339.3 599.8 365.8 601.4 359.7 603.2 374.0 605.3 376.0 607.9 420.9 608.9 420.9 611.0 462.7 613.4 439.3 616.1 402.6 619.1 357.7 622.2 316.9 624.2 287.6 627.3 271.3 630.4 250.9 632.4 250.9 633.8 245.8 636.5 251.9 639.5 263.1 641.6 272.3 643.6 269.3 646.7 278.4 649.7 280.5 652.8 273.3 655.2 267.2 657.9 279.5 659.9 270.3 663.0 283.5 665.0 287.6 667.1 299.8 669.1 296.8 672.2 306.0 675.2 316.2 678.3 332.5 681.3 314.1 683.4 303.9 686.4 283.5 688.5 286.6 691.5 268.2 694.6 271.3 697.0 281.5 699.7 250.9 702.7 220.3 704.8 217.3 707.8 191.8 710.5 197.9 712.9 181.6 716.6 154.0 719.1 153.0 722.1 142.8 725.2 164.2 728.2 137.7 730.9 150.0 732.9 148.9 735.0 125.5 737.4 146.9 739.5 163.2 741.9 161.2 744.6 141.8 746.6 143.8 749.7 124.5 752.7 142.8 754.7 146.9 757.8 145.9 760.9 115.3 762.3 130.6 764.9 112.2 767.6 131.6 770.0 132.6 772.1 130.6 775.1 139.8 777.2 138.7 779.2 150.0 781.3 139.8 782.7 147.9 784.9 138.7 787.4 159.1 790.4 195.8 792.5 199.9 794.5 198.9 797.0 208.1 799.6 167.3 801.7 199.9 804.1 176.5 805.3 185.6 806.7 175.5 809.8 206.0 813.9 195.8 816.9 194.2 820.0 197.9 823.1 210.1 825.1 215.2 827.5 210.1 829.6 213.2 831.6 208.1 834.3 213.2 836.9 211.1 839.0 207.1 841.4 211.1 843.9 217.3 845.5 217.3 848.6 232.6 851.6 225.4 853.7 224.4 856.7 219.3 860.0 218.3 864.3 207.1 867.3 217.3 870.4 213.2 874.5 217.3 877.5 215.2 880.6 220.3 884.7 215.2 887.7 214.2 891.8 226.4 893.8 218.3 897.9 223.4 901.0 229.5 904.0 221.3 906.1 228.5 909.1 218.3 911.2 219.3 914.8 230.5 919.3 220.3 922.4 202.0 924.4 208.1 927.5 222.4 930.6 223.4 933.6 216.2 935.6 217.3 939.7 232.6 942.8 223.4 945.8 222.4 948.9 229.5 950.9 226.4 954.4 235.6 957.1 227.5 960.7 216.2 963.8 226.4 966.2 231.5 969.3 225.4 971.9 220.3 974.0 223.4 976.8 211.1 978.9 216.2 980.5 215.2 983.6 226.4 985.6 224.4 988.7 230.5 990.7 232.6 992.7 229.5 995.2 233.6 997.2 230.5 1000.5 227.5 1002.5 230.5 1005.4 213.2 1008.0 234.6 1010.1 230.5 1012.1 234.6 1016.2 216.2 1018.2 216.2 1021.3 229.5 1024.4 216.2 1026.4 235.6 1027.8 227.5 1029.5 236.6 1031.5 220.3 1033.5 223.4 1037.6 220.3 1040.7 223.4 1044.3 214.2 1046.8 228.5 1049.8 237.6 1052.9 228.5 1056.0 234.6 1058.4 230.5 1061.1 236.6 1064.1 232.6 1067.2 234.6 1071.3 232.6 1074.3 230.5 1078.4 235.6 1081.5 233.6 1086.6 234.6 1090.6 231.5 1093.7 232.6 1096.7 230.5 1099.8 227.5 1100.0 225.8 1101.5 230.9 1104.6 248.3 1108.2 230.9 1110.8 238.1 1114.3 236.0 1119.5 234.0 1122.0 238.1 1124.6 202.7 1126.8 209.4 1128.7 208.9 1130.7 218.6 1135.3 195.1 1138.4 216.6 1141.0 232.9 1143.5 224.2 1145.6 227.8 1147.6 226.3 1150.2 227.8 1153.2 216.6 1154.8 214.5 1156.8 205.8 1159.4 226.8 1163.5 218.6 1166.6 216.6 1169.6 227.8 1171.7 230.9 1173.7 222.7 1176.3 235.0 1177.8 234.0 1180.9 241.1 1183.4 237.0 1187.0 241.1 1189.6 236.0 1191.1 235.5 1193.7 227.3 1196.2 231.9 1198.8 227.8 1201.4 226.3 1204.2 218.6 1208.5 223.2 1211.6 249.3 1214.2 230.9 1217.2 254.4 1220.3 230.9 1221.8 226.3 1224.4 237.0 1228.0 252.4 1230.5 246.2 1233.1 234.0 1234.6 228.3 1236.7 228.8 1240.8 247.8 1242.3 245.2 1244.4 246.8 1246.4 234.0 1250.0 239.1 1252.6 237.6 1255.6 238.7 1259.3 248.9 1262.7 240.7 1266.8 236.6 1269.9 244.8 1271.9 242.7 1276.0 251.9 1278.0 236.6 1280.1 235.6 1284.2 251.9 1287.2 242.7 1291.3 233.6 1294.4 243.8 1298.0 258.0 1300.9 246.8 1304.1 238.7 1307.6 246.8 1310.7 236.6 1312.7 245.8 1315.8 240.7 1318.4 254.0 1321.3 236.6 1323.3 238.7 1326.0 234.6 1329.0 251.9 1332.1 244.8 1336.2 243.8 1339.6 252.9 1343.3 232.6 1346.4 250.9 1349.4 257.0 1352.5 238.7 1355.5 251.9 1359.6 233.6 1363.7 248.9 1367.8 250.9 1372.9 252.9 1376.9 249.9 1381.6 226.4 1385.1 240.7 1387.8 251.9 1390.2 245.8 1392.6 244.8 1395.3 251.9 1397.3 248.9 1400.0 255.0 1402.4 245.8 1405.5 245.8 1408.6 240.7 1411.6 255.0 1415.3 226.4 1417.7 257.0 1420.8 243.8 1423.8 275.4 1426.9 271.3 1430.0 257.0 1432.6 249.9 1436.1 267.2 1439.5 269.3 1443.2 263.1 1447.3 246.8 1450.4 239.7 1453.0 248.9 1455.9 258.0 1458.5 256.0 1462.6 272.3" stroke="#ff7f0e" stroke-width="2.25" fill="none" stroke-linejoin="round" stroke-linecap="butt"/></g>
<path d="M116.5 518.5v5.4M284.5 518.5v5.4M452.5 518.5v5.4M621.5 518.5v5.4M789.5 518.5v5.4M957.5 518.5v5.4M1125.5 518.5v5.4M1294.5 518.5v5.4M116.5 42.5h-5.4M116.5 139.5h-5.4M116.5 236.5h-5.4M116.5 333.5h-5.4M116.5 431.5h-5.4" stroke="#000" stroke-width="1.1" fill="none"/>
<rect x="116.5" y="38.5" width="1346.0" height="480.0" fill="none" stroke="#000" stroke-width="1.1"/>
<rect x="164.8" y="575.5" width="524.2" height="479.0" fill="#e8e8e8"/>
<path d="M165.20000000000002 575.5V1054.5M688.6 575.5V1054.5" stroke="#dcdcdc" stroke-width="1" fill="none"/>
<path d="M284.5 575.5V1054.5M452.5 575.5V1054.5M621.5 575.5V1054.5M789.5 575.5V1054.5M957.5 575.5V1054.5M1125.5 575.5V1054.5M1294.5 575.5V1054.5M116.5 608.5H1462.5M116.5 714.5H1462.5M116.5 819.5H1462.5M116.5 924.5H1462.5M116.5 1030.5H1462.5" stroke="#b0b0b0" stroke-width="1" stroke-dasharray="1.1 1.84" fill="none"/>
<g clip-path="url(#c2)"><path d="M113.5 985.4 116.4 981.7 117.1 982.0 119.4 970.5 120.2 963.8 121.3 946.2 122.2 920.7 123.2 923.9 124.7 926.0 126.0 959.1 126.7 968.4 128.6 965.8 128.8 965.1 131.2 983.9 131.4 978.3 133.4 988.3 135.5 988.5 135.9 987.6 138.5 978.5 138.5 976.3 141.0 971.2 141.2 968.9 143.0 977.7 143.6 980.7 145.3 985.6 147.5 988.3 147.7 988.9 150.2 984.0 150.8 983.4 151.8 919.6 153.2 916.2 155.3 878.0 156.1 891.8 157.9 923.7 158.6 938.9 160.0 976.3 160.9 975.3 163.1 969.2 164.0 954.1 164.9 971.2 166.7 982.3 167.1 984.0 169.1 977.1 170.2 967.3 171.3 940.1 172.2 907.5 173.5 900.1 174.8 888.8 176.4 912.6 177.3 916.6 178.8 947.3 179.3 954.3 181.3 961.9 182.4 972.0 183.4 980.0 185.2 987.1 185.5 987.6 187.4 986.6 189.4 985.9 189.5 985.0 191.6 953.4 191.8 947.5 193.6 883.5 194.8 879.2 195.6 876.9 197.4 917.6 197.7 919.2 199.4 920.8 201.8 906.1 202.3 912.1 204.2 946.1 205.0 961.7 205.8 972.0 207.7 966.0 209.9 958.9 210.6 963.1 213.0 973.6 213.3 970.2 215.0 921.4 216.1 906.1 216.4 900.4 218.3 936.8 219.1 948.5 221.3 959.8 222.2 958.5 224.2 970.4 225.2 975.9 226.2 975.7 228.3 973.5 228.9 980.9 231.6 986.5 232.4 987.8 233.9 980.7 236.4 973.5 236.4 971.8 238.8 970.5 239.5 967.5 241.5 957.9 241.7 957.8 244.1 964.2 244.6 965.7 246.6 990.7 246.9 992.8 249.1 997.8 249.7 998.5 251.9 997.2 254.8 995.2 256.8 987.1 257.2 991.8 259.7 993.3 262.6 995.8 262.9 991.0 265.2 988.8 267.6 987.0 269.1 986.3 269.7 985.6 271.9 977.2 272.1 976.9 274.5 969.1 275.2 963.3 276.5 936.0 276.8 925.6 279.4 928.9 279.7 928.4 281.3 961.1 281.5 963.6 284.4 967.9 284.4 968.0 286.6 953.6 287.4 945.2 289.5 941.3 290.5 931.4 292.2 932.9 293.5 912.2 294.6 906.7 296.6 911.1 297.0 917.8 299.6 909.3 299.7 908.2 302.1 918.1 303.7 913.0 304.3 919.3 306.2 934.9 306.3 940.3 308.7 956.6 308.8 956.6 311.7 975.6 311.9 976.5 314.2 978.0 314.9 977.8 316.1 965.8 317.0 948.2 318.9 932.1 319.0 923.2 321.6 920.2 323.1 926.0 324.4 953.0 325.1 957.6 326.5 965.1 328.2 973.0 329.2 976.6 331.0 978.9 333.6 967.7 334.3 966.8 335.7 956.9 337.4 943.7 337.8 948.8 340.0 924.0 340.7 932.0 342.5 924.2 342.6 930.7 344.5 936.0 345.0 941.1 347.6 949.3 347.8 947.5 349.9 932.9 350.2 923.4 352.0 928.5 353.1 925.5 354.9 953.6 355.7 958.9 357.2 964.0 357.8 965.9 359.8 963.5 360.8 962.0 361.7 974.1 363.9 982.0 363.9 982.2 365.9 985.5 368.5 999.4 369.0 998.2 370.4 1007.8 373.1 1018.9 373.4 1018.8 375.2 1017.9 377.1 1015.3 377.9 1011.2 379.6 994.0 379.7 992.9 381.8 992.3 382.2 992.3 384.3 1013.5 384.6 1013.5 386.6 1015.1 388.6 1015.7 389.4 1015.4 391.2 1015.3 393.5 1014.4 394.5 1012.6 395.3 1014.1 398.3 1010.2 398.6 1009.5 400.3 1012.3 402.1 1014.7 403.7 1013.8 404.3 1013.9 406.9 1016.4 409.6 1016.0 410.0 1015.2 411.5 1016.0 412.2 1016.1 413.7 1016.8 415.6 1016.4 417.3 1013.6 417.9 1013.6 420.4 1010.2 420.6 1010.4 423.3 1013.7 426.2 1014.6 426.5 1014.4 428.9 1014.9 431.7 1015.6 432.6 1014.7 434.4 1015.2 436.7 1014.8 437.7 1012.2 438.8 1012.0 441.4 1010.5 441.8 1008.9 443.6 1011.6 445.5 1014.1 446.9 1014.2 447.8 1015.9 450.7 1015.6 451.0 1015.2 452.6 1016.8 455.1 1014.6 457.4 1015.6 459.1 1013.1 459.8 1013.9 461.8 1025.1 462.2 1033.8 463.2 1007.5 463.6 939.3 463.6 939.3 464.2 908.7 464.8 899.6 465.3 869.2 466.5 806.8 466.9 799.3 467.7 777.4 469.3 804.5 469.4 820.4 471.4 835.9 471.7 841.0 473.5 860.9 474.4 855.1 475.0 869.3 476.0 871.4 477.5 884.9 478.0 894.1 479.1 904.0 479.8 901.0 481.2 902.3 481.7 911.5 483.6 915.4 483.7 916.8 485.6 901.8 485.6 895.9 488.1 917.7 488.7 923.5 490.5 963.2 490.7 959.7 491.8 1012.1 492.8 1020.7 493.5 1017.4 496.4 1019.0 496.9 1019.0 499.4 1023.0 499.9 1030.7 500.9 1009.0 501.4 974.8 501.5 961.7 502.0 960.4 503.9 918.1 504.4 898.9 506.0 891.1 506.0 886.7 508.5 896.0 509.1 888.2 511.0 867.7 513.8 889.0 514.2 888.9 516.4 866.4 518.5 862.3 519.3 871.2 520.8 895.6 522.4 905.7 523.0 926.0 523.3 899.9 523.4 899.9 523.6 917.8 524.4 949.0 525.1 950.7 526.4 948.3 526.9 942.9 528.9 943.1 529.2 956.0 530.9 985.2 531.1 997.0 532.1 1029.3 533.6 1022.2 533.8 1021.6 535.9 1019.9 537.8 1019.1 539.8 1017.7 540.7 1018.2 541.9 1014.9 542.7 1010.7 544.0 1012.2 544.8 1009.8 546.4 1017.7 546.8 1018.6 548.8 1018.6 550.9 1015.3 552.9 1015.2 553.5 1015.1 555.6 1014.8 558.4 1015.0 559.1 1015.0 561.4 1015.4 564.1 1013.5 566.4 1017.9 567.2 1017.0 568.8 1018.9 571.3 1021.4 573.2 1023.3 573.3 1023.3 575.5 1023.6 577.9 1024.8 579.9 1024.1 581.8 1025.3 583.5 1024.4 584.6 1025.6 586.8 1025.0 589.3 1024.6 592.2 1024.7 594.7 1025.9 596.8 1026.2 599.8 1024.9 602.1 1025.0 603.9 1025.4 603.9 1025.0 606.5 1024.3 608.4 1024.7 610.6 1023.1 612.1 1022.4 613.4 1021.1 615.1 1018.5 616.0 1019.8 617.8 1022.8 618.2 1023.4 620.2 1022.7 622.5 1022.5 624.3 1021.4 624.9 1022.0 626.9 1020.1 628.4 1017.4 629.4 1019.9 631.3 1019.7 633.4 1022.5 634.5 1022.4 635.7 1023.6 638.6 1023.6 640.5 1022.4 643.2 1022.9 645.2 1022.5 646.7 1022.0 647.7 1022.2 650.0 1023.5 652.4 1024.1 655.1 1024.8 656.9 1024.4 657.3 1025.1 659.3 1024.5 661.2 1025.0 663.1 1024.4 665.9 1025.6 668.5 1025.5 669.2 1024.4 671.5 1024.7 674.1 1026.0 675.9 1025.0 678.5 1025.7 681.2 1025.5 681.4 1025.4 683.9 1024.5 686.3 1023.9 688.5 1023.4 689.6 1022.4 690.0 1022.4 690.9 1022.3 693.6 1022.3 695.8 1021.3 698.2 1021.5 700.2 1020.3 700.6 1021.3 703.5 1021.9 706.3 1022.8 709.2 1024.4 710.4 1024.4 712.0 1024.0 714.2 1024.2 716.2 1023.6 718.5 1022.4 718.6 1022.8 720.7 1018.0 722.2 1016.2 723.1 1018.1 725.7 1023.6 725.7 1023.4 728.6 1024.0 731.1 1024.6 733.9 1025.7 735.8 1025.7 736.9 1025.4 738.0 1025.2 741.0 1025.6 743.0 1024.7 744.0 1023.4 745.3 1022.4 747.1 1020.7 747.5 1020.3 749.1 1022.4 751.2 1025.4 751.9 1026.1 754.9 1025.5 757.5 1026.4 759.4 1025.6 761.6 1025.5 763.4 1025.4 763.7 1025.4 766.3 1025.1 768.9 1024.2 771.2 1023.8 771.6 1023.4 773.7 1023.0 775.6 1021.0 778.0 1019.5 779.7 1018.3 781.0 1019.1 783.7 1019.2 785.6 1020.0 785.8 1020.6 788.0 1007.5 788.9 997.1 790.7 965.5 790.9 961.1 792.8 954.9 793.6 947.1 795.7 968.0 796.0 965.5 798.0 982.2 798.1 981.9 800.7 1013.1 801.1 1015.0 802.9 1019.0 804.2 1023.2 805.9 1022.6 806.6 1025.4 807.9 982.1 808.7 976.8 810.3 948.9 811.2 947.0 813.1 949.4 814.4 949.0 815.5 940.2 816.0 927.9 817.3 940.2 819.8 936.3 820.5 931.1 822.7 925.1 823.6 910.1 824.7 910.9 827.1 943.2 828.7 926.9 829.5 899.9 829.7 883.8 830.7 879.5 831.8 880.4 832.1 876.9 834.4 888.7 835.2 889.4 837.3 880.4 837.8 874.4 840.0 883.3 840.9 898.3 842.4 896.3 844.0 881.0 845.3 855.5 846.0 834.9 847.5 830.1 849.1 826.4 850.2 829.7 852.8 863.4 853.1 864.0 855.5 883.5 855.6 883.2 857.2 840.3 858.3 821.3 859.3 830.6 860.4 871.8 862.3 866.2 862.9 877.3 864.4 894.9 865.2 901.8 867.4 892.5 867.8 893.9 870.5 880.2 870.8 885.4 872.5 895.8 873.4 907.8 874.6 909.8 875.2 913.8 877.5 921.8 877.6 915.6 880.2 935.7 880.7 927.6 881.7 904.7 883.1 891.0 883.1 887.6 885.6 888.9 886.8 889.2 888.4 883.9 890.2 891.8 890.9 881.7 893.2 884.3 893.9 875.0 894.5 890.0 895.8 898.7 896.0 897.6 897.0 912.9 898.0 935.5 898.4 934.8 901.3 941.5 903.1 927.2 904.1 940.8 906.0 945.5 906.2 945.8 908.8 952.1 910.2 953.6 911.5 952.2 913.6 963.7 914.3 961.1 916.3 976.5 916.4 973.7 918.8 971.2 920.8 969.8 923.6 971.2 924.5 964.8 925.5 969.4 928.1 972.2 928.6 972.0 930.4 968.1 931.7 966.3 932.5 974.5 934.7 985.2 935.0 985.9 937.3 991.5 939.4 998.5 939.8 997.9 942.3 988.2 944.2 983.2 944.9 973.6 946.0 966.9 948.0 959.5 948.4 956.1 950.0 938.8 951.2 939.1 952.0 934.9 953.8 960.1 954.1 963.0 956.5 971.2 957.1 975.4 958.9 964.9 959.2 959.7 961.5 943.1 962.2 939.6 963.7 960.9 965.3 957.5 965.8 956.6 968.2 961.2 968.4 961.2 970.1 962.8 972.0 952.0 972.4 951.4 974.7 967.3 976.5 967.5 976.7 971.0 978.6 980.0 979.4 984.1 981.6 1000.6 982.0 995.4 982.1 997.4 984.1 1008.9 984.4 1009.1 985.7 1005.3 987.0 1004.9 988.2 1002.2 988.8 1002.1 989.8 1008.1 991.2 1012.4 992.6 1009.5 994.6 1008.6 996.3 1001.2 996.5 1001.7 998.8 1009.7 1000.4 1011.7 1001.2 1011.9 1003.3 1010.8 1005.1 1012.5 1006.5 1009.2 1007.6 1008.9 1010.6 1012.3 1011.6 1011.1 1012.6 995.0 1012.8 997.9 1015.2 997.8 1017.5 998.0 1017.7 998.2 1019.8 1014.6 1019.8 1015.3 1022.7 1015.6 1023.8 1016.2 1024.8 1016.7 1027.4 1008.1 1027.9 1007.5 1029.8 1013.0 1032.3 1010.6 1033.0 1010.7 1035.2 1012.0 1037.0 1011.1 1037.1 1010.9 1039.1 1001.7 1039.8 1003.4 1041.2 996.9 1042.0 999.0 1044.6 1004.6 1046.3 1007.2 1047.3 1013.0 1048.3 1018.9 1049.9 1016.8 1052.2 1017.0 1055.0 1017.3 1055.5 1017.0 1056.9 1018.4 1059.5 1017.1 1061.6 1016.2 1061.7 1016.2 1064.2 1017.3 1067.0 1015.8 1067.7 1014.4 1069.7 1015.2 1072.3 1015.9 1072.8 1013.5 1074.5 1015.4 1076.6 1014.2 1078.9 1014.5 1079.9 1014.3 1081.0 1015.7 1083.1 1016.9 1084.0 1017.3 1086.1 1017.9 1088.0 1020.1 1090.8 1017.9 1091.1 1016.8 1093.0 1017.8 1095.3 1019.1 1097.5 1018.4 1098.3 1018.3 1099.3 1020.1 1101.7 1020.0 1102.4 1019.3 1103.7 1018.7 1106.0 1017.1 1108.2 1017.3 1108.5 1015.3 1111.0 1019.4 1113.6 1021.3 1114.0 1022.2 1116.3 1020.7 1118.9 1019.5 1120.7 1020.3 1121.8 1007.1 1122.3 997.1 1124.0 992.0 1125.8 985.3 1125.9 987.5 1128.0 982.2 1129.9 980.3 1130.0 980.6 1130.5 948.4 1132.6 952.2 1132.9 943.5 1134.9 956.7 1136.0 957.0 1137.1 972.2 1138.0 979.6 1139.8 974.2 1141.1 974.9 1141.9 978.2 1144.7 976.3 1145.2 977.3 1147.2 998.8 1147.2 998.8 1149.5 990.2 1151.3 982.1 1152.3 982.7 1153.7 970.2 1154.5 975.6 1157.0 986.8 1157.4 990.1 1159.5 998.6 1160.3 979.8 1160.5 964.5 1162.7 955.4 1163.5 950.5 1165.3 964.7 1166.0 963.1 1167.2 992.1 1168.3 999.1 1169.7 1004.1 1171.0 1003.6 1172.7 1005.1 1173.7 1013.8 1174.7 1020.7 1176.5 1019.8 1179.4 1020.6 1180.9 1018.9 1182.1 1018.1 1185.1 1018.8 1186.0 1017.2 1187.2 1016.5 1189.0 1015.6 1189.8 1013.8 1192.1 1010.0 1192.4 976.1 1192.5 973.2 1194.6 960.6 1195.5 958.0 1196.9 974.5 1198.2 979.4 1198.9 986.0 1200.2 988.0 1201.9 983.0 1203.3 970.1 1203.7 939.4 1204.1 940.7 1205.7 927.8 1206.5 937.7 1208.0 948.7 1208.8 995.3 1209.3 995.6 1211.4 992.7 1212.5 992.6 1214.3 988.3 1215.5 976.2 1216.3 974.0 1218.1 959.5 1218.2 958.3 1220.3 970.9 1221.7 972.3 1222.6 976.0 1225.5 982.1 1226.7 978.8 1228.3 976.8 1230.4 974.6 1231.0 980.3 1233.4 987.4 1233.9 984.0 1235.8 987.1 1237.9 991.7 1238.6 988.0 1240.7 1009.4 1241.0 1008.4 1243.0 1017.3 1243.1 1017.1 1245.1 1013.4 1247.1 1011.4 1247.7 1012.5 1249.6 1017.2 1251.2 1019.6 1251.8 1019.3 1254.7 1018.1 1256.3 1020.3 1256.7 1017.2 1258.4 1001.8 1258.6 1002.8 1259.4 985.3 1260.7 990.2 1262.4 990.7 1262.8 996.1 1263.9 1008.6 1265.1 1011.2 1266.5 1016.3 1267.2 1014.5 1269.4 1008.8 1269.6 1007.7 1271.5 1005.9 1272.6 1005.0 1273.6 1011.3 1275.7 1014.7 1276.1 1014.8 1278.3 1017.0 1280.0 1015.2 1280.6 1015.3 1283.1 1015.8 1283.3 1016.3 1285.1 1015.3 1286.2 1015.7 1287.1 1014.2 1288.2 1006.5 1289.9 1006.4 1291.3 1005.3 1292.3 1009.8 1294.4 1013.1 1295.0 1012.9 1297.0 1011.3 1299.4 1005.7 1299.5 1005.4 1300.9 995.5 1302.2 1000.2 1303.5 999.7 1304.4 1008.9 1305.6 1014.1 1307.1 1010.5 1308.6 1004.0 1309.7 1004.7 1310.7 1002.7 1311.9 1011.5 1312.7 1015.6 1314.9 1015.3 1317.2 1016.3 1318.8 1014.9 1319.6 1015.3 1322.1 1017.9 1324.3 1018.3 1327.0 1018.3 1327.1 1019.9 1328.6 1003.7 1329.6 1000.6 1331.1 998.5 1332.1 1005.9 1333.1 1010.5 1334.6 1010.9 1337.5 1017.1 1338.2 1016.1 1340.2 988.9 1340.5 991.7 1342.7 983.9 1343.3 989.9 1345.3 1007.1 1345.7 1006.7 1348.0 998.7 1349.4 991.8 1350.4 990.6 1351.5 987.7 1352.3 997.0 1353.5 1005.3 1354.2 1002.3 1356.6 992.9 1357.2 978.9 1358.0 948.0 1359.1 944.5 1360.0 942.4 1362.1 973.3 1362.7 972.1 1364.7 965.6 1365.7 965.2 1367.6 978.1 1368.8 985.7 1369.5 975.9 1370.8 959.0 1371.6 929.7 1371.8 925.7 1374.4 917.3 1374.9 922.3 1376.2 920.3 1378.0 900.7 1378.1 909.9 1380.4 891.3 1381.0 882.1 1382.4 888.3 1384.1 898.6 1384.3 903.5 1386.1 918.5 1386.9 916.5 1388.9 901.1 1389.2 899.1 1391.8 903.3 1392.2 903.5 1394.3 931.6 1394.4 935.5 1396.3 920.8 1398.4 918.8 1399.1 921.1 1401.2 915.6 1402.4 913.2 1403.6 922.1 1405.5 930.1 1406.1 932.3 1408.0 929.7 1408.6 931.1 1410.4 929.4 1411.6 922.5 1412.3 922.7 1414.4 909.5 1416.7 917.5 1417.3 923.4 1419.8 929.9 1420.0 933.7 1422.5 941.0 1424.9 942.3 1425.1 940.4 1425.9 901.8 1427.9 888.0 1428.5 878.3 1429.9 892.3 1431.0 892.4 1432.3 919.0 1433.0 927.3 1434.3 930.5 1436.2 934.9 1437.1 936.0 1438.1 945.1 1440.2 937.4 1441.2 926.7 1442.0 924.7 1444.1 925.0 1445.3 920.0 1446.4 918.6 1448.3 911.1 1448.9 930.3 1450.4 940.3 1451.7 957.9 1453.4 968.2 1454.6 964.5 1457.3 949.8 1457.5 949.0 1459.5 926.7 1459.7 924.3 1462.6 913.2 1463.2 911.6 1464.6 915.4 L1464.6 1019.5 1463.2 1020.4 1462.6 1020.0 1459.7 1020.8 1457.3 1021.8 1454.6 1024.4 1454.4 1024.4 1451.7 1022.3 1449.3 1020.2 1448.9 1017.5 1446.4 1011.2 1444.1 1003.0 1443.2 1008.2 1442.0 1010.7 1440.2 1015.9 1438.1 1022.9 1438.1 1025.4 1436.2 1018.7 1434.3 1020.2 1432.3 1020.6 1432.0 1020.4 1430.0 1008.4 1429.9 1007.9 1427.9 1006.4 1425.1 1007.6 1422.8 1010.3 1422.5 1010.6 1420.0 1008.2 1417.3 1015.8 1414.7 1021.3 1414.4 1017.5 1412.3 1016.3 1410.4 1011.3 1409.6 1012.4 1408.0 1013.6 1406.1 1013.3 1404.5 1023.4 1403.6 1012.6 1401.4 1004.6 1401.2 996.2 1399.1 1007.0 1396.3 1021.4 1396.3 1012.1 1394.4 1019.8 1391.8 1018.3 1388.9 1017.5 1388.2 1018.4 1386.9 1014.7 1384.3 1005.3 1382.4 1003.2 1382.0 1012.4 1380.4 1010.4 1379.0 1024.4 1378.1 1020.7 1376.2 1024.6 1375.9 1026.5 1374.4 1022.9 1371.6 1019.1 1369.5 1025.5 1367.8 1027.5 1367.6 1026.4 1364.7 1027.2 1362.1 1027.2 1359.1 1027.5 1357.2 1028.7 1354.2 1029.4 1353.5 1029.6 1352.3 1026.5 1350.4 1029.2 1348.0 1028.0 1345.7 1029.5 1343.3 1025.8 1340.5 1028.2 1337.5 1028.8 1335.1 1029.6 1334.6 1029.1 1332.1 1029.5 1329.6 1029.5 1327.1 1028.3 1324.3 1029.5 1322.1 1029.3 1319.6 1028.2 1317.2 1029.2 1314.9 1028.3 1314.7 1029.6 1311.9 1029.5 1309.7 1029.4 1307.1 1027.9 1304.4 1028.9 1302.2 1029.3 1299.4 1027.9 1297.0 1028.8 1295.0 1029.6 1294.4 1029.6 1292.3 1028.1 1289.9 1029.0 1287.1 1029.2 1285.1 1030.3 1283.3 1029.3 1283.1 1030.6 1280.6 1029.9 1280.0 1030.0 1278.3 1029.3 1276.1 1029.2 1273.6 1028.8 1271.5 1028.1 1269.4 1029.5 1267.2 1028.7 1265.5 1030.0 1265.1 1030.0 1262.8 1026.6 1260.7 1027.9 1258.6 1029.8 1256.7 1029.7 1254.7 1029.7 1251.8 1029.1 1249.6 1029.9 1247.7 1029.6 1245.1 1028.9 1243.0 1029.9 1241.0 1029.9 1240.7 1029.5 1237.9 1027.8 1235.8 1026.6 1233.4 1025.1 1232.9 1024.9 1231.0 1022.5 1228.3 1025.1 1225.5 1024.4 1224.7 1025.9 1222.6 1026.1 1220.3 1027.6 1218.1 1025.6 1216.3 1027.5 1214.5 1029.9 1214.3 1029.3 1211.4 1026.0 1209.3 1024.7 1206.5 1020.4 1206.4 1023.9 1204.1 1024.1 1201.9 1024.4 1198.9 1022.2 1196.9 1024.3 1196.2 1026.9 1194.6 1026.3 1192.4 1028.0 1192.1 1031.0 1189.8 1030.4 1187.2 1030.6 1185.1 1030.6 1182.1 1030.6 1179.4 1031.0 1176.5 1030.9 1173.7 1031.0 1173.7 1030.2 1171.0 1027.8 1168.3 1024.6 1167.6 1024.9 1165.3 1020.5 1162.7 1026.0 1160.3 1027.2 1159.5 1027.9 1157.4 1023.3 1155.4 1022.0 1154.5 1018.6 1152.3 1020.4 1149.5 1021.9 1147.2 1021.9 1147.2 1022.8 1144.7 1023.0 1141.9 1023.3 1139.8 1021.7 1137.1 1022.3 1137.0 1023.8 1134.9 1023.2 1132.6 1017.5 1130.0 1021.0 1128.9 1022.0 1128.0 1022.7 1125.9 1024.3 1124.0 1026.3 1122.7 1030.0 1121.8 1028.7 1118.9 1029.4 1116.3 1030.3 1114.0 1030.3 1111.0 1029.3 1108.2 1029.2 1106.0 1030.8 1103.7 1030.8 1102.4 1031.0 1101.7 1029.8 1099.3 1029.9 1097.5 1029.8 1095.3 1030.5 1093.0 1030.1 1090.8 1029.2 1088.0 1030.1 1086.1 1030.0 1083.1 1029.5 1082.0 1030.0 1081.0 1029.9 1078.9 1029.9 1076.6 1029.5 1074.5 1029.6 1072.3 1029.8 1069.7 1029.9 1067.0 1028.6 1064.2 1029.9 1061.7 1029.0 1061.6 1030.0 1059.5 1028.7 1056.9 1029.4 1055.0 1027.9 1052.2 1028.0 1049.9 1027.7 1047.3 1028.4 1044.6 1027.8 1042.0 1027.8 1041.2 1027.9 1039.8 1027.8 1037.0 1027.1 1035.2 1028.1 1032.3 1028.3 1029.8 1028.5 1027.4 1028.6 1024.8 1028.7 1022.7 1027.9 1020.8 1028.9 1019.8 1028.9 1017.5 1027.3 1015.2 1028.5 1012.8 1026.7 1010.6 1028.8 1007.6 1028.0 1005.1 1027.3 1003.3 1027.7 1001.2 1028.9 1000.4 1028.9 998.8 1028.3 996.5 1027.2 994.6 1027.4 992.6 1028.9 989.8 1028.7 988.8 1028.9 987.0 1028.1 984.4 1026.6 983.7 1026.9 982.1 1027.1 979.4 1027.5 976.7 1023.5 976.5 1027.9 974.7 1022.5 972.0 1018.2 971.4 1020.9 970.1 1020.8 968.2 1021.3 965.8 1021.9 963.7 1018.5 961.5 1021.1 961.2 1022.8 958.9 1019.1 956.5 1021.5 953.8 1021.9 951.2 1017.8 951.0 1022.8 948.4 1023.4 946.0 1024.2 944.2 1022.8 942.3 1024.1 940.8 1027.9 939.4 1026.9 937.3 1024.2 935.0 1023.8 932.5 1018.0 930.6 1016.1 930.4 1012.8 928.1 1013.6 925.5 1012.7 923.6 1015.1 920.8 1014.9 920.4 1016.5 918.8 1015.2 916.3 1016.7 913.6 1010.8 911.5 1009.1 910.2 1012.5 908.8 1011.1 906.0 1010.2 904.1 1010.4 901.3 1012.4 900.0 1015.4 898.4 1009.1 895.8 1001.4 893.2 996.1 890.2 1004.4 889.8 1006.1 888.4 1001.0 885.6 999.1 883.1 996.1 880.2 1012.2 879.7 1012.2 877.5 1003.3 875.2 999.2 873.4 1003.6 870.8 993.6 869.5 1000.8 867.8 993.2 865.2 994.0 863.3 992.4 862.9 991.3 860.4 993.0 858.3 966.3 857.2 988.2 855.5 981.9 853.1 978.8 852.8 973.2 850.2 959.9 849.1 960.6 847.5 955.8 845.3 976.4 842.4 985.5 841.9 994.7 840.0 992.8 837.3 995.5 836.8 998.4 834.4 999.1 831.8 998.5 830.7 1000.7 829.5 995.4 827.1 1008.4 825.6 1007.8 824.7 999.3 822.7 993.2 822.6 999.6 819.8 1005.1 818.5 1018.4 817.3 1010.6 815.5 1005.9 814.4 1008.8 813.1 1008.9 811.2 1008.3 810.3 1009.8 808.7 1017.7 807.3 1030.0 805.9 1029.7 802.9 1028.2 800.7 1027.9 800.1 1028.9 798.0 1029.0 795.7 1028.9 792.8 1029.0 790.7 1024.6 788.0 1029.7 787.9 1029.9 785.6 1029.3 783.7 1029.5 781.0 1029.5 778.0 1030.5 775.6 1030.6 773.7 1029.8 771.6 1031.0 771.2 1030.0 768.9 1030.3 766.3 1031.1 763.7 1031.0 761.6 1030.9 759.4 1030.9 757.5 1031.3 754.9 1031.2 751.9 1030.4 751.2 1031.4 749.1 1031.4 747.1 1031.4 745.3 1031.4 743.0 1031.1 741.0 1031.4 738.0 1031.2 735.8 1030.7 733.9 1031.2 731.1 1031.4 730.8 1031.4 728.6 1031.1 725.7 1030.6 723.1 1030.4 720.7 1030.9 718.6 1030.6 716.2 1030.7 714.2 1030.5 712.0 1031.0 710.4 1031.0 709.2 1030.7 706.3 1030.5 703.5 1030.4 700.6 1030.5 698.2 1030.0 695.8 1029.8 693.6 1030.1 690.9 1030.0 690.0 1030.0 688.5 1029.9 686.3 1030.8 685.5 1031.0 683.9 1030.3 681.2 1030.8 678.5 1030.1 675.9 1031.1 674.1 1030.5 671.5 1030.5 668.5 1030.2 665.9 1031.1 663.1 1031.3 661.2 1030.8 659.3 1031.0 657.3 1030.8 655.1 1030.7 654.9 1031.4 652.4 1030.4 650.0 1031.1 647.7 1031.0 645.2 1030.8 643.2 1030.1 640.5 1030.6 638.6 1030.2 635.7 1029.5 633.4 1029.6 631.3 1029.9 629.4 1029.6 626.9 1029.7 624.9 1029.6 624.3 1030.0 622.5 1029.2 620.2 1030.0 617.8 1030.2 616.0 1029.8 613.4 1030.0 610.6 1030.3 608.4 1029.9 606.5 1030.0 603.9 1031.0 603.9 1031.0 602.1 1030.6 599.8 1030.9 596.8 1030.4 594.7 1030.6 592.2 1030.8 589.3 1030.4 586.8 1030.5 584.6 1030.8 581.8 1030.9 579.9 1030.8 577.9 1030.2 575.5 1031.0 573.3 1031.0 573.2 1030.2 571.3 1029.8 568.8 1029.8 566.4 1029.0 564.1 1028.2 563.1 1029.0 561.4 1028.1 558.4 1028.1 555.6 1028.2 553.5 1028.7 550.9 1028.9 548.8 1028.8 546.4 1028.6 544.0 1028.9 542.7 1028.9 541.9 1028.8 539.8 1028.1 537.8 1028.4 535.9 1029.1 533.8 1027.8 531.5 1028.8 531.1 1028.1 529.2 991.4 526.9 972.8 526.4 981.9 525.1 980.6 523.3 964.5 522.4 961.5 520.8 942.7 518.5 912.7 518.3 910.7 516.4 915.3 513.8 936.6 513.2 933.9 511.0 919.3 510.1 925.8 508.5 942.0 506.0 942.6 506.0 939.6 503.9 965.1 502.0 1017.9 501.5 1021.4 499.4 1021.7 496.4 1023.5 495.8 1024.3 493.5 1021.4 490.5 999.0 488.1 957.6 487.7 953.4 485.6 939.1 483.7 948.4 481.7 947.5 481.6 949.3 479.8 940.1 478.0 940.3 476.0 916.2 473.5 917.4 473.4 917.6 471.7 897.0 470.4 888.9 469.4 873.9 467.3 851.3 466.9 859.8 465.3 940.0 464.8 963.1 461.8 1025.1 461.2 1027.5 459.8 1028.8 457.4 1027.6 455.1 1027.5 452.6 1027.9 450.7 1027.5 447.8 1027.3 445.5 1027.1 443.6 1026.5 441.4 1027.0 440.8 1026.9 438.8 1026.8 436.7 1026.9 434.4 1026.6 431.7 1027.1 428.9 1027.0 426.2 1027.1 423.3 1027.8 420.6 1026.9 420.4 1027.9 417.9 1026.9 415.6 1027.2 413.7 1028.5 411.5 1028.7 410.0 1028.9 409.6 1028.0 406.9 1028.2 404.3 1027.8 402.1 1027.8 400.3 1027.4 398.3 1028.0 395.3 1028.3 393.5 1028.3 391.2 1027.6 388.6 1027.1 386.6 1027.9 385.3 1027.9 384.6 1026.6 381.8 1028.1 379.7 1026.0 377.9 1027.4 375.2 1028.7 373.4 1028.6 373.1 1028.9 370.4 1026.0 368.5 1025.1 365.9 1026.1 363.9 1024.6 362.9 1024.9 361.7 1024.9 359.8 1024.4 357.2 1024.7 354.9 1024.0 353.7 1024.9 352.0 1024.7 349.9 1019.6 347.8 1021.9 345.5 1024.8 345.0 1022.0 342.6 1022.2 340.7 1013.5 338.4 1018.8 337.8 1013.1 335.7 1019.1 333.6 1021.6 331.0 1021.0 330.2 1023.8 329.2 1022.7 326.5 1018.8 324.4 1018.6 322.1 1016.8 321.6 1014.9 318.9 1017.9 316.1 1021.1 314.2 1019.3 313.9 1022.8 311.7 1017.2 308.7 1019.7 306.3 1017.7 304.3 1013.0 303.7 1016.7 302.1 1010.5 299.7 1010.7 299.6 1002.7 297.0 1006.1 294.6 1012.2 293.5 1012.7 292.2 1008.4 289.5 1016.6 286.6 1015.3 285.4 1020.7 284.4 1020.3 281.5 1020.3 279.4 1019.1 276.5 1015.7 274.5 1020.7 273.1 1020.8 271.9 1019.3 269.7 1019.3 267.6 1021.4 265.2 1022.2 265.0 1022.8 262.6 1022.6 259.7 1025.4 257.2 1027.5 254.8 1029.3 253.8 1030.0 251.9 1027.5 249.1 1027.3 246.9 1025.6 244.1 1020.5 241.7 1025.0 240.5 1024.9 238.8 1024.4 236.4 1022.4 233.9 1021.0 232.4 1022.8 231.6 1022.8 228.9 1023.4 226.2 1023.7 224.2 1024.2 221.3 1021.0 221.1 1024.8 218.3 1020.0 216.1 1012.6 216.0 1018.8 213.3 1021.4 210.6 1023.3 207.9 1026.8 207.7 1026.8 205.0 1024.2 202.3 1022.0 199.4 1012.2 197.4 1016.6 195.6 1016.8 194.8 1014.7 191.8 1016.1 189.4 1020.7 187.4 1020.9 185.2 1023.3 183.4 1026.8 183.4 1024.9 181.3 1023.6 178.8 1026.1 176.4 1019.6 173.5 1022.4 171.3 1024.9 171.2 1024.9 169.1 1021.9 166.7 1023.5 164.9 1018.0 163.1 1017.2 160.9 1020.1 158.6 1021.2 156.9 1020.8 156.1 1021.1 153.2 1021.9 150.2 1023.0 147.7 1027.9 147.5 1027.5 145.3 1027.5 143.0 1025.6 141.0 1023.7 138.5 1025.9 135.9 1024.0 133.4 1023.4 131.2 1023.6 130.4 1024.9 128.6 1024.5 126.0 1020.3 123.2 1022.6 121.3 1023.9 119.4 1024.0 117.1 1023.8 116.4 1023.8 113.5 1023.4Z" fill="#1f77b4" stroke="#1f77b4" stroke-width="2.6" stroke-linejoin="round"/><path d="M116.0 981.1V978.3M120.0 963.5V940.2M122.3 919.0V913.0M126.0 960.2V956.5M128.7 964.8V949.0M130.7 975.3V959.0M135.0 987.7V973.3M138.5 976.0V968.3M141.6 969.2V960.7M145.4 981.2V974.4M148.7 987.4V969.2M152.7 918.7V899.7M154.5 879.6V871.6M158.3 944.9V915.4M162.0 970.6V950.0M164.6 960.9V952.6M168.0 975.7V960.7M171.3 939.0V920.0M173.6 899.6V864.4M176.2 910.6V888.5M179.5 949.3V931.8M182.8 975.8V962.6M186.0 987.3V979.9M188.5 984.1V971.0M190.6 966.3V948.4M193.3 883.2V834.6M196.1 876.6V846.8M200.0 919.4V882.7M202.9 928.3V909.8M207.0 966.9V945.4M209.5 959.2V946.9M212.2 969.5V956.6M214.5 929.1V912.2M217.6 921.4V903.7M220.8 955.5V938.5M223.6 968.9V956.8M226.7 975.1V964.4M228.9 976.2V971.2M232.0 986.9V982.7M235.8 974.7V964.1M238.1 968.7V953.7M240.1 965.2V947.9M243.8 960.4V954.0M245.4 979.6V966.1M248.7 995.5V987.0M252.3 992.4V986.2M254.5 994.4V984.4M257.1 986.6V984.0M260.4 993.1V984.0M264.5 988.4V985.5M265.8 984.7V979.7M269.0 986.0V978.2M271.8 978.9V964.5M274.9 965.3V949.3M277.2 924.4V903.8M281.4 955.2V940.0M283.9 964.8V954.7M286.8 946.7V923.0M289.0 936.0V920.6M292.1 924.9V903.3M295.3 905.2V878.1M298.7 914.0V896.9M301.0 909.0V896.4M305.1 920.1V913.7M307.2 940.9V938.4M309.1 959.1V953.6M312.9 977.2V961.5M315.8 969.5V966.9M318.0 933.5V914.7M321.5 919.5V909.9M324.8 951.5V941.8M327.4 967.4V957.6M330.9 973.5V960.5M333.8 966.5V953.7M337.7 941.2V909.2M340.7 923.2V902.3M342.5 927.3V917.9M345.5 941.6V936.4M348.6 934.9V916.1M352.5 924.1V898.7M356.0 958.6V946.5M359.6 959.8V953.2M361.2 972.5V954.5M364.2 982.2V980.2M366.3 982.9V981.1M368.4 994.7V989.1M370.1 1007.3V1001.9M373.8 1017.7V1016.6M377.4 1015.0V1013.3M380.5 992.1V989.8M383.3 1005.7V999.5M386.6 1014.1V1012.5M392.0 1014.9V1013.5M395.0 1011.8V1010.4M398.5 1009.5V1006.9M402.3 1013.6V1012.1M416.1 1014.4V1012.6M417.9 1011.6V1010.3M421.2 1011.0V1009.3M424.1 1013.9V1012.4M433.3 1014.6V1014.7M435.3 1014.1V1012.9M438.1 1011.9V1010.5M441.9 1008.8V1006.9M444.8 1011.5V1010.3M447.4 1013.9V1012.6M544.5 1009.7V1006.1M546.7 1018.3V1016.3M548.7 1016.7V1016.6M560.5 1015.1V1013.9M566.6 1016.5V1015.4M785.6 1019.2V1018.9M790.2 983.6V967.3M791.7 957.4V939.0M794.9 952.2V944.0M797.3 973.3V957.9M799.4 999.2V990.0M801.4 1015.9V1013.2M932.6 969.2V963.2M934.7 985.4V979.3M938.8 994.4V985.6M941.4 992.9V982.2M944.3 976.1V961.9M946.2 963.6V955.6M950.0 937.6V922.5M954.2 964.1V954.6M956.5 969.5V959.6M959.1 958.4V927.7M961.8 940.8V925.8M965.5 956.7V947.2M967.7 960.0V940.3M969.9 957.3V945.5M974.2 959.5V940.8M977.3 969.2V959.3M980.5 991.0V984.3M983.6 1001.7V996.1M986.5 1003.8V999.5M990.3 1008.8V1006.5M992.5 1008.9V1005.9M995.6 1002.4V998.5M998.9 1010.2V1005.5M1002.0 1010.3V1008.1M1004.8 1009.9V1007.2M1007.8 1008.9V1006.1M1011.6 1008.7V1003.2M1014.6 994.2V988.0M1016.8 996.3V993.7M1019.2 1012.3V1007.4M1023.6 1015.0V1012.5M1025.7 1012.0V1008.4M1029.6 1010.3V1006.3M1032.5 1010.2V1009.1M1035.6 1010.8V1008.9M1038.5 1003.2V1000.6M1041.3 997.8V993.2M1044.1 1003.6V997.7M1047.2 1009.9V1004.3M1048.7 1018.2V1017.1M1055.0 1016.7V1015.7M1063.8 1016.7V1016.4M1068.9 1015.0V1013.9M1072.2 1013.7V1011.9M1075.9 1012.6V1011.2M1078.7 1013.8V1012.0M1081.1 1015.3V1013.8M1121.2 1015.9V1013.2M1123.1 993.2V988.3M1127.5 980.7V972.8M1129.3 986.4V969.8M1132.3 945.2V924.1M1135.7 954.4V941.2M1138.8 977.6V959.0M1142.1 975.6V961.2M1145.0 976.1V963.4M1149.1 992.0V988.9M1151.1 981.8V969.1M1153.6 971.0V966.2M1156.3 982.3V966.6M1159.8 998.3V984.0M1161.8 956.8V941.3M1165.5 960.4V951.2M1168.8 997.3V988.0M1171.6 1003.9V997.4M1175.4 1018.9V1017.5M1178.6 1019.5V1018.4M1189.1 1015.3V1010.8M1192.5 994.6V972.6M1194.6 961.6V953.5M1197.0 969.5V967.1M1199.4 983.3V968.5M1202.3 973.8V962.4M1206.2 937.3V913.3M1210.3 991.1V985.6M1214.1 988.1V966.6M1215.9 971.4V964.6M1219.6 964.0V951.5M1221.2 971.8V966.4M1223.9 976.1V972.5M1227.7 976.9V973.7M1230.5 974.3V964.0M1233.9 983.7V977.1M1238.1 986.5V975.0M1240.4 1005.9V994.9M1257.0 1015.8V1014.0M1259.1 985.0V975.6M1261.8 991.7V972.9M1265.1 1012.0V1008.1M1268.7 1009.6V1007.3M1271.0 1005.1V1002.8M1275.1 1012.1V1009.6M1277.8 1015.6V1014.3M1287.6 1011.0V1009.0M1291.3 1005.1V1002.6M1293.1 1010.3V1008.7M1296.7 1011.9V1007.1M1298.9 1005.7V1003.8M1301.5 995.6V993.0M1304.0 1001.4V991.3M1306.5 1009.7V1003.1M1310.3 1002.4V997.7M1313.6 1014.8V1011.4M1316.0 1014.6V1012.9M1318.7 1014.8V1013.2M1322.5 1016.3V1014.3M1325.5 1016.8V1015.6M1328.2 1003.4V1000.1M1331.6 1001.8V994.3M1334.1 1010.1V1007.4M1336.3 1013.4V1009.7M1339.7 995.9V983.8M1342.8 986.1V977.3M1345.4 1006.8V997.7M1347.7 997.0V993.0M1350.7 988.1V979.7M1355.0 998.6V981.8M1358.4 945.3V935.9M1361.4 961.4V935.1M1363.7 966.0V948.3M1367.0 971.5V952.8" stroke="#1f77b4" stroke-width="5.3" stroke-linecap="round" fill="none"/><path d="M124.7 890.1V925.7M141.2 949.3V968.6M155.3 848.3V877.7M164.0 933.0V953.8M174.8 859.6V888.5M193.6 822.8V883.2M195.6 822.8V876.6M201.8 871.8V905.8M209.9 926.8V958.6M216.4 875.9V900.1M228.3 959.5V973.2M241.5 933.0V957.6M256.8 981.9V986.8M279.7 888.1V928.1M296.6 867.7V910.8M303.7 888.1V912.7M323.1 897.3V925.7M340.0 891.2V923.7M353.1 890.1V925.2M360.8 945.2V961.7M382.2 979.9V992.0M398.6 1006.4V1009.2M420.4 1007.4V1009.9M441.8 1006.4V1008.6M544.8 1004.3V1009.5M793.6 927.9V946.8M816.0 871.8V927.6M837.8 794.5V874.1M849.1 768.0V826.1M859.3 766.0V830.3M870.5 817.0V879.9M886.8 797.6V888.9M924.5 941.1V964.5M931.7 945.2V966.0M952.0 898.3V934.6M962.2 916.7V939.3M972.4 935.0V951.1M982.0 986.0V995.1M988.2 994.1V1001.9M988.8 994.1V1001.8M996.3 997.2V1000.9M1012.6 986.0V994.7M1017.7 986.0V997.9M1027.9 1004.3V1007.2M1041.2 988.0V996.6M1072.8 1010.5V1013.2M1132.9 917.7V943.2M1145.2 959.5V977.0M1153.7 957.4V969.9M1163.5 928.9V950.2M1172.7 994.1V1004.8M1195.5 935.0V957.7M1205.7 909.5V927.5M1218.2 941.1V958.0M1230.4 962.5V974.3M1238.6 974.8V987.7M1262.4 964.6V990.4M1272.6 999.2V1004.7M1291.3 998.8V1005.0M1303.5 988.7V999.4M1310.7 992.7V1002.4M1331.1 989.7V998.2M1342.7 966.2V983.6M1351.5 978.5V987.4M1360.0 914.2V942.1M1365.7 943.8V964.9M1381.0 836.7V881.8M1389.2 853.0V898.8M1402.4 871.4V912.9M1416.7 880.5V917.2M1428.5 839.7V878.0M1448.3 873.4V910.8" stroke="#1f77b4" stroke-width="5.3" stroke-linecap="round" fill="none"/><path d="M116.4 983.1h0M119.4 971.9h0M121.3 947.5h0M126.0 960.4h0M131.2 985.3h0M135.9 988.9h0M138.5 979.9h0M147.5 989.7h0M156.1 893.2h0M160.9 976.6h0M164.9 972.5h0M166.7 983.7h0M173.5 901.5h0M185.2 988.4h0M187.4 988.0h0M197.4 919.0h0M199.4 922.1h0M202.3 913.4h0M205.0 963.0h0M210.6 964.5h0M221.3 961.1h0M226.2 977.0h0M228.9 982.3h0M231.6 987.8h0M236.4 974.9h0M244.1 965.5h0M246.9 994.1h0M257.2 993.2h0M262.6 997.2h0M269.7 987.0h0M271.9 978.5h0M274.5 970.5h0M276.5 937.4h0M281.5 964.9h0M284.4 969.4h0M286.6 954.9h0M289.5 942.7h0M297.0 919.1h0M299.6 910.7h0M306.3 941.7h0M308.7 958.0h0M311.7 976.9h0M314.2 979.3h0M318.9 933.4h0M321.6 921.5h0M324.4 954.3h0M326.5 966.4h0M329.2 977.9h0M331.0 980.2h0M335.7 958.3h0M337.8 950.2h0M347.8 948.8h0M349.9 934.2h0M357.2 965.4h0M359.8 964.9h0M363.9 983.5h0M373.4 1020.2h0M381.8 993.7h0M384.6 1014.9h0M386.6 1016.4h0M391.2 1016.6h0M393.5 1015.8h0M395.3 1015.4h0M398.3 1011.5h0M402.1 1016.0h0M404.3 1015.2h0M409.6 1017.4h0M411.5 1017.4h0M413.7 1018.2h0M420.6 1011.8h0M423.3 1015.1h0M426.2 1015.9h0M434.4 1016.5h0M441.4 1011.8h0M443.6 1013.0h0M445.5 1015.5h0M450.7 1017.0h0M455.1 1015.9h0M469.4 821.7h0M473.5 862.3h0M476.0 872.8h0M479.8 902.3h0M483.7 918.1h0M496.4 1020.4h0M506.0 892.4h0M508.5 897.4h0M516.4 867.7h0M518.5 863.7h0M523.3 901.2h0M533.8 1023.0h0M537.8 1020.5h0M539.8 1019.0h0M541.9 1016.2h0M546.4 1019.0h0M555.6 1016.1h0M558.4 1016.3h0M561.4 1016.8h0M564.1 1014.8h0M571.3 1022.7h0M575.5 1024.9h0M577.9 1026.1h0M579.9 1025.4h0M581.8 1026.6h0M584.6 1026.9h0M586.8 1026.3h0M594.7 1027.2h0M596.8 1027.5h0M599.8 1026.3h0M606.5 1025.6h0M608.4 1026.1h0M610.6 1024.5h0M613.4 1022.4h0M616.0 1021.1h0M620.2 1024.1h0M626.9 1021.4h0M629.4 1021.3h0M631.3 1021.0h0M633.4 1023.8h0M643.2 1024.3h0M645.2 1023.8h0M652.4 1025.5h0M657.3 1026.4h0M659.3 1025.9h0M665.9 1027.0h0M668.5 1026.8h0M674.1 1027.3h0M681.2 1026.8h0M683.9 1025.8h0M686.3 1025.2h0M693.6 1023.6h0M698.2 1022.8h0M700.6 1022.6h0M706.3 1024.2h0M714.2 1025.6h0M718.6 1024.1h0M720.7 1019.3h0M723.1 1019.4h0M725.7 1025.0h0M728.6 1025.3h0M733.9 1027.0h0M735.8 1027.0h0M738.0 1026.5h0M743.0 1026.1h0M745.3 1023.7h0M747.1 1022.1h0M749.1 1023.7h0M754.9 1026.8h0M757.5 1027.7h0M759.4 1026.9h0M761.6 1026.9h0M763.7 1026.8h0M768.9 1025.5h0M783.7 1020.5h0M788.0 1008.8h0M792.8 956.3h0M795.7 969.3h0M805.9 1023.9h0M808.7 978.1h0M813.1 950.8h0M822.7 926.5h0M834.4 890.1h0M837.3 881.8h0M847.5 831.5h0M852.8 864.7h0M855.5 884.9h0M862.9 878.7h0M865.2 903.2h0M867.8 895.3h0M870.8 886.7h0M873.4 909.2h0M875.2 915.2h0M877.5 923.2h0M883.1 892.3h0M895.8 900.1h0M898.4 936.1h0M906.0 946.9h0M908.8 953.5h0M913.6 965.1h0M918.8 972.6h0M925.5 970.8h0M928.1 973.5h0M930.4 969.5h0M944.2 984.5h0M948.4 957.4h0M951.2 940.4h0M953.8 961.4h0M965.8 957.9h0M968.2 962.6h0M979.4 985.5h0M982.1 998.8h0M984.4 1010.5h0M989.8 1009.4h0M992.6 1010.9h0M994.6 1009.9h0M996.5 1003.0h0M998.8 1011.1h0M1001.2 1013.2h0M1003.3 1012.2h0M1005.1 1013.9h0M1007.6 1010.3h0M1012.8 999.3h0M1015.2 999.1h0M1017.5 999.3h0M1035.2 1013.4h0M1047.3 1014.4h0M1052.2 1018.3h0M1059.5 1018.5h0M1067.0 1017.1h0M1069.7 1016.6h0M1074.5 1016.8h0M1083.1 1018.2h0M1086.1 1019.3h0M1088.0 1021.5h0M1099.3 1021.4h0M1101.7 1021.4h0M1103.7 1020.1h0M1114.0 1023.6h0M1118.9 1020.9h0M1121.8 1008.4h0M1125.9 988.9h0M1128.0 983.6h0M1132.6 953.6h0M1134.9 958.1h0M1137.1 973.6h0M1139.8 975.6h0M1144.7 977.7h0M1147.2 1000.2h0M1152.3 984.1h0M1154.5 977.0h0M1160.3 981.2h0M1162.7 956.8h0M1165.3 966.1h0M1168.3 1000.5h0M1173.7 1015.2h0M1176.5 1021.2h0M1179.4 1022.0h0M1182.1 1019.5h0M1194.6 962.0h0M1198.9 987.4h0M1201.9 984.4h0M1204.1 942.1h0M1214.3 989.6h0M1216.3 975.4h0M1222.6 977.4h0M1225.5 983.5h0M1233.4 988.7h0M1237.9 993.1h0M1243.0 1018.6h0M1254.7 1019.5h0M1256.7 1018.5h0M1260.7 991.6h0M1269.4 1010.1h0M1271.5 1007.2h0M1273.6 1012.7h0M1276.1 1016.2h0M1280.6 1016.7h0M1287.1 1015.5h0M1289.9 1007.8h0M1299.4 1007.0h0M1307.1 1011.8h0M1311.9 1012.8h0M1314.9 1016.7h0M1317.2 1017.6h0M1319.6 1016.6h0M1329.6 1002.0h0M1332.1 1007.3h0M1334.6 1012.2h0M1340.5 993.0h0M1343.3 991.3h0M1345.7 1008.0h0M1354.2 1003.6h0M1357.2 980.2h0M1364.7 967.0h0M1367.6 979.5h0M1371.6 931.1h0M1374.4 918.6h0M1376.2 921.7h0M1378.1 911.3h0M1382.4 889.7h0M1384.3 904.8h0M1388.9 902.4h0M1391.8 904.6h0M1399.1 922.5h0M1401.2 916.9h0M1406.1 933.6h0M1408.0 931.0h0M1425.1 941.7h0M1429.9 893.7h0M1432.3 920.4h0M1434.3 931.8h0M1438.1 946.4h0M1440.2 938.7h0M1444.1 926.3h0M1448.9 931.6h0M1462.6 914.5h0M1464.6 916.7h0M113.5 1022.0h0M116.4 1022.5h0M121.3 1022.5h0M128.6 1023.1h0M131.2 1022.2h0M133.4 1022.0h0M135.9 1022.6h0M138.5 1024.6h0M141.0 1022.4h0M145.3 1026.1h0M147.5 1026.1h0M150.2 1021.6h0M153.2 1020.5h0M156.1 1019.7h0M158.6 1019.9h0M163.1 1015.9h0M164.9 1016.6h0M166.7 1022.2h0M171.3 1023.5h0M173.5 1021.0h0M178.8 1024.7h0M185.2 1022.0h0M199.4 1010.8h0M205.0 1022.9h0M207.7 1025.4h0M213.3 1020.0h0M216.1 1011.3h0M218.3 1018.6h0M221.3 1019.6h0M224.2 1022.8h0M228.9 1022.0h0M231.6 1021.4h0M236.4 1021.1h0M241.7 1023.6h0M244.1 1019.2h0M246.9 1024.2h0M249.1 1025.9h0M251.9 1026.2h0M257.2 1026.2h0M262.6 1021.2h0M267.6 1020.0h0M271.9 1018.0h0M274.5 1019.3h0M276.5 1014.4h0M279.4 1017.8h0M286.6 1013.9h0M289.5 1015.3h0M292.2 1007.0h0M294.6 1010.8h0M297.0 1004.8h0M299.6 1001.3h0M302.1 1009.2h0M304.3 1011.7h0M306.3 1016.3h0M311.7 1015.9h0M314.2 1017.9h0M316.1 1019.8h0M318.9 1016.6h0M321.6 1013.5h0M335.7 1017.7h0M337.8 1011.7h0M340.7 1012.2h0M342.6 1020.9h0M347.8 1020.6h0M349.9 1018.2h0M354.9 1022.6h0M357.2 1023.4h0M361.7 1023.5h0M365.9 1024.7h0M368.5 1023.8h0M370.4 1024.7h0M373.4 1027.3h0M375.2 1027.3h0M379.7 1024.6h0M386.6 1026.5h0M393.5 1026.9h0M395.3 1027.0h0M398.3 1026.6h0M400.3 1026.0h0M406.9 1026.8h0M413.7 1027.2h0M415.6 1025.9h0M417.9 1025.5h0M420.6 1025.6h0M423.3 1026.4h0M428.9 1025.7h0M431.7 1025.8h0M438.8 1025.5h0M441.4 1025.6h0M443.6 1025.2h0M452.6 1026.6h0M455.1 1026.1h0M457.4 1026.2h0M459.8 1027.4h0M464.8 961.7h0M466.9 858.5h0M469.4 872.5h0M471.7 895.7h0M476.0 914.8h0M483.7 947.1h0M490.5 997.6h0M493.5 1020.1h0M508.5 940.7h0M511.0 917.9h0M518.5 911.3h0M533.8 1026.4h0M535.9 1027.8h0M544.0 1027.6h0M548.8 1027.5h0M550.9 1027.6h0M561.4 1026.7h0M566.4 1027.7h0M571.3 1028.5h0M573.2 1028.9h0M577.9 1028.9h0M579.9 1029.4h0M581.8 1029.6h0M586.8 1029.2h0M589.3 1029.0h0M592.2 1029.5h0M599.8 1029.5h0M602.1 1029.3h0M606.5 1028.7h0M608.4 1028.6h0M610.6 1029.0h0M613.4 1028.7h0M616.0 1028.4h0M617.8 1028.9h0M620.2 1028.6h0M622.5 1027.8h0M624.9 1028.3h0M631.3 1028.5h0M635.7 1028.2h0M638.6 1028.8h0M645.2 1029.5h0M647.7 1029.6h0M652.4 1029.0h0M657.3 1029.5h0M663.1 1029.9h0M665.9 1029.8h0M678.5 1028.8h0M681.2 1029.5h0M683.9 1028.9h0M686.3 1029.4h0M688.5 1028.5h0M693.6 1028.7h0M698.2 1028.6h0M703.5 1029.0h0M706.3 1029.1h0M712.0 1029.6h0M714.2 1029.2h0M716.2 1029.4h0M718.6 1029.3h0M723.1 1029.0h0M725.7 1029.3h0M728.6 1029.7h0M733.9 1029.9h0M735.8 1029.4h0M738.0 1029.9h0M745.3 1030.0h0M751.9 1029.1h0M754.9 1029.9h0M757.5 1029.9h0M761.6 1029.6h0M763.7 1029.6h0M766.3 1029.7h0M768.9 1029.0h0M778.0 1029.2h0M781.0 1028.1h0M783.7 1028.1h0M785.6 1027.9h0M790.7 1023.3h0M795.7 1027.6h0M800.7 1026.6h0M805.9 1028.3h0M811.2 1007.0h0M817.3 1009.3h0M819.8 1003.7h0M829.5 994.1h0M831.8 997.1h0M837.3 994.1h0M842.4 984.1h0M847.5 954.5h0M850.2 958.6h0M855.5 980.5h0M862.9 990.0h0M867.8 991.8h0M875.2 997.9h0M880.2 1010.9h0M883.1 994.8h0M885.6 997.8h0M888.4 999.6h0M890.2 1003.0h0M895.8 1000.1h0M904.1 1009.1h0M908.8 1009.7h0M911.5 1007.7h0M918.8 1013.9h0M925.5 1011.3h0M928.1 1012.3h0M930.4 1011.4h0M942.3 1022.8h0M944.2 1021.5h0M951.2 1016.4h0M956.5 1020.2h0M958.9 1017.7h0M965.8 1020.6h0M970.1 1019.4h0M974.7 1021.1h0M1001.2 1027.5h0M1012.8 1025.4h0M1015.2 1027.1h0M1017.5 1026.0h0M1022.7 1026.6h0M1024.8 1027.4h0M1037.0 1025.7h0M1039.8 1026.5h0M1047.3 1027.0h0M1055.0 1026.6h0M1056.9 1028.0h0M1059.5 1027.3h0M1061.7 1027.7h0M1064.2 1028.6h0M1067.0 1027.3h0M1076.6 1028.2h0M1081.0 1028.5h0M1086.1 1028.6h0M1088.0 1028.8h0M1093.0 1028.7h0M1095.3 1029.1h0M1099.3 1028.6h0M1101.7 1028.5h0M1103.7 1029.4h0M1106.0 1029.4h0M1108.2 1027.9h0M1111.0 1027.9h0M1114.0 1029.0h0M1116.3 1028.9h0M1118.9 1028.1h0M1121.8 1027.3h0M1125.9 1023.0h0M1128.0 1021.4h0M1130.0 1019.7h0M1132.6 1016.1h0M1134.9 1021.9h0M1139.8 1020.3h0M1149.5 1020.6h0M1152.3 1019.1h0M1157.4 1022.0h0M1160.3 1025.9h0M1162.7 1024.6h0M1165.3 1019.1h0M1168.3 1023.2h0M1171.0 1026.5h0M1173.7 1028.8h0M1185.1 1029.3h0M1187.2 1029.3h0M1189.8 1029.1h0M1194.6 1025.0h0M1196.9 1022.9h0M1206.5 1019.0h0M1209.3 1023.4h0M1211.4 1024.6h0M1216.3 1026.2h0M1218.1 1024.3h0M1220.3 1026.2h0M1222.6 1024.8h0M1225.5 1023.1h0M1235.8 1025.3h0M1240.7 1028.2h0M1243.0 1028.6h0M1245.1 1027.5h0M1247.7 1028.3h0M1249.6 1028.6h0M1258.6 1028.5h0M1260.7 1026.6h0M1262.8 1025.2h0M1265.1 1028.6h0M1267.2 1027.3h0M1271.5 1026.7h0M1273.6 1027.5h0M1278.3 1028.0h0M1280.6 1028.6h0M1283.3 1028.0h0M1292.3 1026.7h0M1299.4 1026.5h0M1307.1 1026.6h0M1309.7 1028.1h0M1311.9 1028.1h0M1314.9 1026.9h0M1317.2 1027.8h0M1322.1 1028.0h0M1324.3 1028.1h0M1327.1 1027.0h0M1329.6 1028.1h0M1337.5 1027.4h0M1343.3 1024.5h0M1345.7 1028.1h0M1352.3 1025.2h0M1359.1 1026.2h0M1362.1 1025.8h0M1364.7 1025.8h0M1367.6 1025.1h0M1369.5 1024.1h0M1382.4 1001.8h0M1384.3 1004.0h0M1386.9 1013.3h0M1391.8 1016.9h0M1394.4 1018.4h0M1396.3 1010.8h0M1410.4 1009.9h0M1414.4 1016.2h0M1417.3 1014.5h0M1420.0 1006.9h0M1422.5 1009.3h0M1425.1 1006.2h0M1427.9 1005.0h0M1432.3 1019.2h0M1436.2 1017.4h0M1442.0 1009.4h0M1444.1 1001.6h0M1448.9 1016.2h0M1451.7 1020.9h0M1454.6 1023.1h0M1457.3 1020.4h0M1459.7 1019.5h0M1464.6 1018.1h0M115.8 972.4h0M119.8 936.7h0M122.3 901.0h0M122.1 896.8h0M122.2 912.3h0M126.3 932.3h0M126.3 938.0h0M125.9 927.1h0M125.9 941.6h0M130.6 958.4h0M138.5 957.6h0M141.5 956.1h0M145.2 973.6h0M152.4 886.6h0M153.0 889.8h0M152.9 884.2h0M152.9 871.9h0M154.3 866.6h0M154.4 868.2h0M158.3 902.3h0M162.0 939.0h0M161.8 942.5h0M164.4 942.9h0M171.6 913.5h0M171.3 918.6h0M175.9 872.8h0M176.0 872.2h0M179.7 929.5h0M185.9 974.4h0M190.5 942.8h0M196.0 843.8h0M195.8 845.5h0M196.3 834.6h0M200.1 878.1h0M202.6 905.5h0M203.0 898.8h0M209.7 938.0h0M209.8 943.7h0M212.0 953.7h0M212.1 940.6h0M214.4 897.7h0M214.5 903.1h0M217.5 901.1h0M221.1 934.3h0M228.9 971.0h0M231.9 975.4h0M238.0 950.0h0M240.1 943.6h0M243.9 950.9h0M248.7 982.4h0M264.5 982.7h0M268.9 976.1h0M271.5 962.8h0M277.1 903.6h0M281.4 936.8h0M281.5 926.6h0M283.9 953.6h0M286.9 920.1h0M289.3 911.8h0M292.3 899.5h0M292.0 893.6h0M295.5 871.5h0M298.9 891.1h0M298.8 887.9h0M301.2 889.7h0M305.3 899.9h0M305.0 909.8h0M306.9 920.8h0M307.3 923.5h0M307.1 914.7h0M306.9 915.4h0M309.0 939.4h0M309.2 942.5h0M315.9 965.9h0M318.2 911.8h0M321.3 906.7h0M325.1 936.1h0M324.6 922.9h0M324.6 925.2h0M327.1 952.1h0M330.7 954.6h0M340.4 900.5h0M342.8 911.9h0M342.6 905.2h0M345.4 934.6h0M345.8 920.8h0M345.8 917.8h0M352.5 897.8h0M356.3 928.2h0M355.9 940.5h0M359.8 953.0h0M360.9 953.3h0M364.2 973.2h0M364.3 978.7h0M366.2 977.2h0M368.7 985.8h0M370.2 999.0h0M380.8 988.1h0M386.5 1012.4h0M461.2 1026.9h0M461.8 1026.8h0M462.0 1016.7h0M461.6 1029.5h0M461.2 1022.9h0M461.8 1027.4h0M461.3 1020.4h0M461.8 1023.4h0M461.7 1022.2h0M464.5 890.1h0M464.4 897.7h0M464.4 852.0h0M464.7 856.5h0M464.1 839.6h0M464.2 877.0h0M464.4 816.7h0M464.3 860.0h0M464.3 898.7h0M464.3 899.0h0M464.8 777.3h0M464.1 851.9h0M464.7 874.3h0M464.6 852.1h0M464.3 904.8h0M464.9 874.5h0M464.8 838.5h0M464.6 804.6h0M464.7 866.1h0M464.7 864.8h0M464.8 807.1h0M464.6 865.7h0M464.5 886.7h0M464.7 895.1h0M464.2 833.3h0M464.8 883.7h0M464.4 844.2h0M464.9 879.5h0M464.2 874.0h0M464.5 862.6h0M464.6 825.2h0M464.4 869.4h0M464.2 873.4h0M464.4 898.6h0M464.8 844.3h0M464.9 870.7h0M464.7 888.9h0M464.7 902.7h0M464.5 796.3h0M464.5 860.8h0M464.9 903.8h0M464.8 883.3h0M464.5 768.8h0M464.3 859.2h0M464.1 899.5h0M464.9 893.1h0M464.1 844.5h0M464.2 855.6h0M464.5 901.7h0M464.7 823.1h0M464.5 864.3h0M464.9 827.1h0M464.8 896.0h0M464.8 892.0h0M464.7 830.2h0M464.3 852.1h0M464.5 882.7h0M464.5 832.9h0M464.6 852.3h0M464.7 886.9h0M464.4 837.2h0M464.9 829.3h0M464.3 903.9h0M464.5 848.1h0M464.6 808.9h0M464.3 877.4h0M464.6 838.5h0M464.2 978.0h0M463.8 975.5h0M464.4 997.3h0M464.2 988.0h0M464.1 985.9h0M463.7 1008.4h0M464.3 1002.8h0M463.9 1003.6h0M464.0 1014.3h0M468.0 766.5h0M467.8 737.3h0M467.8 775.0h0M467.9 769.8h0M468.2 745.7h0M467.9 723.8h0M468.1 767.3h0M467.9 723.9h0M468.0 745.7h0M467.8 722.2h0M467.6 755.4h0M468.0 743.6h0M467.7 759.3h0M467.9 753.6h0M468.0 760.5h0M468.2 773.8h0M467.8 732.6h0M467.5 759.3h0M467.6 742.6h0M467.7 750.6h0M468.0 726.6h0M467.6 766.9h0M467.7 734.7h0M467.5 766.0h0M468.2 765.0h0M467.6 742.3h0M468.1 760.0h0M467.5 737.7h0M467.7 752.0h0M468.1 731.6h0M468.0 724.5h0M467.5 742.7h0M467.5 878.5h0M467.3 911.7h0M467.8 881.7h0M467.4 861.3h0M467.4 874.7h0M467.2 877.7h0M467.5 867.5h0M467.9 868.8h0M467.8 939.9h0M467.3 853.0h0M467.8 876.6h0M467.7 961.4h0M467.5 912.3h0M467.5 931.5h0M467.4 857.5h0M467.3 900.4h0M467.3 904.9h0M467.5 906.4h0M467.7 888.3h0M467.2 879.8h0M467.9 892.1h0M467.7 859.7h0M467.4 873.8h0M467.3 965.2h0M467.5 854.5h0M467.4 893.0h0M467.6 969.7h0M467.6 990.3h0M470.9 779.1h0M471.1 772.3h0M471.2 794.9h0M471.6 754.3h0M471.7 796.6h0M471.4 775.1h0M471.2 827.1h0M471.1 820.4h0M471.0 817.9h0M471.6 826.3h0M471.1 785.9h0M471.1 818.3h0M471.2 811.0h0M471.4 830.8h0M471.3 827.6h0M471.5 809.3h0M471.5 826.5h0M471.4 799.0h0M471.0 819.7h0M471.4 766.4h0M471.5 783.3h0M471.4 742.8h0M470.9 752.3h0M471.2 773.3h0M471.4 767.4h0M471.4 827.2h0M471.6 776.9h0M471.2 833.2h0M471.4 832.7h0M470.9 736.5h0M471.7 772.2h0M471.6 776.0h0M471.6 819.5h0M471.1 814.0h0M470.9 822.6h0M471.2 791.2h0M471.2 822.4h0M471.0 769.4h0M471.2 775.5h0M470.9 805.9h0M471.4 833.0h0M471.4 783.8h0M471.0 834.4h0M471.1 758.4h0M471.6 809.6h0M471.0 807.0h0M471.6 817.1h0M471.0 815.5h0M471.4 810.1h0M471.2 929.6h0M471.2 955.3h0M471.0 901.6h0M470.8 943.4h0M471.1 938.0h0M470.8 923.9h0M470.8 927.7h0M470.9 947.1h0M471.0 913.6h0M470.7 945.4h0M471.1 949.7h0M470.8 916.9h0M471.2 939.0h0M471.1 961.1h0M470.9 924.1h0M470.7 921.2h0M470.9 927.0h0M471.0 950.9h0M474.8 845.8h0M474.7 809.0h0M474.5 825.1h0M474.8 837.9h0M474.5 843.3h0M475.0 856.5h0M474.7 835.7h0M474.6 846.0h0M474.6 857.9h0M474.7 831.8h0M474.6 859.7h0M474.5 838.4h0M475.2 856.6h0M474.5 844.8h0M474.5 814.6h0M475.1 825.7h0M474.5 788.4h0M474.8 822.5h0M474.8 808.2h0M474.8 851.0h0M475.0 824.7h0M474.8 844.7h0M475.0 853.7h0M474.9 846.4h0M475.0 804.7h0M474.9 847.8h0M474.9 838.5h0M474.6 844.8h0M475.2 829.8h0M475.0 856.7h0M474.8 771.9h0M475.2 786.6h0M475.0 842.2h0M474.5 838.8h0M475.1 834.5h0M475.0 806.9h0M474.7 797.7h0M474.5 829.0h0M474.8 822.6h0M475.2 834.0h0M474.6 850.1h0M474.9 856.0h0M474.5 850.9h0M474.7 825.8h0M475.2 832.6h0M474.7 787.7h0M474.8 762.4h0M475.1 942.2h0M475.1 964.4h0M475.3 937.5h0M475.1 962.2h0M474.7 944.3h0M474.8 928.9h0M474.9 931.7h0M475.4 930.1h0M474.9 977.7h0M474.9 931.2h0M475.0 960.2h0M475.4 933.2h0M474.8 936.1h0M474.7 944.6h0M475.3 935.5h0M474.7 964.6h0M479.0 891.1h0M478.4 849.1h0M478.4 889.0h0M478.7 867.1h0M478.5 874.9h0M479.0 873.8h0M478.4 864.0h0M478.6 876.9h0M478.6 892.8h0M478.8 846.5h0M478.4 863.4h0M478.6 876.7h0M478.5 892.7h0M478.8 839.4h0M479.1 884.3h0M479.1 881.9h0M479.0 870.7h0M478.8 865.3h0M478.4 885.5h0M478.8 882.4h0M478.8 884.7h0M478.9 825.4h0M478.9 822.7h0M478.8 890.9h0M479.0 864.1h0M479.1 849.5h0M479.1 824.7h0M479.1 827.4h0M478.8 866.3h0M479.0 857.7h0M478.5 894.5h0M478.5 873.2h0M478.4 885.8h0M478.5 859.7h0M478.5 883.8h0M479.0 891.0h0M479.2 839.7h0M479.0 890.4h0M478.6 883.3h0M478.6 852.3h0M478.8 973.4h0M478.5 961.3h0M478.5 980.6h0M478.5 968.9h0M478.7 969.7h0M478.7 950.7h0M478.4 968.5h0M479.0 986.0h0M478.8 975.4h0M478.3 967.4h0M478.7 954.3h0M478.8 989.9h0M481.3 887.4h0M481.3 875.2h0M480.8 866.8h0M480.9 864.7h0M481.4 862.8h0M481.3 845.8h0M481.0 864.5h0M481.1 898.2h0M481.3 883.8h0M480.9 843.5h0M481.3 848.6h0M481.3 885.4h0M480.7 880.1h0M481.3 875.9h0M481.3 896.3h0M481.4 840.4h0M481.2 876.5h0M481.4 847.3h0M481.1 887.6h0M481.0 891.9h0M480.9 868.1h0M481.3 852.1h0M481.2 880.6h0M481.0 890.2h0M481.1 875.5h0M481.4 862.1h0M480.9 888.8h0M481.3 860.6h0M481.0 862.4h0M481.0 859.8h0M480.9 852.6h0M481.2 847.6h0M480.9 882.9h0M481.4 894.1h0M480.6 954.2h0M481.2 966.6h0M480.5 958.0h0M480.9 986.2h0M481.1 948.3h0M480.7 946.8h0M481.1 976.2h0M481.2 964.7h0M480.7 955.8h0M480.5 946.9h0M481.2 947.0h0M482.8 896.2h0M483.2 908.4h0M483.0 910.3h0M483.2 894.6h0M482.8 861.3h0M482.9 901.0h0M483.4 909.4h0M483.2 882.7h0M482.9 904.2h0M482.8 903.4h0M483.2 856.8h0M483.3 892.1h0M483.5 875.3h0M483.4 891.0h0M483.0 910.2h0M483.1 879.6h0M483.5 897.2h0M482.9 893.2h0M483.5 907.6h0M483.5 911.7h0M483.1 886.4h0M483.4 883.1h0M483.0 909.9h0M482.8 900.2h0M483.2 865.0h0M483.1 884.8h0M483.5 874.5h0M483.4 907.6h0M482.9 888.2h0M483.5 875.1h0M482.9 955.5h0M482.9 958.1h0M482.9 990.3h0M483.1 962.6h0M483.4 974.0h0M483.4 983.6h0M483.0 960.5h0M483.0 999.1h0M482.8 976.8h0M483.3 1000.6h0M483.6 1007.2h0M483.2 1008.9h0M486.0 868.4h0M486.4 896.5h0M486.4 863.0h0M486.2 863.6h0M486.0 888.1h0M485.8 893.1h0M486.3 864.5h0M486.3 896.6h0M486.3 886.8h0M486.1 877.1h0M485.9 887.8h0M486.2 896.4h0M486.0 874.9h0M486.5 888.5h0M486.1 875.1h0M485.9 881.0h0M485.8 894.8h0M486.5 888.7h0M485.9 890.5h0M485.8 869.0h0M486.3 891.3h0M485.9 896.0h0M486.1 892.0h0M486.6 887.3h0M486.2 845.2h0M486.3 1003.9h0M486.6 989.4h0M486.1 961.4h0M486.3 992.3h0M486.5 949.0h0M486.3 948.2h0M486.2 949.2h0M486.3 943.0h0M486.6 947.5h0M486.2 959.5h0M486.3 980.9h0M486.5 947.8h0M486.3 956.7h0M486.5 975.5h0M486.0 988.9h0M489.3 936.0h0M489.4 945.3h0M489.0 935.4h0M489.2 921.7h0M489.2 930.6h0M489.7 888.1h0M489.3 929.7h0M489.1 915.4h0M489.6 915.9h0M489.6 949.3h0M489.7 949.4h0M489.3 934.0h0M489.7 906.5h0M489.5 926.2h0M489.3 914.0h0M489.3 890.9h0M489.4 904.1h0M489.5 952.9h0M489.1 922.6h0M489.5 902.6h0M489.8 886.1h0M489.5 917.9h0M489.6 913.7h0M489.7 942.7h0M489.4 944.8h0M489.3 946.4h0M489.1 902.0h0M489.3 905.2h0M489.7 929.6h0M489.7 945.6h0M489.0 910.7h0M489.3 934.9h0M489.7 938.5h0M489.5 942.6h0M489.6 893.0h0M489.4 879.3h0M490.2 1005.5h0M490.1 992.7h0M490.7 995.9h0M490.3 1013.0h0M490.0 1014.6h0M490.7 1006.8h0M492.5 985.8h0M492.5 1000.3h0M492.1 1011.3h0M492.4 999.0h0M492.2 1007.4h0M492.3 1009.5h0M492.8 986.7h0M492.1 1000.1h0M492.6 1005.0h0M492.3 999.7h0M492.6 1005.3h0M492.6 1004.2h0M492.2 1008.1h0M492.6 1010.7h0M491.7 1019.8h0M491.8 1021.4h0M491.6 1023.6h0M495.2 1016.0h0M495.3 1014.7h0M495.4 1013.8h0M495.6 1025.6h0M498.2 1015.1h0M497.9 1015.7h0M497.7 1015.0h0M500.5 1004.2h0M500.7 1015.8h0M500.8 1012.8h0M500.4 997.4h0M500.8 1007.4h0M500.4 1012.9h0M500.5 1017.6h0M500.3 1019.5h0M500.8 992.9h0M500.9 1000.8h0M500.6 1015.2h0M500.8 996.5h0M500.7 992.7h0M500.7 1008.5h0M500.6 997.9h0M500.2 1010.8h0M500.4 991.6h0M500.2 1014.0h0M500.6 987.7h0M499.5 1024.8h0M502.2 931.4h0M502.3 952.0h0M502.6 855.8h0M502.5 905.1h0M502.2 956.0h0M502.4 942.5h0M502.3 854.2h0M502.5 942.7h0M502.2 842.2h0M502.5 910.8h0M502.1 859.3h0M502.2 911.5h0M501.9 889.4h0M502.5 936.7h0M502.3 899.7h0M502.0 906.6h0M502.3 956.1h0M502.5 957.9h0M502.4 917.1h0M502.6 928.9h0M502.2 850.8h0M502.1 948.5h0M502.1 848.6h0M502.6 926.6h0M502.0 878.3h0M501.9 894.4h0M502.5 908.7h0M502.0 916.5h0M502.2 954.0h0M502.4 878.4h0M502.3 874.1h0M502.2 852.2h0M502.0 940.0h0M502.4 902.7h0M502.4 938.7h0M502.5 910.9h0M502.1 919.4h0M502.4 869.0h0M502.4 912.7h0M502.0 953.9h0M502.4 906.5h0M502.5 950.2h0M502.0 904.4h0M502.4 930.3h0M502.0 948.2h0M502.2 908.9h0M501.8 888.9h0M502.0 920.1h0M502.0 923.7h0M502.5 918.8h0M502.0 864.9h0M502.3 841.6h0M502.5 947.4h0M502.0 956.4h0M502.3 869.1h0M502.5 938.4h0M501.9 933.1h0M502.2 909.5h0M502.5 939.5h0M502.5 952.8h0M502.3 931.7h0M502.4 909.7h0M502.5 904.2h0M502.2 895.2h0M502.5 1015.7h0M502.7 1011.9h0M502.7 1011.5h0M502.5 1023.7h0M505.1 868.2h0M505.1 837.7h0M505.2 831.8h0M505.3 870.5h0M505.4 882.6h0M505.5 877.9h0M505.3 884.0h0M505.7 844.5h0M505.3 868.5h0M505.2 879.5h0M505.4 832.4h0M505.3 878.1h0M505.4 791.5h0M505.5 883.4h0M505.2 799.6h0M505.2 888.7h0M505.1 871.3h0M505.4 868.3h0M505.8 808.4h0M505.4 833.0h0M505.5 838.7h0M505.1 833.5h0M505.8 881.3h0M505.7 832.6h0M505.7 812.1h0M505.1 820.9h0M505.4 873.6h0M505.6 855.3h0M505.6 887.0h0M505.6 832.9h0M505.6 887.0h0M505.8 867.4h0M505.7 852.9h0M505.6 876.6h0M505.2 855.5h0M505.2 879.6h0M505.2 821.7h0M505.0 873.9h0M505.5 815.1h0M505.0 855.1h0M505.3 820.0h0M505.0 879.4h0M505.0 884.8h0M505.2 886.6h0M505.4 852.7h0M505.2 851.1h0M505.4 856.2h0M505.3 863.4h0M505.4 785.7h0M505.4 990.4h0M505.1 964.0h0M505.7 947.2h0M505.5 966.2h0M505.1 973.9h0M505.5 948.9h0M505.4 948.9h0M505.6 982.4h0M505.2 946.0h0M505.1 962.4h0M505.4 961.5h0M505.8 972.2h0M505.4 966.3h0M505.8 953.1h0M505.5 1013.2h0M508.6 872.9h0M508.3 883.8h0M508.4 825.2h0M508.3 845.0h0M508.2 851.1h0M508.4 858.1h0M508.4 847.3h0M507.9 789.6h0M508.1 864.3h0M508.2 880.4h0M508.0 870.0h0M508.3 867.9h0M508.5 854.3h0M508.2 825.5h0M508.4 832.5h0M508.5 885.5h0M507.8 854.9h0M507.9 827.6h0M508.6 829.0h0M508.2 874.7h0M508.0 810.1h0M508.4 862.8h0M508.3 870.6h0M508.2 881.9h0M508.1 806.6h0M508.5 830.1h0M508.3 876.9h0M508.5 834.8h0M508.5 823.1h0M508.0 843.3h0M508.5 847.3h0M508.5 869.7h0M508.6 792.6h0M508.6 845.4h0M508.2 871.4h0M508.5 851.6h0M508.1 879.8h0M508.6 883.7h0M507.9 865.8h0M508.2 842.8h0M508.3 784.2h0M508.5 837.0h0M507.9 836.7h0M508.5 886.3h0M508.2 864.4h0M508.2 851.1h0M508.5 835.5h0M508.3 818.6h0M508.6 796.9h0M508.0 832.9h0M507.9 873.8h0M507.6 983.3h0M507.2 974.8h0M506.9 946.8h0M506.9 952.4h0M507.0 945.9h0M507.2 947.2h0M507.5 951.8h0M507.1 964.4h0M507.4 960.1h0M506.9 987.9h0M506.9 949.0h0M507.0 976.0h0M510.0 815.7h0M510.0 854.2h0M510.2 823.3h0M510.4 845.3h0M510.0 819.6h0M510.3 862.7h0M510.3 830.3h0M509.8 824.8h0M510.4 858.1h0M509.7 867.9h0M510.3 840.3h0M510.3 864.2h0M509.7 779.8h0M509.8 847.1h0M510.2 855.2h0M509.7 841.0h0M510.1 837.3h0M509.8 846.0h0M510.1 858.1h0M510.1 854.9h0M510.3 824.3h0M509.7 842.1h0M510.3 825.5h0M510.2 840.3h0M510.0 819.9h0M510.0 837.6h0M510.3 860.3h0M509.7 843.1h0M510.4 871.4h0M510.0 863.2h0M510.3 876.5h0M510.0 873.1h0M509.8 853.8h0M510.0 820.3h0M509.7 829.9h0M510.3 780.1h0M509.9 803.7h0M510.0 804.2h0M509.9 861.3h0M509.7 846.4h0M510.4 871.1h0M509.8 850.8h0M510.0 842.4h0M509.7 789.7h0M510.2 804.2h0M510.0 869.3h0M509.7 833.8h0M510.2 845.7h0M510.4 825.5h0M509.5 942.7h0M509.5 952.5h0M509.7 984.1h0M509.7 957.3h0M509.6 947.5h0M509.2 944.0h0M509.7 971.0h0M509.3 942.5h0M509.4 948.1h0M509.7 932.4h0M509.9 936.7h0M510.0 937.5h0M509.6 992.7h0M511.7 824.5h0M511.8 867.5h0M511.7 849.7h0M512.4 770.8h0M512.2 827.6h0M511.9 805.3h0M511.8 866.1h0M512.0 839.8h0M512.1 843.7h0M511.7 823.3h0M512.4 813.8h0M511.7 860.1h0M512.2 859.9h0M512.1 827.2h0M512.3 823.0h0M511.8 780.3h0M512.1 841.5h0M512.2 845.1h0M511.9 838.8h0M511.7 869.4h0M512.0 834.2h0M511.7 863.4h0M512.0 871.2h0M511.9 784.1h0M512.3 841.0h0M512.2 829.6h0M512.0 816.8h0M511.7 840.7h0M511.7 796.7h0M512.0 804.1h0M512.2 870.8h0M512.2 845.9h0M512.4 861.6h0M512.2 785.8h0M512.3 804.2h0M512.2 819.1h0M512.3 859.1h0M512.4 859.2h0M512.2 854.3h0M511.8 829.1h0M511.8 835.1h0M512.1 801.8h0M512.3 816.5h0M511.7 805.5h0M512.4 852.4h0M512.3 796.9h0M512.2 842.1h0M511.7 862.9h0M512.0 768.6h0M512.4 937.3h0M512.2 961.5h0M512.5 948.3h0M512.5 966.9h0M512.1 934.8h0M512.7 953.2h0M512.7 930.6h0M512.5 946.0h0M512.2 949.0h0M512.9 953.9h0M512.9 939.2h0M512.3 938.3h0M514.5 874.9h0M513.9 806.3h0M514.1 852.7h0M513.9 872.8h0M514.5 870.8h0M514.1 872.4h0M514.1 861.9h0M514.0 820.8h0M514.0 834.0h0M514.2 860.1h0M514.3 848.2h0M514.3 772.4h0M514.6 804.0h0M514.2 859.6h0M514.3 811.5h0M514.1 886.0h0M514.1 864.7h0M514.1 802.9h0M514.6 832.1h0M514.0 833.3h0M514.4 840.7h0M514.5 838.4h0M514.5 837.6h0M513.9 885.8h0M514.2 859.7h0M514.2 873.4h0M514.4 790.5h0M514.4 863.7h0M514.6 803.1h0M514.0 817.4h0M514.2 848.9h0M514.5 836.1h0M514.4 841.6h0M514.0 877.4h0M514.6 805.1h0M514.2 864.1h0M514.4 826.8h0M513.9 854.1h0M514.5 882.9h0M514.1 800.8h0M514.4 864.2h0M514.1 880.1h0M514.4 798.7h0M513.8 857.1h0M514.4 844.1h0M514.3 862.5h0M514.4 884.5h0M514.2 876.9h0M514.3 868.6h0M514.5 883.9h0M514.0 876.1h0M514.1 829.3h0M514.4 867.1h0M513.9 850.9h0M514.3 884.7h0M514.8 959.9h0M514.2 971.7h0M514.8 980.8h0M514.6 941.0h0M514.8 939.7h0M514.6 956.6h0M514.7 959.4h0M514.5 943.1h0M514.6 953.3h0M517.3 824.9h0M517.5 853.5h0M517.5 839.8h0M517.9 808.5h0M517.9 839.6h0M517.4 834.7h0M517.9 795.7h0M517.9 804.5h0M517.5 830.2h0M517.9 824.3h0M517.5 853.0h0M517.5 839.5h0M517.4 836.9h0M517.2 850.8h0M517.5 829.5h0M517.3 844.1h0M517.5 796.2h0M517.3 841.6h0M517.5 834.3h0M518.0 843.8h0M517.9 799.6h0M517.8 832.9h0M517.4 811.3h0M517.8 850.2h0M517.7 852.5h0M517.9 850.3h0M517.5 839.0h0M517.6 836.3h0M517.4 830.7h0M517.9 823.2h0M517.9 812.1h0M517.3 842.5h0M517.6 833.5h0M517.9 835.8h0M518.0 803.2h0M517.9 855.6h0M517.4 854.2h0M517.6 813.1h0M518.0 827.0h0M517.7 842.0h0M518.0 941.1h0M518.2 948.9h0M517.7 973.4h0M518.1 912.3h0M518.4 926.4h0M517.8 949.5h0M517.9 938.4h0M518.1 939.3h0M517.6 935.6h0M518.1 923.2h0M518.1 944.4h0M517.6 935.6h0M518.4 949.7h0M517.7 942.6h0M518.3 911.7h0M518.0 986.5h0M519.3 875.5h0M519.2 796.2h0M519.1 872.0h0M519.8 815.3h0M519.1 840.1h0M519.8 857.7h0M519.8 813.0h0M519.6 864.4h0M519.3 790.9h0M519.7 864.0h0M519.1 827.2h0M519.2 867.3h0M519.7 861.2h0M519.0 857.5h0M519.2 824.9h0M519.7 841.5h0M519.0 830.9h0M519.5 877.0h0M519.6 828.2h0M519.7 836.5h0M519.6 868.5h0M519.7 825.8h0M519.4 861.6h0M519.7 838.1h0M519.3 853.1h0M519.2 860.6h0M519.4 864.4h0M519.6 848.1h0M519.6 854.5h0M519.6 855.6h0M519.4 833.7h0M519.3 774.9h0M519.1 874.8h0M519.0 830.8h0M519.5 863.3h0M519.4 847.6h0M519.5 874.4h0M519.7 833.4h0M519.4 867.1h0M519.5 836.5h0M519.3 851.9h0M519.1 837.9h0M519.5 831.8h0M519.1 870.3h0M519.1 871.6h0M519.5 861.6h0M519.2 854.7h0M519.6 812.6h0M519.4 774.5h0M519.2 954.7h0M519.6 966.6h0M519.3 958.9h0M519.5 935.3h0M519.2 933.0h0M519.3 944.6h0M519.2 986.3h0M519.5 987.1h0M519.8 978.3h0M519.5 971.7h0M519.8 955.7h0M519.5 975.2h0M519.4 992.7h0M522.4 891.2h0M522.4 900.0h0M521.9 865.4h0M521.8 901.6h0M521.8 892.1h0M522.1 841.8h0M522.3 813.1h0M522.0 853.8h0M522.5 900.2h0M522.1 891.2h0M522.4 871.4h0M522.3 899.3h0M522.5 826.3h0M522.0 831.3h0M521.9 876.2h0M522.1 880.0h0M522.1 899.9h0M522.6 833.6h0M522.1 897.8h0M522.1 864.7h0M522.1 875.9h0M522.3 855.0h0M522.2 890.4h0M522.2 827.4h0M521.9 889.6h0M522.5 883.2h0M522.1 839.5h0M522.2 850.9h0M522.5 831.2h0M522.4 856.4h0M522.5 877.8h0M522.0 901.4h0M522.5 863.3h0M522.3 888.6h0M522.1 860.4h0M522.2 797.0h0M522.4 903.1h0M522.4 898.6h0M522.6 903.9h0M521.9 901.0h0M522.2 853.6h0M522.5 859.1h0M521.9 810.0h0M522.4 827.7h0M521.9 901.4h0M521.9 879.8h0M522.5 900.0h0M522.6 883.1h0M522.4 891.2h0M521.9 867.3h0M522.4 838.6h0M522.3 818.4h0M522.5 846.6h0M522.5 874.7h0M522.2 787.9h0M522.2 963.6h0M522.0 965.2h0M522.3 992.8h0M521.9 990.9h0M521.8 963.8h0M522.2 995.8h0M522.0 982.0h0M521.8 978.8h0M525.8 929.6h0M526.1 933.2h0M525.8 931.6h0M525.6 936.1h0M525.6 948.8h0M526.0 914.9h0M526.0 931.7h0M525.9 909.2h0M525.6 948.6h0M526.0 939.3h0M526.1 938.9h0M526.0 928.7h0M526.0 934.4h0M525.7 945.7h0M526.0 931.3h0M525.8 916.7h0M525.8 944.2h0M525.9 944.6h0M525.9 940.2h0M525.9 947.4h0M525.6 917.6h0M525.5 933.7h0M526.2 907.7h0M526.1 933.1h0M526.0 944.7h0M525.8 927.3h0M525.6 923.3h0M525.6 899.4h0M525.8 946.8h0M525.8 895.3h0M525.6 949.4h0M526.0 934.9h0M526.1 894.0h0M525.6 991.5h0M525.0 994.4h0M525.2 1014.4h0M525.2 990.8h0M525.5 991.7h0M525.0 991.0h0M525.2 992.9h0M528.7 904.9h0M529.2 887.1h0M529.0 924.6h0M529.1 901.2h0M529.3 919.9h0M528.9 883.5h0M528.8 919.0h0M528.8 883.9h0M529.0 926.0h0M529.2 928.5h0M528.8 908.4h0M528.5 888.3h0M529.3 893.0h0M528.6 927.9h0M528.7 887.2h0M528.9 922.7h0M528.7 896.6h0M529.0 896.1h0M528.6 920.0h0M528.9 931.4h0M528.7 917.9h0M528.6 899.1h0M528.9 875.5h0M529.0 886.8h0M529.0 929.1h0M529.0 931.6h0M528.6 912.7h0M529.2 887.4h0M529.2 921.2h0M529.0 913.2h0M528.6 918.9h0M528.3 986.2h0M528.1 975.9h0M528.4 975.4h0M527.9 996.6h0M527.7 1000.3h0M528.1 991.6h0M528.4 983.6h0M528.1 978.3h0M528.4 991.1h0M527.7 993.8h0M528.0 1024.4h0M530.8 941.8h0M530.7 955.0h0M531.1 941.7h0M530.8 976.1h0M530.7 952.5h0M531.1 953.9h0M530.9 970.6h0M530.9 967.9h0M530.8 918.6h0M530.8 972.6h0M530.9 954.5h0M530.9 940.5h0M530.8 954.9h0M530.9 976.7h0M530.9 980.5h0M530.7 943.5h0M530.7 916.4h0M530.7 956.9h0M530.7 982.2h0M531.0 945.4h0M530.7 976.2h0M530.9 974.5h0M530.5 968.6h0M530.5 942.8h0M530.9 969.6h0M530.8 956.0h0M530.4 970.5h0M530.4 938.5h0M530.6 944.7h0M531.1 951.5h0M531.0 957.9h0M530.8 945.5h0M530.5 970.5h0M530.6 946.2h0M530.9 929.0h0M530.9 963.7h0M530.6 930.9h0M530.4 963.5h0M530.6 942.7h0M530.8 900.9h0M530.6 1027.9h0M794.7 942.4h0M808.3 953.6h0M808.2 965.5h0M808.2 968.7h0M808.3 949.2h0M808.3 965.9h0M808.3 961.2h0M808.3 966.3h0M808.6 950.0h0M807.9 969.8h0M808.4 957.6h0M808.6 949.1h0M808.5 966.4h0M807.9 952.3h0M808.5 965.5h0M808.5 943.0h0M808.0 970.6h0M808.6 953.6h0M808.1 955.5h0M807.8 1024.3h0M810.9 943.1h0M810.8 938.8h0M810.4 916.5h0M810.5 940.8h0M810.4 940.7h0M810.3 938.5h0M810.7 934.5h0M810.7 942.6h0M810.5 941.4h0M810.5 942.4h0M810.6 931.7h0M810.3 946.1h0M811.0 938.2h0M810.3 943.1h0M810.4 932.7h0M810.5 936.2h0M810.6 1013.1h0M810.9 1011.0h0M813.6 921.7h0M813.3 920.5h0M812.8 927.3h0M813.4 929.5h0M813.5 940.0h0M812.9 939.1h0M813.3 931.0h0M813.3 936.5h0M813.1 927.8h0M813.0 927.8h0M812.9 923.0h0M813.5 947.7h0M813.0 905.5h0M813.4 925.5h0M813.2 927.7h0M813.3 945.6h0M813.4 918.9h0M813.3 938.4h0M813.0 948.0h0M813.1 920.6h0M813.5 1011.5h0M813.3 1012.6h0M816.0 905.7h0M815.9 919.2h0M815.9 886.4h0M816.0 914.0h0M815.4 895.5h0M815.5 884.1h0M815.6 913.3h0M815.4 927.4h0M815.3 893.4h0M815.7 921.2h0M815.7 905.6h0M815.8 888.4h0M816.1 918.5h0M815.4 926.0h0M815.6 925.3h0M815.4 906.6h0M816.1 914.6h0M815.8 892.6h0M815.9 918.0h0M815.5 886.1h0M815.6 917.4h0M815.6 905.5h0M815.9 907.5h0M815.8 906.9h0M815.7 872.9h0M816.4 1013.0h0M815.9 1012.2h0M816.1 1016.0h0M816.0 1012.6h0M819.4 920.6h0M819.3 897.4h0M819.7 919.8h0M819.7 920.5h0M819.5 891.7h0M819.6 940.4h0M819.5 929.7h0M819.3 896.6h0M819.7 927.3h0M819.2 935.6h0M819.7 929.3h0M819.5 940.8h0M819.4 898.7h0M819.8 928.7h0M819.4 909.3h0M819.7 941.2h0M819.8 893.1h0M819.9 927.8h0M819.5 919.6h0M819.8 916.9h0M819.6 910.7h0M819.2 933.4h0M819.7 941.7h0M819.8 916.5h0M819.7 908.3h0M819.3 1019.2h0M818.9 1017.2h0M822.1 917.1h0M822.2 898.2h0M821.8 904.3h0M821.7 910.6h0M822.2 904.1h0M822.3 909.5h0M822.3 913.0h0M821.7 908.8h0M821.6 900.5h0M822.3 916.8h0M822.2 905.9h0M821.8 900.0h0M821.7 908.3h0M821.8 904.4h0M821.8 895.8h0M821.3 1009.8h0M820.9 1013.9h0M821.4 1010.3h0M820.9 1004.6h0M820.9 1003.8h0M821.2 1014.2h0M825.6 903.1h0M825.8 904.4h0M825.3 895.7h0M825.8 914.5h0M825.3 897.4h0M825.1 879.5h0M825.2 905.1h0M825.3 884.2h0M825.3 878.5h0M825.4 902.9h0M825.9 893.0h0M825.7 895.6h0M825.3 906.8h0M825.4 886.3h0M825.5 895.5h0M825.3 906.5h0M825.4 906.7h0M825.5 905.5h0M825.6 912.3h0M825.7 893.7h0M825.3 896.9h0M825.3 1014.3h0M825.0 1014.2h0M824.7 1016.7h0M824.7 1010.0h0M825.3 1017.7h0M829.6 901.9h0M829.4 874.1h0M829.2 908.1h0M829.4 883.6h0M829.8 898.8h0M829.4 881.6h0M829.6 862.7h0M829.5 871.1h0M829.2 908.5h0M829.5 899.4h0M829.7 891.8h0M829.4 898.8h0M829.7 911.4h0M829.1 890.2h0M829.5 864.7h0M829.6 908.6h0M829.7 904.2h0M829.7 887.7h0M829.5 885.7h0M829.6 901.0h0M829.6 910.1h0M829.5 908.5h0M829.1 913.1h0M829.8 883.8h0M829.4 908.7h0M829.2 879.4h0M829.3 913.1h0M829.5 850.4h0M829.3 1009.3h0M828.9 1011.6h0M828.7 1011.0h0M828.8 1012.4h0M828.8 1009.5h0M828.9 1019.8h0M831.6 870.7h0M831.5 871.1h0M831.5 837.8h0M831.7 870.9h0M831.9 875.2h0M831.8 837.3h0M831.7 867.7h0M831.3 853.9h0M831.5 868.2h0M831.4 864.7h0M831.6 847.9h0M831.2 874.5h0M831.6 856.5h0M831.5 839.2h0M831.5 869.9h0M831.4 863.2h0M831.3 874.1h0M831.8 862.3h0M831.5 872.9h0M831.3 849.1h0M831.7 821.8h0M831.8 869.8h0M831.9 872.2h0M831.5 847.4h0M831.9 854.5h0M831.2 858.0h0M831.8 868.1h0M831.9 861.7h0M831.6 809.6h0M832.0 1003.4h0M832.0 1001.6h0M831.5 1009.9h0M831.8 1004.1h0M831.5 1003.1h0M832.1 1004.8h0M832.1 1002.3h0M832.0 1004.2h0M831.8 1017.7h0M833.9 879.5h0M834.3 860.6h0M834.1 861.0h0M834.5 882.3h0M834.5 826.9h0M834.1 862.2h0M834.3 846.9h0M834.0 878.9h0M834.0 830.2h0M834.3 858.2h0M834.3 866.4h0M833.9 879.0h0M834.4 870.3h0M833.9 834.9h0M834.3 821.9h0M833.7 869.3h0M833.9 881.5h0M834.4 850.8h0M833.9 876.5h0M833.9 828.4h0M834.1 845.2h0M834.0 832.8h0M833.8 848.9h0M834.3 880.7h0M834.1 878.5h0M834.0 847.2h0M834.3 841.1h0M833.9 876.3h0M834.1 834.7h0M833.8 875.5h0M834.3 877.4h0M834.5 860.7h0M834.2 875.8h0M834.2 1012.9h0M834.2 1007.0h0M834.7 1004.1h0M834.3 1001.7h0M834.0 1008.3h0M834.4 1007.7h0M837.9 803.1h0M838.2 835.5h0M837.8 862.3h0M837.5 855.2h0M838.2 862.4h0M838.2 869.4h0M838.2 827.6h0M837.5 854.7h0M838.1 833.7h0M837.7 843.6h0M837.8 840.3h0M837.9 864.1h0M838.1 868.8h0M838.3 848.7h0M838.1 835.9h0M837.8 847.9h0M837.8 816.2h0M837.6 872.3h0M838.0 844.7h0M837.6 843.9h0M837.9 839.0h0M838.0 859.4h0M838.0 813.1h0M838.3 831.2h0M837.6 852.7h0M837.9 849.2h0M837.9 840.8h0M838.0 867.8h0M837.7 858.2h0M838.1 853.6h0M838.2 833.0h0M837.8 865.1h0M837.6 833.7h0M838.2 855.5h0M837.5 1000.5h0M837.2 997.0h0M837.7 1000.4h0M837.2 1004.3h0M837.1 998.0h0M837.6 1000.9h0M837.7 1003.0h0M840.7 875.0h0M840.7 879.3h0M840.5 880.3h0M840.1 883.9h0M840.9 885.0h0M840.7 872.3h0M840.5 868.4h0M840.3 854.2h0M840.8 881.1h0M840.7 871.3h0M840.2 849.8h0M840.3 887.2h0M840.1 843.3h0M840.8 883.0h0M840.4 833.9h0M840.8 868.5h0M840.8 841.8h0M840.2 889.1h0M840.3 893.3h0M840.7 874.1h0M840.6 885.1h0M840.2 885.5h0M840.5 891.0h0M840.6 877.2h0M840.6 877.8h0M840.9 891.5h0M840.2 858.1h0M840.5 891.0h0M840.3 879.5h0M840.3 839.0h0M840.8 838.0h0M840.8 884.1h0M840.7 870.2h0M840.6 878.0h0M840.2 840.7h0M840.1 998.1h0M840.6 998.2h0M840.0 998.8h0M840.1 997.8h0M843.4 842.0h0M844.2 824.2h0M843.7 855.8h0M844.0 865.1h0M844.1 854.4h0M844.1 868.9h0M843.5 858.6h0M844.0 826.0h0M844.1 863.9h0M843.6 871.5h0M843.6 830.9h0M844.0 834.5h0M844.2 870.4h0M843.7 811.7h0M843.6 865.0h0M843.5 832.3h0M843.8 843.3h0M843.7 810.6h0M843.4 868.4h0M843.5 846.5h0M843.8 854.4h0M844.1 866.3h0M843.5 813.2h0M843.9 865.5h0M843.9 850.9h0M844.0 843.4h0M843.9 852.5h0M844.0 837.8h0M843.6 854.8h0M844.1 866.9h0M843.8 803.6h0M844.7 992.2h0M845.0 989.3h0M845.0 993.7h0M844.6 986.8h0M844.7 988.3h0M844.5 993.1h0M847.1 808.5h0M847.7 827.8h0M847.1 800.6h0M847.7 806.2h0M847.2 803.9h0M847.5 818.8h0M847.2 780.8h0M847.2 811.9h0M847.0 808.0h0M847.0 771.8h0M847.4 791.6h0M847.0 797.2h0M847.4 825.3h0M847.6 780.5h0M847.1 806.1h0M847.6 805.3h0M847.5 827.4h0M847.1 811.2h0M847.3 828.1h0M847.1 798.6h0M847.3 796.7h0M847.3 823.3h0M847.3 785.0h0M847.1 824.8h0M847.4 774.9h0M846.9 976.6h0M847.4 970.1h0M847.4 974.9h0M847.1 968.6h0M847.2 975.3h0M847.6 976.9h0M846.9 973.5h0M847.4 970.1h0M847.4 970.6h0M847.0 968.7h0M847.3 988.7h0M850.9 812.6h0M850.9 811.3h0M851.1 815.9h0M851.0 819.8h0M850.7 818.7h0M851.4 828.2h0M850.7 807.9h0M850.6 794.3h0M850.7 822.2h0M850.6 828.9h0M851.1 829.8h0M850.8 827.7h0M851.0 828.4h0M851.4 830.9h0M851.0 810.7h0M851.3 832.4h0M850.8 829.0h0M851.1 797.5h0M850.7 814.9h0M850.6 829.2h0M851.1 808.2h0M850.6 807.1h0M851.1 805.8h0M851.0 797.1h0M851.3 810.2h0M850.8 823.3h0M851.0 786.8h0M850.4 973.4h0M850.8 974.5h0M850.3 974.8h0M850.8 981.4h0M850.6 966.9h0M850.7 969.7h0M850.6 966.7h0M850.1 977.8h0M850.7 968.0h0M853.5 853.1h0M853.5 867.2h0M853.4 829.6h0M853.1 855.3h0M853.7 835.3h0M853.1 846.9h0M853.5 844.7h0M853.3 811.0h0M853.8 864.5h0M853.0 820.6h0M853.2 840.0h0M853.3 845.2h0M853.6 860.7h0M853.3 822.0h0M853.1 822.7h0M853.1 862.9h0M853.5 811.3h0M853.2 846.4h0M853.5 831.9h0M853.1 864.7h0M853.4 800.7h0M853.6 865.9h0M853.4 856.7h0M853.3 865.0h0M853.1 817.4h0M853.8 862.0h0M853.8 860.1h0M853.4 867.7h0M853.2 841.7h0M853.3 804.5h0M853.4 832.6h0M853.4 820.0h0M853.1 801.5h0M853.2 792.2h0M853.4 828.0h0M853.2 855.1h0M853.8 817.0h0M853.4 781.3h0M854.4 988.0h0M853.9 983.3h0M854.4 988.2h0M854.4 983.6h0M853.9 986.0h0M857.7 784.5h0M857.8 781.1h0M857.8 807.0h0M857.7 824.8h0M857.5 827.7h0M857.4 814.3h0M857.3 812.6h0M857.4 834.6h0M857.4 807.8h0M857.3 826.0h0M857.8 818.0h0M857.7 820.4h0M857.1 838.3h0M857.4 817.8h0M857.2 784.0h0M857.3 829.1h0M857.3 811.4h0M857.4 793.4h0M857.4 788.4h0M857.6 833.4h0M857.8 820.3h0M857.5 809.6h0M857.5 830.9h0M857.8 804.4h0M857.7 832.9h0M857.6 801.4h0M857.6 807.8h0M857.5 824.4h0M857.4 826.6h0M857.8 797.6h0M857.6 826.7h0M857.5 1003.2h0M857.8 996.7h0M857.7 995.8h0M857.8 996.2h0M857.7 995.5h0M857.8 1007.2h0M857.3 1006.6h0M857.9 991.4h0M857.6 1001.7h0M859.8 846.2h0M860.3 841.5h0M859.7 798.7h0M859.9 798.8h0M860.2 841.7h0M859.9 843.2h0M859.7 775.6h0M859.9 798.4h0M859.8 842.8h0M859.8 798.5h0M859.9 814.4h0M859.9 823.1h0M860.1 822.1h0M859.9 791.3h0M860.3 829.9h0M860.1 814.1h0M860.3 827.9h0M860.2 828.3h0M859.9 827.4h0M860.4 805.3h0M860.1 836.6h0M860.4 802.4h0M860.0 804.4h0M859.9 839.4h0M859.7 842.4h0M859.8 786.8h0M860.0 815.3h0M860.1 825.9h0M859.7 841.2h0M860.0 826.8h0M860.3 824.0h0M860.5 838.2h0M860.0 847.5h0M860.0 845.3h0M859.7 784.3h0M860.3 992.7h0M859.9 997.2h0M860.5 1002.7h0M860.0 994.3h0M860.1 999.2h0M860.2 1006.8h0M859.9 995.9h0M860.0 998.1h0M863.4 830.3h0M862.9 865.2h0M863.4 825.3h0M862.9 860.6h0M863.4 863.8h0M862.8 820.7h0M863.1 858.5h0M863.2 855.7h0M863.3 839.9h0M862.8 797.7h0M862.7 864.6h0M862.7 824.3h0M862.8 838.9h0M862.7 857.0h0M863.4 851.8h0M863.0 828.1h0M863.3 865.6h0M863.4 857.3h0M863.0 846.6h0M862.9 801.7h0M863.3 834.5h0M863.4 841.6h0M863.4 850.9h0M863.2 843.4h0M863.1 855.5h0M862.7 847.4h0M863.0 864.5h0M863.0 804.8h0M863.4 855.5h0M863.1 823.4h0M863.0 837.9h0M862.8 815.1h0M862.9 842.8h0M863.2 848.3h0M863.0 839.7h0M863.0 847.5h0M863.0 782.3h0M862.6 995.8h0M862.4 997.7h0M862.8 999.4h0M862.4 1001.9h0M862.5 996.6h0M862.5 993.8h0M862.2 995.1h0M864.8 850.0h0M864.9 890.1h0M864.5 884.5h0M864.3 898.4h0M864.7 879.1h0M864.7 843.5h0M864.8 875.7h0M864.4 883.9h0M864.8 887.5h0M864.5 857.1h0M864.7 882.7h0M864.8 865.5h0M864.6 832.1h0M864.4 894.6h0M864.4 893.5h0M865.0 868.2h0M864.8 823.4h0M864.9 835.0h0M864.9 887.9h0M864.7 875.6h0M864.4 871.9h0M864.9 849.6h0M864.5 847.9h0M865.1 877.4h0M864.6 865.5h0M864.7 861.5h0M864.5 872.7h0M864.3 848.3h0M864.9 895.2h0M864.3 869.2h0M865.0 866.5h0M864.5 844.8h0M864.4 824.1h0M864.5 828.5h0M864.8 886.1h0M864.3 874.9h0M864.5 870.7h0M864.5 875.9h0M864.7 851.4h0M864.9 1004.0h0M865.0 1003.8h0M865.3 1008.1h0M868.0 870.8h0M867.9 832.4h0M867.8 876.8h0M867.8 835.1h0M868.0 860.7h0M868.3 852.8h0M867.8 890.6h0M868.3 868.5h0M867.7 854.1h0M868.2 856.9h0M868.1 856.5h0M867.8 850.5h0M868.1 881.7h0M868.2 878.6h0M868.1 856.3h0M868.1 868.3h0M868.1 865.5h0M868.2 870.7h0M868.3 876.2h0M867.7 889.6h0M868.2 847.8h0M867.7 876.6h0M868.2 881.3h0M867.9 875.9h0M868.2 862.8h0M868.0 887.7h0M867.8 850.9h0M868.0 866.6h0M867.8 870.7h0M867.8 884.6h0M867.7 888.9h0M867.8 851.6h0M867.1 1012.2h0M867.2 1005.7h0M867.5 1002.2h0M867.2 1011.3h0M867.1 1007.1h0M871.0 835.7h0M871.1 871.3h0M870.9 869.9h0M870.7 879.6h0M870.8 841.3h0M871.1 859.8h0M870.8 825.5h0M870.9 847.5h0M871.2 875.5h0M870.7 837.0h0M870.8 861.6h0M871.1 855.7h0M871.3 881.1h0M871.1 872.8h0M871.0 867.6h0M871.3 876.0h0M870.8 849.7h0M870.8 848.3h0M870.7 845.8h0M871.3 876.2h0M871.1 851.9h0M870.6 857.9h0M871.1 841.9h0M871.0 876.7h0M870.7 849.8h0M870.6 868.5h0M871.2 880.2h0M871.0 820.8h0M871.0 1002.0h0M871.4 1006.8h0M871.4 1005.5h0M871.3 1003.7h0M871.7 1009.3h0M871.3 1002.4h0M871.1 1007.8h0M871.3 1015.7h0M874.1 871.1h0M873.9 859.2h0M874.0 902.4h0M873.7 873.3h0M874.2 896.4h0M874.1 891.6h0M873.8 853.6h0M873.6 855.1h0M873.7 892.1h0M873.8 894.4h0M873.8 888.4h0M873.9 897.2h0M874.1 895.5h0M873.6 875.9h0M873.6 886.3h0M874.2 862.1h0M874.1 896.9h0M874.1 860.5h0M874.2 859.4h0M873.6 880.9h0M873.9 871.9h0M874.1 897.6h0M874.0 867.1h0M873.7 896.0h0M873.8 869.1h0M873.8 902.0h0M873.5 885.0h0M873.6 892.1h0M873.8 881.3h0M874.0 1008.5h0M874.2 1007.5h0M873.9 1007.7h0M874.0 1006.2h0M873.8 1013.5h0M876.5 898.9h0M876.7 867.0h0M876.5 905.2h0M876.7 897.6h0M876.4 896.8h0M876.4 872.6h0M876.6 894.1h0M877.0 906.0h0M876.4 903.6h0M876.3 864.3h0M876.9 884.6h0M876.3 891.5h0M876.4 908.7h0M876.8 886.6h0M876.5 862.5h0M876.8 884.7h0M876.3 895.8h0M876.3 907.6h0M876.5 885.4h0M876.9 889.7h0M876.8 897.5h0M876.9 907.5h0M876.3 881.9h0M876.7 888.4h0M876.7 885.1h0M877.1 910.9h0M877.0 1009.7h0M877.3 1013.1h0M877.0 1012.9h0M876.6 1010.2h0M877.2 1010.1h0M877.0 1016.9h0M879.8 889.8h0M879.4 898.3h0M880.0 866.6h0M879.5 899.4h0M879.7 909.0h0M879.8 862.9h0M879.6 906.5h0M879.4 893.7h0M880.0 885.8h0M879.7 879.5h0M879.6 861.1h0M879.5 864.9h0M879.8 907.2h0M879.9 869.9h0M879.7 916.8h0M879.3 877.6h0M879.4 888.2h0M879.5 918.4h0M879.5 892.7h0M879.7 849.3h0M879.5 869.0h0M879.6 925.8h0M879.6 916.3h0M879.7 903.0h0M879.5 921.7h0M879.3 889.5h0M879.7 913.2h0M879.3 905.0h0M879.5 907.4h0M879.4 903.2h0M879.6 880.0h0M879.5 917.4h0M879.7 882.7h0M879.1 1014.2h0M878.8 1014.1h0M882.4 860.6h0M882.1 876.7h0M881.9 894.5h0M881.8 875.4h0M882.1 890.0h0M882.5 823.8h0M882.0 886.7h0M881.8 868.7h0M882.0 865.2h0M882.2 834.6h0M882.3 820.8h0M882.6 873.0h0M882.4 888.8h0M882.0 857.7h0M881.9 858.3h0M881.9 875.5h0M882.3 859.1h0M882.4 884.8h0M882.1 862.3h0M882.4 888.7h0M882.0 886.7h0M882.5 884.2h0M881.9 883.5h0M882.2 890.6h0M882.4 867.0h0M882.0 875.8h0M881.9 878.5h0M882.4 876.5h0M882.0 858.4h0M882.5 882.9h0M881.9 840.9h0M881.9 887.4h0M882.3 855.7h0M882.1 870.1h0M882.1 883.1h0M882.6 867.6h0M882.5 891.9h0M882.6 1011.1h0M882.6 1009.3h0M882.3 1008.7h0M882.4 1008.7h0M883.0 1014.2h0M886.1 886.6h0M886.3 850.5h0M886.5 863.5h0M886.4 845.8h0M886.5 846.6h0M886.3 836.0h0M886.3 833.7h0M886.0 851.0h0M886.3 878.3h0M886.1 881.1h0M886.3 825.9h0M886.5 879.5h0M886.3 875.7h0M886.7 883.2h0M886.4 866.9h0M886.2 887.5h0M886.3 860.4h0M886.7 805.8h0M886.0 875.2h0M886.3 870.4h0M886.2 873.6h0M886.6 877.2h0M886.2 865.0h0M886.1 873.3h0M886.1 881.4h0M886.3 883.8h0M886.4 873.0h0M886.5 875.3h0M886.2 886.2h0M886.4 832.3h0M886.5 889.0h0M886.4 856.6h0M886.0 812.8h0M886.3 886.1h0M886.5 841.3h0M886.0 826.1h0M886.6 859.5h0M886.5 860.7h0M886.4 811.6h0M886.4 1011.3h0M886.1 1009.5h0M886.4 1007.8h0M886.0 1007.4h0M886.4 1007.5h0M889.4 826.8h0M889.4 843.7h0M889.7 865.0h0M889.9 837.1h0M889.7 856.2h0M889.4 873.1h0M889.5 888.0h0M889.9 878.7h0M889.9 891.0h0M889.3 889.8h0M889.5 842.6h0M889.3 839.5h0M889.7 834.2h0M889.5 877.0h0M889.4 874.2h0M889.4 887.9h0M889.5 885.8h0M889.5 841.9h0M889.8 833.8h0M889.7 841.2h0M889.3 840.8h0M889.8 884.7h0M889.6 858.8h0M889.3 884.5h0M889.4 886.3h0M889.3 858.1h0M889.6 885.7h0M889.5 879.2h0M889.9 854.5h0M889.9 851.7h0M889.9 840.3h0M889.7 868.1h0M889.8 830.1h0M890.0 880.6h0M889.4 846.8h0M889.6 819.8h0M889.4 819.4h0M889.5 879.9h0M889.7 847.0h0M889.4 882.2h0M889.2 1011.6h0M889.6 1008.8h0M889.5 1014.3h0M889.8 1012.1h0M889.7 1010.0h0M893.9 838.5h0M894.4 817.9h0M894.0 848.0h0M894.0 842.7h0M894.2 869.8h0M894.3 866.4h0M894.4 846.9h0M894.3 864.3h0M894.5 841.9h0M894.5 869.3h0M894.3 834.5h0M894.4 852.6h0M893.9 858.9h0M894.0 870.7h0M894.2 868.6h0M894.1 856.7h0M894.5 829.6h0M894.4 851.4h0M894.5 847.1h0M894.4 857.2h0M894.4 847.4h0M894.1 831.9h0M893.9 822.0h0M894.2 869.6h0M894.2 860.7h0M894.2 862.9h0M893.9 825.3h0M894.2 871.4h0M893.9 855.1h0M894.2 804.4h0M893.6 1004.3h0M893.8 1003.3h0M893.5 1014.9h0M893.6 1006.8h0M893.8 1008.8h0M893.7 1006.3h0M893.7 1003.5h0M893.7 1019.0h0M896.8 870.7h0M896.3 873.0h0M896.3 902.9h0M896.4 871.9h0M896.6 891.3h0M896.2 887.6h0M896.2 875.7h0M896.3 900.7h0M896.8 890.2h0M896.6 874.7h0M896.1 899.6h0M896.8 868.1h0M896.8 865.8h0M896.2 895.5h0M896.7 888.3h0M896.6 868.7h0M896.1 894.0h0M896.2 871.0h0M896.2 896.7h0M896.3 896.7h0M896.1 899.4h0M896.3 856.5h0M896.8 868.6h0M896.7 898.8h0M896.4 888.0h0M896.1 874.1h0M896.7 1010.0h0M896.6 1013.2h0M897.1 1009.8h0M896.9 1010.7h0M896.9 1011.9h0M899.9 915.3h0M900.6 940.6h0M900.1 905.8h0M900.3 939.8h0M900.0 935.2h0M900.6 928.0h0M900.1 934.3h0M900.1 941.0h0M900.4 917.3h0M900.5 939.8h0M899.9 917.2h0M900.0 929.0h0M899.9 923.0h0M900.6 908.9h0M900.0 938.0h0M900.6 932.0h0M899.9 941.0h0M900.1 925.9h0M900.4 904.1h0M900.6 902.1h0M900.7 902.3h0M900.4 903.3h0M900.4 914.2h0M899.9 929.8h0M900.3 1017.3h0M900.3 1016.8h0M900.1 1018.6h0M902.6 925.9h0M902.3 918.6h0M902.6 903.3h0M902.2 921.0h0M902.6 905.8h0M902.2 911.2h0M902.6 893.2h0M902.3 923.4h0M902.6 915.6h0M902.9 921.3h0M902.3 923.8h0M902.8 914.5h0M902.3 915.2h0M902.8 917.7h0M902.6 919.4h0M902.3 910.4h0M902.2 922.3h0M903.1 1014.4h0M902.9 1016.2h0M902.8 1014.0h0M902.8 1019.4h0M903.3 1017.0h0M905.3 931.5h0M904.8 938.5h0M904.9 929.8h0M905.3 927.6h0M904.7 937.5h0M905.0 923.2h0M904.7 935.5h0M905.0 928.3h0M904.7 924.7h0M905.1 931.5h0M904.7 941.4h0M904.6 930.8h0M904.9 927.6h0M904.5 930.3h0M904.5 933.6h0M904.7 933.2h0M904.7 936.4h0M905.7 1013.5h0M905.2 1015.5h0M905.2 1019.5h0M905.4 1013.8h0M905.3 1020.4h0M908.2 935.8h0M907.9 946.5h0M908.0 938.8h0M907.9 938.7h0M908.4 926.6h0M908.2 944.7h0M908.4 934.8h0M908.5 938.5h0M908.1 931.9h0M907.9 942.3h0M908.1 937.0h0M908.2 937.9h0M908.0 937.4h0M908.3 938.8h0M908.5 1016.3h0M908.2 1017.7h0M908.1 1017.6h0M908.4 1019.8h0M912.2 928.1h0M912.3 938.3h0M912.3 937.7h0M912.0 927.8h0M912.2 947.7h0M912.0 947.5h0M912.1 938.4h0M912.1 930.7h0M911.8 932.6h0M912.4 944.7h0M912.2 1012.4h0M911.5 1017.1h0M912.1 1014.4h0M914.8 952.6h0M914.8 950.0h0M915.1 938.0h0M914.9 950.6h0M914.4 943.4h0M914.4 946.1h0M914.4 937.6h0M914.8 956.3h0M914.5 946.2h0M914.8 951.9h0M914.9 960.1h0M914.7 956.7h0M914.4 948.2h0M914.8 939.7h0M914.6 933.5h0M915.2 1018.3h0M914.9 1019.4h0M916.6 962.1h0M916.7 967.1h0M916.5 967.4h0M916.7 950.4h0M916.7 950.5h0M916.6 961.4h0M916.6 963.5h0M917.0 952.4h0M917.1 962.1h0M917.0 961.8h0M916.9 966.6h0M917.1 964.7h0M916.9 1017.9h0M916.9 1018.3h0M917.2 1020.1h0M920.1 962.9h0M920.5 952.0h0M920.3 963.2h0M920.5 946.3h0M920.3 959.4h0M920.3 961.3h0M920.6 967.7h0M920.3 959.7h0M920.0 960.4h0M920.4 953.7h0M920.4 964.5h0M920.3 958.4h0M920.0 1018.6h0M919.9 1018.1h0M919.8 1020.4h0M922.3 964.4h0M922.5 964.0h0M922.0 964.9h0M921.8 964.3h0M922.3 964.2h0M921.9 963.2h0M922.5 961.0h0M921.9 964.2h0M922.1 956.3h0M921.8 959.8h0M921.9 957.5h0M922.1 941.6h0M922.3 1019.2h0M922.1 1017.5h0M921.9 1017.6h0M925.3 956.7h0M925.0 961.1h0M925.1 957.1h0M925.4 963.2h0M925.5 953.7h0M925.1 960.2h0M925.1 953.6h0M925.1 955.3h0M925.1 963.3h0M924.8 961.5h0M925.2 941.9h0M925.2 1017.1h0M924.8 1019.4h0M924.6 1019.3h0M924.9 1020.9h0M928.8 954.0h0M928.8 964.4h0M928.7 956.4h0M928.9 966.5h0M929.0 959.5h0M928.5 952.6h0M928.8 968.8h0M928.7 964.7h0M928.6 959.8h0M929.1 960.4h0M928.9 968.3h0M928.5 1018.5h0M928.1 1019.5h0M928.5 1021.3h0M932.8 950.9h0M932.7 962.1h0M934.8 975.1h0M941.5 981.9h0M946.0 944.3h0M946.5 950.5h0M949.9 918.5h0M949.7 911.0h0M949.7 907.0h0M954.0 949.9h0M954.1 941.4h0M953.9 936.4h0M956.6 955.9h0M956.3 953.4h0M961.7 924.6h0M965.5 936.7h0M969.6 944.6h0M974.3 940.2h0M977.4 944.7h0M977.0 951.2h0M1014.4 987.2h0M1017.0 992.5h0M1032.3 1008.7h0M1041.1 992.3h0M1123.1 987.7h0M1135.4 929.7h0M1135.8 932.1h0M1138.5 958.7h0M1142.1 961.0h0M1148.9 985.7h0M1153.5 962.1h0M1160.0 983.9h0M1159.8 981.1h0M1161.8 934.2h0M1165.4 938.0h0M1165.5 951.0h0M1194.6 953.0h0M1197.1 951.3h0M1196.7 961.9h0M1196.8 955.7h0M1199.3 965.9h0M1202.6 953.7h0M1202.3 949.4h0M1215.8 953.3h0M1216.0 945.1h0M1221.1 963.2h0M1223.9 970.1h0M1259.2 970.1h0M1259.2 969.0h0M1261.5 972.4h0M1291.0 1002.4h0M1293.0 1008.2h0M1301.4 991.2h0M1322.4 1013.6h0M1342.6 974.2h0M1358.3 934.5h0M1358.6 919.9h0M1363.8 945.8h0M1369.7 958.5h0M1369.1 962.8h0M1369.6 962.6h0M1369.2 963.7h0M1369.5 967.2h0M1369.6 951.7h0M1369.1 950.5h0M1369.5 963.5h0M1369.4 950.5h0M1369.4 946.0h0M1369.7 948.5h0M1369.2 955.1h0M1369.1 967.4h0M1369.3 962.4h0M1369.8 927.1h0M1369.6 957.3h0M1369.7 950.9h0M1369.5 963.6h0M1369.4 922.0h0M1374.1 874.5h0M1374.0 901.2h0M1373.6 878.4h0M1373.4 889.8h0M1373.8 890.8h0M1374.0 905.2h0M1374.1 904.4h0M1373.7 886.4h0M1374.0 901.7h0M1373.4 883.9h0M1373.6 867.2h0M1373.5 891.2h0M1373.7 904.3h0M1373.6 870.7h0M1373.8 895.8h0M1373.4 890.8h0M1374.1 883.4h0M1373.5 901.2h0M1374.1 893.8h0M1375.9 888.9h0M1376.3 882.1h0M1375.8 900.3h0M1376.2 866.6h0M1375.9 880.2h0M1376.2 900.6h0M1375.9 914.9h0M1376.4 914.1h0M1375.9 854.6h0M1375.7 908.3h0M1376.3 905.1h0M1375.7 903.0h0M1376.1 906.0h0M1376.0 878.8h0M1376.0 880.2h0M1376.3 917.7h0M1376.1 893.9h0M1376.3 906.0h0M1375.9 886.8h0M1375.8 915.8h0M1375.8 897.7h0M1375.7 895.1h0M1375.8 917.1h0M1375.7 889.9h0M1376.4 916.3h0M1376.2 915.9h0M1376.1 891.3h0M1376.1 848.8h0M1378.6 901.5h0M1378.5 878.5h0M1378.5 896.2h0M1378.4 895.8h0M1377.9 880.9h0M1378.4 860.8h0M1378.3 877.5h0M1378.4 860.9h0M1378.5 888.8h0M1378.1 893.2h0M1378.0 891.6h0M1378.0 869.3h0M1378.4 889.6h0M1378.0 898.9h0M1378.4 885.3h0M1378.1 885.9h0M1378.4 900.1h0M1378.4 879.7h0M1378.0 896.2h0M1378.0 869.0h0M1378.5 889.0h0M1378.1 873.4h0M1380.4 884.1h0M1381.0 870.4h0M1381.1 865.4h0M1380.7 875.2h0M1381.0 875.2h0M1380.4 877.6h0M1380.9 857.5h0M1380.4 868.5h0M1381.0 884.0h0M1380.9 865.0h0M1380.7 884.7h0M1380.5 876.0h0M1380.8 861.2h0M1381.0 883.6h0M1380.8 884.1h0M1381.0 882.1h0M1381.0 876.8h0M1381.1 884.2h0M1380.9 881.2h0M1383.5 866.6h0M1383.5 889.4h0M1383.9 883.1h0M1383.4 851.2h0M1383.3 883.5h0M1383.4 871.5h0M1383.4 872.6h0M1383.3 855.4h0M1383.3 867.3h0M1383.8 845.8h0M1383.4 873.8h0M1383.5 878.0h0M1383.8 869.3h0M1383.3 864.1h0M1383.3 893.8h0M1383.8 865.6h0M1383.9 872.8h0M1383.8 858.6h0M1383.5 881.0h0M1383.2 874.5h0M1383.5 861.1h0M1385.9 883.8h0M1386.0 884.4h0M1386.2 902.5h0M1386.4 893.1h0M1386.3 890.9h0M1386.4 893.3h0M1385.7 911.7h0M1386.0 902.5h0M1385.8 897.9h0M1385.7 903.6h0M1386.2 904.0h0M1385.9 894.7h0M1385.9 907.8h0M1386.2 908.6h0M1385.6 906.4h0M1386.0 901.9h0M1386.0 914.2h0M1385.8 909.3h0M1386.0 896.1h0M1389.3 859.5h0M1389.5 894.7h0M1389.1 874.3h0M1389.5 875.7h0M1389.3 891.0h0M1389.0 882.9h0M1389.1 873.7h0M1389.4 890.2h0M1389.5 891.8h0M1389.3 860.2h0M1389.5 881.5h0M1389.1 870.5h0M1389.4 895.8h0M1389.5 860.4h0M1389.3 877.2h0M1389.4 865.9h0M1389.2 895.0h0M1389.4 886.0h0M1392.3 894.3h0M1392.3 900.3h0M1392.3 889.5h0M1391.9 899.1h0M1391.9 884.1h0M1391.8 872.8h0M1392.3 870.0h0M1392.4 891.5h0M1392.3 900.1h0M1391.7 898.0h0M1391.9 899.1h0M1392.3 888.5h0M1391.9 897.2h0M1392.3 892.8h0M1391.9 872.0h0M1392.1 864.3h0M1394.5 912.7h0M1394.7 929.5h0M1394.8 929.2h0M1394.3 919.9h0M1394.7 906.4h0M1394.1 898.8h0M1394.2 889.0h0M1394.3 896.2h0M1394.3 919.8h0M1394.6 900.1h0M1394.4 894.6h0M1394.2 920.9h0M1394.2 885.6h0M1394.8 901.0h0M1394.1 911.4h0M1394.8 896.4h0M1394.5 918.9h0M1394.8 925.7h0M1394.5 884.7h0M1397.3 895.0h0M1397.6 902.0h0M1397.3 899.1h0M1397.3 903.9h0M1397.1 907.9h0M1397.2 915.0h0M1397.1 912.5h0M1397.4 902.0h0M1397.5 909.3h0M1397.1 906.2h0M1397.4 908.9h0M1397.7 909.8h0M1399.5 890.3h0M1399.8 916.5h0M1400.1 914.3h0M1399.4 917.4h0M1399.6 901.2h0M1400.0 917.1h0M1400.0 889.8h0M1399.6 914.1h0M1399.9 910.3h0M1399.5 898.1h0M1400.0 910.5h0M1400.1 900.6h0M1399.9 898.4h0M1399.3 912.8h0M1402.8 886.5h0M1402.9 896.4h0M1403.1 898.2h0M1402.6 885.5h0M1402.4 900.0h0M1402.7 891.0h0M1402.4 910.4h0M1402.9 911.1h0M1403.1 900.7h0M1402.9 900.8h0M1402.9 900.4h0M1402.4 883.6h0M1402.9 906.0h0M1402.6 897.1h0M1402.8 895.4h0M1402.4 890.4h0M1405.7 901.2h0M1406.1 925.1h0M1405.9 923.4h0M1406.1 921.2h0M1406.1 918.2h0M1406.0 922.6h0M1405.8 915.2h0M1405.5 919.2h0M1405.5 921.8h0M1405.8 927.0h0M1406.1 925.8h0M1405.8 907.0h0M1405.9 923.7h0M1405.6 920.1h0M1405.8 891.4h0M1409.4 923.7h0M1409.0 921.5h0M1409.0 913.4h0M1409.2 920.6h0M1408.7 911.5h0M1408.9 929.6h0M1409.5 907.1h0M1409.1 921.7h0M1408.8 915.9h0M1409.0 921.9h0M1409.5 911.4h0M1409.4 911.4h0M1409.3 913.6h0M1409.1 924.7h0M1409.3 925.7h0M1409.1 894.4h0M1411.2 900.3h0M1411.7 919.3h0M1411.8 899.3h0M1411.3 914.2h0M1411.7 901.1h0M1411.1 914.9h0M1411.1 912.6h0M1411.9 918.6h0M1411.4 913.9h0M1411.2 921.9h0M1411.6 909.5h0M1411.7 915.2h0M1411.8 900.1h0M1411.8 913.9h0M1413.7 908.4h0M1413.3 904.9h0M1413.9 910.1h0M1413.3 902.1h0M1413.8 908.6h0M1413.8 891.4h0M1413.5 893.0h0M1413.9 908.6h0M1414.0 902.5h0M1413.5 896.5h0M1413.5 892.0h0M1413.7 886.1h0M1416.7 900.8h0M1416.8 903.2h0M1416.2 905.1h0M1416.5 914.4h0M1416.6 911.7h0M1416.6 912.8h0M1416.7 891.4h0M1416.6 908.2h0M1416.5 893.7h0M1416.5 913.2h0M1416.9 899.5h0M1416.9 902.5h0M1416.5 902.0h0M1416.2 900.5h0M1419.3 919.8h0M1419.6 905.5h0M1419.4 899.8h0M1419.7 921.1h0M1419.7 904.3h0M1419.0 915.3h0M1419.0 899.0h0M1419.4 891.1h0M1419.5 914.6h0M1419.1 921.0h0M1419.0 916.5h0M1419.1 908.6h0M1419.0 913.1h0M1419.7 898.5h0M1419.4 888.2h0M1422.0 900.4h0M1421.9 916.6h0M1421.9 914.4h0M1422.1 915.8h0M1421.8 923.0h0M1422.2 918.7h0M1422.4 912.6h0M1421.9 928.1h0M1422.2 915.0h0M1422.3 927.7h0M1422.1 895.5h0M1422.0 905.9h0M1421.9 926.3h0M1422.4 904.1h0M1422.3 925.5h0M1422.3 918.1h0M1426.2 895.6h0M1425.9 852.5h0M1425.7 889.1h0M1426.1 872.9h0M1425.7 856.8h0M1426.0 880.5h0M1426.3 899.3h0M1426.4 891.7h0M1425.8 885.0h0M1426.1 877.4h0M1425.8 897.0h0M1426.2 885.2h0M1425.7 895.4h0M1425.8 870.4h0M1426.2 881.2h0M1426.3 889.6h0M1426.2 894.1h0M1425.9 890.8h0M1426.0 873.6h0M1425.7 893.2h0M1425.7 868.8h0M1425.8 850.3h0M1428.5 860.6h0M1428.8 855.1h0M1428.4 869.2h0M1428.6 872.8h0M1428.6 865.3h0M1428.5 871.7h0M1428.9 867.2h0M1428.8 874.4h0M1429.0 873.8h0M1428.6 857.1h0M1428.6 873.7h0M1428.6 868.8h0M1428.7 865.4h0M1428.5 858.6h0M1429.0 853.0h0M1432.1 880.3h0M1432.5 900.3h0M1432.2 897.7h0M1431.9 907.3h0M1432.0 897.1h0M1431.7 884.5h0M1432.4 897.8h0M1432.1 883.2h0M1432.0 907.1h0M1431.8 888.7h0M1432.0 904.6h0M1432.4 900.4h0M1431.9 892.5h0M1432.3 885.1h0M1432.2 876.3h0M1432.3 891.0h0M1432.0 908.2h0M1432.1 905.2h0M1432.5 901.5h0M1432.1 864.1h0M1436.0 923.5h0M1435.4 918.1h0M1435.6 917.3h0M1435.8 926.5h0M1435.3 927.1h0M1435.4 915.8h0M1435.5 898.1h0M1435.5 927.1h0M1435.5 920.4h0M1435.7 922.7h0M1435.7 902.5h0M1435.6 904.7h0M1435.4 913.3h0M1435.4 915.9h0M1438.8 909.3h0M1438.6 912.7h0M1438.5 924.7h0M1438.8 929.6h0M1438.9 920.3h0M1438.7 924.9h0M1438.5 929.0h0M1438.9 926.4h0M1438.9 914.5h0M1438.7 924.3h0M1438.8 916.5h0M1438.6 925.0h0M1438.8 913.9h0M1438.2 927.4h0M1441.5 918.2h0M1441.3 910.2h0M1441.3 913.8h0M1441.7 922.5h0M1441.6 920.4h0M1442.0 922.3h0M1441.6 908.8h0M1441.7 917.6h0M1441.5 906.5h0M1442.0 911.0h0M1444.8 916.5h0M1444.4 914.3h0M1444.9 908.5h0M1444.4 918.6h0M1444.4 907.6h0M1444.3 913.6h0M1444.5 904.0h0M1445.0 906.9h0M1444.8 915.1h0M1444.8 917.4h0M1444.3 916.6h0M1444.7 916.3h0M1444.6 892.5h0M1447.5 907.9h0M1447.5 909.2h0M1447.6 903.6h0M1447.2 906.5h0M1447.6 908.5h0M1447.6 903.2h0M1447.2 903.8h0M1447.1 904.7h0M1447.7 908.5h0M1447.3 885.5h0M1447.5 908.8h0M1447.8 906.3h0M1447.5 897.3h0M1447.4 907.0h0M1451.3 943.1h0M1451.1 942.9h0M1450.9 945.6h0M1451.5 942.6h0M1451.3 938.7h0M1451.4 944.4h0M1451.2 948.7h0M1450.8 926.1h0M1450.8 922.1h0M1451.2 927.4h0M1450.8 937.9h0M1451.2 923.2h0M1450.9 933.2h0M1451.4 948.5h0M1451.1 915.1h0M1453.2 951.3h0M1453.3 964.0h0M1453.4 964.0h0M1453.6 958.1h0M1453.1 964.5h0M1453.2 957.6h0M1453.5 948.6h0M1453.2 945.6h0M1453.4 959.5h0M1453.4 963.2h0M1453.0 950.2h0M1456.9 942.3h0M1457.1 944.2h0M1456.7 938.9h0M1457.0 940.1h0M1456.6 932.7h0M1456.6 936.7h0M1456.6 935.3h0M1456.4 936.8h0M1460.1 920.5h0M1460.1 920.4h0M1460.4 906.5h0M1460.1 919.7h0M1460.3 912.9h0M1460.0 915.8h0M1460.1 905.1h0M1459.9 911.7h0M1460.3 917.3h0M1460.1 899.4h0M1460.3 914.4h0M124.7 890.1h0M141.2 949.3h0M155.3 848.3h0M164.0 933.0h0M174.8 859.6h0M193.6 822.8h0M195.6 822.8h0M201.8 871.8h0M209.9 926.8h0M216.4 875.9h0M228.3 959.5h0M241.5 933.0h0M256.8 981.9h0M279.7 888.1h0M296.6 867.7h0M303.7 888.1h0M323.1 897.3h0M340.0 891.2h0M353.1 890.1h0M360.8 945.2h0M382.2 979.9h0M398.6 1006.4h0M420.4 1007.4h0M441.8 1006.4h0M463.6 796.6h0M467.7 706.8h0M481.2 824.9h0M485.6 843.2h0M514.2 766.0h0M523.4 796.6h0M528.9 862.6h0M544.8 1004.3h0M559.1 1013.5h0M615.1 1019.6h0M628.4 1018.6h0M646.7 1023.3h0M669.2 1025.8h0M689.6 1023.7h0M700.2 1021.7h0M722.2 1015.6h0M747.5 1021.7h0M779.7 1019.6h0M793.6 927.9h0M816.0 871.8h0M837.8 794.5h0M849.1 768.0h0M859.3 766.0h0M870.5 817.0h0M886.8 797.6h0M924.5 941.1h0M931.7 945.2h0M952.0 898.3h0M962.2 916.7h0M972.4 935.0h0M982.0 986.0h0M988.2 994.1h0M988.8 994.1h0M996.3 997.2h0M1012.6 986.0h0M1017.7 986.0h0M1027.9 1004.3h0M1041.2 988.0h0M1055.5 1015.6h0M1072.8 1010.5h0M1091.1 1017.6h0M1108.5 1016.6h0M1132.9 917.7h0M1145.2 959.5h0M1153.7 957.4h0M1163.5 928.9h0M1172.7 994.1h0M1195.5 935.0h0M1205.7 909.5h0M1218.2 941.1h0M1230.4 962.5h0M1238.6 974.8h0M1247.1 1012.5h0M1262.4 964.6h0M1272.6 999.2h0M1291.3 998.8h0M1303.5 988.7h0M1310.7 992.7h0M1331.1 989.7h0M1342.7 966.2h0M1351.5 978.5h0M1360.0 914.2h0M1365.7 943.8h0M1381.0 836.7h0M1389.2 853.0h0M1402.4 871.4h0M1416.7 880.5h0M1428.5 839.7h0M1448.3 873.4h0M147.7 1026.6h0M183.4 1025.5h0M207.9 1025.5h0M221.1 1023.5h0M253.8 1028.6h0M285.4 1019.4h0M313.9 1021.5h0M330.2 1022.5h0M345.5 1023.5h0M353.7 1023.5h0M373.1 1027.6h0M410.0 1027.6h0M461.2 1027.6h0M495.8 1025.5h0M502.0 1025.5h0M531.5 1028.6h0M573.3 1029.6h0M603.9 1029.6h0M654.9 1030.0h0M730.8 1030.0h0M751.2 1030.0h0M807.3 1028.6h0M818.5 1022.5h0M825.6 1020.5h0M857.2 1011.3h0M879.7 1017.4h0M900.0 1021.5h0M940.8 1026.6h0M961.2 1021.5h0M976.5 1026.6h0M988.8 1027.6h0M1000.4 1027.6h0M1020.8 1027.6h0M1061.6 1028.6h0M1102.4 1029.6h0M1137.0 1022.5h0M1159.5 1026.6h0M1173.7 1029.6h0M1192.1 1029.6h0M1214.5 1028.6h0M1241.0 1028.6h0M1265.5 1028.6h0M1283.1 1029.2h0M1314.7 1028.2h0M1335.1 1028.2h0M1353.5 1028.2h0M1396.3 1020.1h0M1404.5 1022.1h0M1414.7 1020.1h0M1438.1 1024.1h0M1454.4 1023.1h0M155.3 819.2h0M155.3 810.0h0M155.3 597.3h0M155.3 618.3h0M155.3 631.4h0M155.3 638.5h0M155.3 655.5h0M155.3 671.4h0M155.3 682.4h0M155.3 688.5h0M155.3 699.3h0M155.3 702.4h0M155.3 728.5h0M155.3 788.4h0M155.3 804.3h0M155.3 808.4h0M155.3 818.6h0M194.2 784.3h0M194.2 790.5h0M194.2 797.8h0M216.4 832.4h0M216.4 840.6h0M216.4 843.6h0M216.4 853.8h0M216.4 858.9h0M216.4 868.1h0M216.4 873.2h0M303.7 855.3h0M303.7 863.4h0M303.7 872.2h0M303.7 876.3h0M303.7 885.5h0M278.2 888.5h0M278.2 893.6h0M278.2 902.8h0M278.2 915.0h0M278.2 926.2h0M241.5 931.3h0M241.5 938.5h0M209.9 927.3h0M209.9 934.4h0M209.9 944.6h0M209.9 950.7h0M467.7 627.3h0M467.7 633.2h0M467.7 640.6h0M467.7 648.1h0M467.7 651.2h0M467.7 655.3h0M467.7 659.3h0M467.7 663.4h0M467.7 667.5h0M467.7 671.6h0M467.7 679.7h0M467.7 689.9h0M467.7 695.0h0M467.7 701.1h0M467.7 705.2h0M467.7 712.4h0M467.7 716.4h0M467.7 721.5h0M488.1 685.8h0M488.1 690.3h0M488.1 695.0h0M488.1 713.4h0M488.1 716.4h0M488.1 723.6h0M488.1 726.2h0M488.1 735.8h0M488.1 739.5h0M488.1 766.4h0M488.1 775.6h0M488.1 780.7h0M488.1 819.4h0M488.1 822.5h0M488.1 827.6h0M487.7 819.2h0M487.7 826.3h0M487.7 841.6h0M487.7 856.9h0M487.7 871.2h0M487.7 881.4h0M487.7 895.6h0M511.5 706.2h0M511.5 714.0h0M511.5 721.5h0M511.5 735.4h0M511.5 754.2h0M519.3 732.1h0M519.3 742.3h0M519.3 750.5h0M519.3 756.6h0M515.8 764.4h0M515.8 767.4h0M475.5 1011.9h0M482.6 1009.8h0M515.8 1012.9h0M478.5 1005.8h0M483.6 1002.7h0M468.3 1001.7h0M469.3 1013.9h0M514.2 1003.7h0M517.3 999.7h0M863.3 631.8h0M863.3 634.9h0M863.3 643.4h0M863.3 649.5h0M863.3 666.5h0M863.3 683.8h0M863.3 700.1h0M863.3 714.4h0M863.3 724.6h0M863.3 760.3h0M858.2 678.1h0M858.2 684.8h0M858.2 692.0h0M858.2 697.1h0M858.2 704.2h0M858.2 708.3h0M858.2 712.4h0M858.2 723.6h0M858.2 734.8h0M858.2 737.8h0M858.2 745.4h0M858.2 755.2h0M866.4 773.5h0M866.4 781.7h0M866.4 786.2h0M866.4 805.1h0M848.7 695.4h0M848.7 701.1h0M848.7 705.2h0M848.7 712.4h0M848.7 717.5h0M848.7 728.7h0M848.7 731.7h0M848.7 745.0h0M848.7 751.1h0M848.7 758.2h0M848.7 763.3h0M837.8 793.3h0M837.8 799.0h0M837.8 804.1h0M837.8 811.3h0M832.1 808.2h0M832.1 815.3h0M832.1 824.5h0M888.8 752.1h0M888.8 754.2h0M888.8 762.3h0M888.8 772.1h0M888.8 776.0h0M888.8 786.4h0M888.8 793.5h0M892.5 781.1h0M892.5 798.0h0M892.5 802.1h0M837.8 1019.0h0M912.3 890.6h0M912.3 907.9h0M924.5 926.2h0M816.0 871.2h0M816.0 879.3h0M816.0 893.6h0M1381.0 813.6h0M1381.0 816.7h0M1381.0 822.8h0M1414.3 794.3h0M1414.3 800.4h0M1414.3 807.5h0M1414.3 813.6h0M1414.3 820.8h0M1414.3 826.5h0M1414.3 848.3h0M1414.3 857.1h0M1414.3 860.6h0M1428.5 813.6h0M1428.5 818.7h0M1428.5 823.8h0M1428.5 828.9h0M1402.4 869.7h0M1402.4 879.9h0M1448.3 872.8h0M1448.3 877.9h0M1448.3 884.0h0M1441.2 900.3h0" stroke="#1f77b4" stroke-width="5.3" stroke-linecap="round" fill="none"/><path d="M117.1 999.7 120.2 1003.7 123.3 934.4 126.3 1009.8 129.0 985.4 131.4 1001.7 134.5 1013.9 137.5 996.6 140.0 1011.9 142.2 983.3 144.7 1005.8 146.3 989.5 148.7 1019.0 150.8 997.6 152.4 993.5 155.3 897.7 157.9 987.4 161.4 1017.0 164.0 975.2 166.1 1005.8 169.1 994.6 171.2 987.4 174.6 910.9 177.3 979.3 180.4 973.1 183.4 1007.8 186.5 1002.7 188.5 1005.8 192.6 985.4 194.6 917.1 197.3 969.1 198.7 965.0 200.3 981.3 201.8 934.4 204.8 1001.7 207.5 996.6 209.5 994.6 212.0 1008.8 214.4 989.5 216.4 917.1 219.7 1008.8 221.1 979.3 223.2 993.5 225.2 985.4 227.3 997.6 228.7 990.5 231.3 1008.8 234.4 997.6 237.5 991.5 239.5 1005.8 242.6 981.3 245.6 1001.7 249.1 1020.0 251.7 1002.7 254.4 1013.9 257.2 992.5 259.9 1010.9 261.9 1005.8 266.0 994.6 269.1 1001.7 272.1 1007.8 274.8 987.4 277.6 965.0 282.3 994.6 284.4 978.2 287.4 987.4 290.5 956.8 292.5 973.1 295.2 937.5 297.6 981.3 300.1 914.0 302.1 956.8 303.7 935.4 306.8 989.5 308.2 977.2 310.9 997.6 312.9 1004.7 316.0 987.4 318.4 960.9 321.1 930.3 324.1 982.3 326.2 998.6 328.2 989.5 330.2 1005.8 332.3 985.4 333.9 993.5 336.4 974.2 338.0 983.3 340.8 955.8 343.5 967.0 346.1 976.2 348.6 969.1 352.1 958.9 355.7 999.7 359.8 974.2 362.9 1011.9 364.9 986.4 367.4 1005.8 370.0 1023.1 374.1 1025.1 378.2 1021.1 380.8 1004.7 383.3 1020.0 387.3 1023.1 392.4 1022.1 397.1 1017.0 401.6 1021.1 405.7 1021.1 410.0 1023.1 412.2 1023.7 416.3 1022.1 419.4 1017.6 423.5 1021.1 428.5 1022.1 434.7 1022.1 439.8 1017.0 443.8 1017.0 448.9 1023.1 454.0 1020.0 458.1 1021.1 460.8 1017.0 462.6 1032.3 464.8 952.7 466.3 830.4 467.9 781.7 470.4 869.1 471.8 857.9 473.8 897.7 475.9 880.4 478.5 931.3 480.1 907.9 482.2 942.6 485.6 907.9 488.1 928.3 489.7 973.1 491.8 1016.0 494.2 1021.1 496.9 1022.1 499.9 1018.0 502.0 1026.2 503.6 952.7 504.4 914.0 506.0 924.2 507.1 903.8 508.7 934.4 510.5 885.5 512.6 907.9 514.6 930.3 517.5 870.8 520.3 916.0 522.4 953.8 523.8 942.6 525.8 985.4 528.1 927.3 529.5 993.5 530.7 1032.3 532.6 1022.1 536.6 1023.1 540.7 1022.1 542.3 1024.1 543.8 1017.0 545.2 1025.1 548.9 1024.1 555.0 1021.1 561.1 1022.1 563.1 1021.1 569.3 1025.1 573.3 1027.2 583.5 1027.8 603.9 1027.8 612.1 1026.2 616.2 1026.8 624.3 1026.6 628.0 1023.1 632.5 1026.6 644.7 1026.2 656.9 1027.2 669.2 1027.2 681.4 1027.8 689.6 1026.2 690.0 1026.6 696.1 1026.2 701.2 1025.1 704.3 1027.2 710.4 1027.8 716.5 1026.6 721.6 1024.1 724.7 1026.6 730.8 1028.2 738.9 1028.2 745.1 1026.6 747.5 1025.1 750.2 1028.2 759.3 1028.2 767.5 1027.2 775.6 1026.2 779.7 1024.1 783.8 1025.1 786.9 1023.1 789.9 1007.8 792.0 989.5 794.0 965.0 796.0 999.7 797.5 989.5 800.1 1024.1 803.2 1025.1 806.2 1024.1 807.9 1026.2 809.3 983.3 811.3 971.1 814.0 985.4 816.4 965.0 818.5 1003.7 820.5 944.6 822.6 950.7 824.6 927.3 827.6 1005.8 829.7 924.2 831.7 919.1 833.8 932.4 835.8 950.7 839.3 912.0 841.3 968.0 843.4 928.3 845.0 918.1 846.6 853.8 848.0 883.4 849.5 852.8 852.1 901.8 853.5 932.4 855.2 926.2 856.6 948.7 858.2 818.2 860.9 967.0 862.7 905.8 865.0 977.2 867.0 924.2 868.4 961.9 870.5 913.0 873.1 952.7 875.6 950.7 877.2 949.7 880.1 989.5 882.7 952.7 884.7 912.0 886.2 971.1 888.2 909.9 889.8 979.3 891.5 899.7 892.9 932.4 894.5 920.1 897.0 960.9 898.0 956.8 900.0 990.5 902.5 949.7 905.1 973.1 907.8 965.0 909.2 983.3 911.9 962.9 915.3 998.6 918.4 985.4 920.4 991.5 924.1 981.3 926.6 989.5 928.6 991.5 931.2 981.3 933.7 1003.7 936.7 1011.9 940.8 1016.0 943.9 1003.7 946.9 985.4 949.0 993.5 951.0 974.2 954.1 997.6 956.7 993.5 959.2 1007.8 961.6 961.9 964.3 989.5 966.3 978.2 969.4 993.5 971.8 965.0 974.5 993.5 976.5 1009.8 978.1 991.5 980.6 1009.8 983.7 1016.0 986.7 1019.0 988.1 1013.9 990.2 1022.1 992.2 1017.0 994.3 1021.1 996.3 1007.8 998.8 1022.1 1001.4 1018.0 1004.5 1019.0 1007.5 1016.0 1010.6 1023.1 1013.6 1008.8 1015.7 1005.8 1018.3 1022.1 1020.8 1024.1 1022.8 1022.1 1024.9 1027.2 1027.5 1013.9 1030.0 1022.1 1033.0 1017.0 1035.5 1020.0 1039.1 1012.9 1042.2 1011.9 1045.3 1022.1 1048.3 1025.1 1052.4 1022.1 1056.5 1024.1 1060.6 1022.1 1063.6 1024.1 1067.7 1021.7 1071.8 1023.1 1074.8 1019.0 1078.9 1022.1 1084.0 1024.1 1089.1 1026.2 1092.2 1023.7 1094.2 1025.8 1097.3 1023.7 1101.3 1026.2 1105.4 1023.1 1108.5 1023.1 1113.6 1027.2 1118.7 1024.1 1122.7 1023.1 1124.4 1005.8 1126.4 1003.7 1127.8 991.5 1129.9 1005.8 1131.9 971.1 1135.0 983.3 1137.4 1011.9 1140.1 991.5 1142.1 999.7 1144.2 994.6 1146.8 1013.9 1150.3 1007.8 1153.7 985.4 1155.8 1005.8 1159.5 1022.1 1163.5 972.1 1166.0 999.7 1168.6 1016.0 1171.3 1013.9 1173.3 1028.2 1176.8 1025.1 1179.8 1028.2 1180.9 1024.1 1183.9 1026.2 1188.0 1022.1 1191.7 1031.3 1194.7 980.3 1197.2 1005.8 1199.2 1010.9 1200.9 995.6 1202.7 1011.9 1205.3 934.4 1207.4 993.5 1209.4 1016.0 1212.1 1001.7 1214.9 1028.2 1218.2 974.2 1220.2 997.6 1221.7 983.3 1224.3 993.5 1227.8 991.5 1231.8 993.5 1234.9 997.6 1236.5 1005.8 1238.0 999.7 1240.0 1028.2 1243.1 1022.1 1247.1 1019.0 1250.2 1026.2 1253.3 1023.1 1257.3 1026.2 1259.8 1009.8 1261.4 1027.2 1264.5 1024.1 1267.5 1022.1 1270.6 1012.9 1274.7 1020.0 1277.7 1023.1 1280.0 1022.1 1283.1 1023.7 1286.2 1021.7 1289.9 1014.6 1292.3 1020.7 1294.4 1019.7 1296.4 1024.7 1298.8 1014.6 1301.9 1005.4 1304.1 1023.7 1306.6 1025.8 1309.6 1014.6 1311.7 1023.7 1314.7 1024.7 1317.8 1020.7 1321.9 1024.7 1324.9 1025.8 1328.0 1023.7 1330.0 1009.5 1332.1 1020.7 1334.1 1017.6 1337.2 1025.8 1339.6 1019.7 1342.3 1005.4 1345.3 1023.7 1348.4 1011.5 1351.5 1001.3 1354.5 1021.7 1356.6 1021.7 1359.2 968.7 1362.1 1004.4 1365.3 984.0 1368.2 1023.7 1370.8 1013.5 1373.5 936.0 1375.5 1026.8 1376.9 920.7 1379.0 987.0 1381.0 913.6 1383.1 953.4 1386.1 963.6 1388.2 941.1 1389.8 953.4 1391.8 932.0 1394.3 988.0 1396.9 942.2 1399.4 959.5 1401.4 949.3 1404.5 973.8 1407.5 959.5 1409.6 976.8 1414.3 929.9 1416.7 963.6 1418.1 948.3 1420.4 978.9 1422.4 969.7 1425.5 986.0 1428.5 906.5 1430.6 941.1 1433.0 971.7 1435.1 961.5 1438.1 977.8 1441.6 949.3 1443.6 959.5 1447.3 943.2 1450.4 979.9 1453.4 1001.3 1456.5 959.5 1458.5 984.0 1460.6 939.1 1463.2 934.0" stroke="#ff7f0e" stroke-width="2.25" fill="none" stroke-linejoin="round" stroke-linecap="butt"/></g>
<path d="M116.5 1054.5v5.4M284.5 1054.5v5.4M452.5 1054.5v5.4M621.5 1054.5v5.4M789.5 1054.5v5.4M957.5 1054.5v5.4M1125.5 1054.5v5.4M1294.5 1054.5v5.4M116.5 608.5h-5.4M116.5 714.5h-5.4M116.5 819.5h-5.4M116.5 924.5h-5.4M116.5 1030.5h-5.4" stroke="#000" stroke-width="1.1" fill="none"/>
<rect x="116.5" y="575.5" width="1346.0" height="479.0" fill="none" stroke="#000" stroke-width="1.1"/>
<text x="105.2" y="50.4" font-size="23.2" text-anchor="end" textLength="13.6" lengthAdjust="spacingAndGlyphs" >2</text>
<text x="105.2" y="147.4" font-size="23.2" text-anchor="end" textLength="13.6" lengthAdjust="spacingAndGlyphs" >1</text>
<text x="105.2" y="244.4" font-size="23.2" text-anchor="end" textLength="13.6" lengthAdjust="spacingAndGlyphs" >0</text>
<text x="104.6" y="341.4" font-size="23.2" text-anchor="end" textLength="31.5" lengthAdjust="spacingAndGlyphs" >−1</text>
<text x="104.6" y="439.4" font-size="23.2" text-anchor="end" textLength="31.5" lengthAdjust="spacingAndGlyphs" >−2</text>
<text x="104.6" y="616.4" font-size="23.2" text-anchor="end" textLength="37.6" lengthAdjust="spacingAndGlyphs" >0.8</text>
<text x="104.6" y="722.4" font-size="23.2" text-anchor="end" textLength="37.6" lengthAdjust="spacingAndGlyphs" >0.6</text>
<text x="104.6" y="827.4" font-size="23.2" text-anchor="end" textLength="37.6" lengthAdjust="spacingAndGlyphs" >0.4</text>
<text x="104.6" y="932.4" font-size="23.2" text-anchor="end" textLength="37.6" lengthAdjust="spacingAndGlyphs" >0.2</text>
<text x="104.6" y="1038.4" font-size="23.2" text-anchor="end" textLength="37.6" lengthAdjust="spacingAndGlyphs" >0.0</text>
<g transform="translate(105.1,1066) rotate(-30)"><text x="0" y="14.5" font-size="23.2" text-anchor="end" textLength="109.5" lengthAdjust="spacingAndGlyphs" >07-20 00</text></g>
<g transform="translate(273.1,1066) rotate(-30)"><text x="0" y="14.5" font-size="23.2" text-anchor="end" textLength="109.5" lengthAdjust="spacingAndGlyphs" >07-20 03</text></g>
<g transform="translate(441.1,1066) rotate(-30)"><text x="0" y="14.5" font-size="23.2" text-anchor="end" textLength="109.5" lengthAdjust="spacingAndGlyphs" >07-20 06</text></g>
<g transform="translate(610.1,1066) rotate(-30)"><text x="0" y="14.5" font-size="23.2" text-anchor="end" textLength="109.5" lengthAdjust="spacingAndGlyphs" >07-20 09</text></g>
<g transform="translate(778.1,1066) rotate(-30)"><text x="0" y="14.5" font-size="23.2" text-anchor="end" textLength="109.5" lengthAdjust="spacingAndGlyphs" >07-20 12</text></g>
<g transform="translate(946.1,1066) rotate(-30)"><text x="0" y="14.5" font-size="23.2" text-anchor="end" textLength="109.5" lengthAdjust="spacingAndGlyphs" >07-20 15</text></g>
<g transform="translate(1114.1,1066) rotate(-30)"><text x="0" y="14.5" font-size="23.2" text-anchor="end" textLength="109.5" lengthAdjust="spacingAndGlyphs" >07-20 18</text></g>
<g transform="translate(1283.1,1066) rotate(-30)"><text x="0" y="14.5" font-size="23.2" text-anchor="end" textLength="109.5" lengthAdjust="spacingAndGlyphs" >07-20 21</text></g>
<text x="784.5" y="30.3" font-size="26.3" text-anchor="middle" textLength="298" lengthAdjust="spacingAndGlyphs" >15.0 MHz N0000003</text>
<text x="116.3" y="29.3" font-size="26.5" text-anchor="start" textLength="40" lengthAdjust="spacingAndGlyphs" >(a)</text>
<text x="116.3" y="566.2" font-size="26.5" text-anchor="start" textLength="41" lengthAdjust="spacingAndGlyphs" >(b)</text>
<text x="789.5" y="1157.8" font-size="23.2" text-anchor="middle" textLength="48" lengthAdjust="spacingAndGlyphs" >UTC</text>
<g transform="translate(61.5,278.5) rotate(-90)"><text x="0" y="0" font-size="23.2" text-anchor="middle" textLength="222" lengthAdjust="spacingAndGlyphs" >Doppler Shift [Hz]</text></g>
<g transform="translate(56.2,814.5) rotate(-90)"><text x="0" y="0" font-size="23.2" text-anchor="middle" textLength="208" lengthAdjust="spacingAndGlyphs" >Peak Voltage [V]</text></g>
<rect x="1047.5" y="48.6" width="406.3" height="80" rx="3.5" fill="#fff" fill-opacity="0.8" stroke="#cccccc" stroke-width="1.3"/>
<circle cx="1073.3" cy="63.6" r="2.8" fill="#1f77b4"/>
<path d="M1053.4 102H1091.7" stroke="#ff7f0e" stroke-width="2.1"/>
<text x="1107.3" y="69.3" font-size="17.5" text-anchor="start" textLength="97" lengthAdjust="spacingAndGlyphs" >Raw Data</text>
<text x="1107.3" y="95.6" font-size="17.5" text-anchor="start" textLength="268" lengthAdjust="spacingAndGlyphs" >Butterworth Filtered Data</text>
<text x="1107.3" y="116.8" font-size="17.5" text-anchor="start" textLength="337.5" lengthAdjust="spacingAndGlyphs" >(N=6, Tc=3.3333 min, Type: low)</text>
<rect x="1047.5" y="585.0" width="406.3" height="80" rx="3.5" fill="#fff" fill-opacity="0.8" stroke="#cccccc" stroke-width="1.3"/>
<circle cx="1073.3" cy="600.0" r="2.8" fill="#1f77b4"/>
<path d="M1053.4 638.4H1091.7" stroke="#ff7f0e" stroke-width="2.1"/>
<text x="1107.3" y="605.6999999999999" font-size="17.5" text-anchor="start" textLength="97" lengthAdjust="spacingAndGlyphs" >Raw Data</text>
<text x="1107.3" y="632.0" font-size="17.5" text-anchor="start" textLength="268" lengthAdjust="spacingAndGlyphs" >Butterworth Filtered Data</text>
<text x="1107.3" y="653.1999999999999" font-size="17.5" text-anchor="start" textLength="337.5" lengthAdjust="spacingAndGlyphs" >(N=6, Tc=3.3333 min, Type: low)</text>
</svg>
</body></html>
